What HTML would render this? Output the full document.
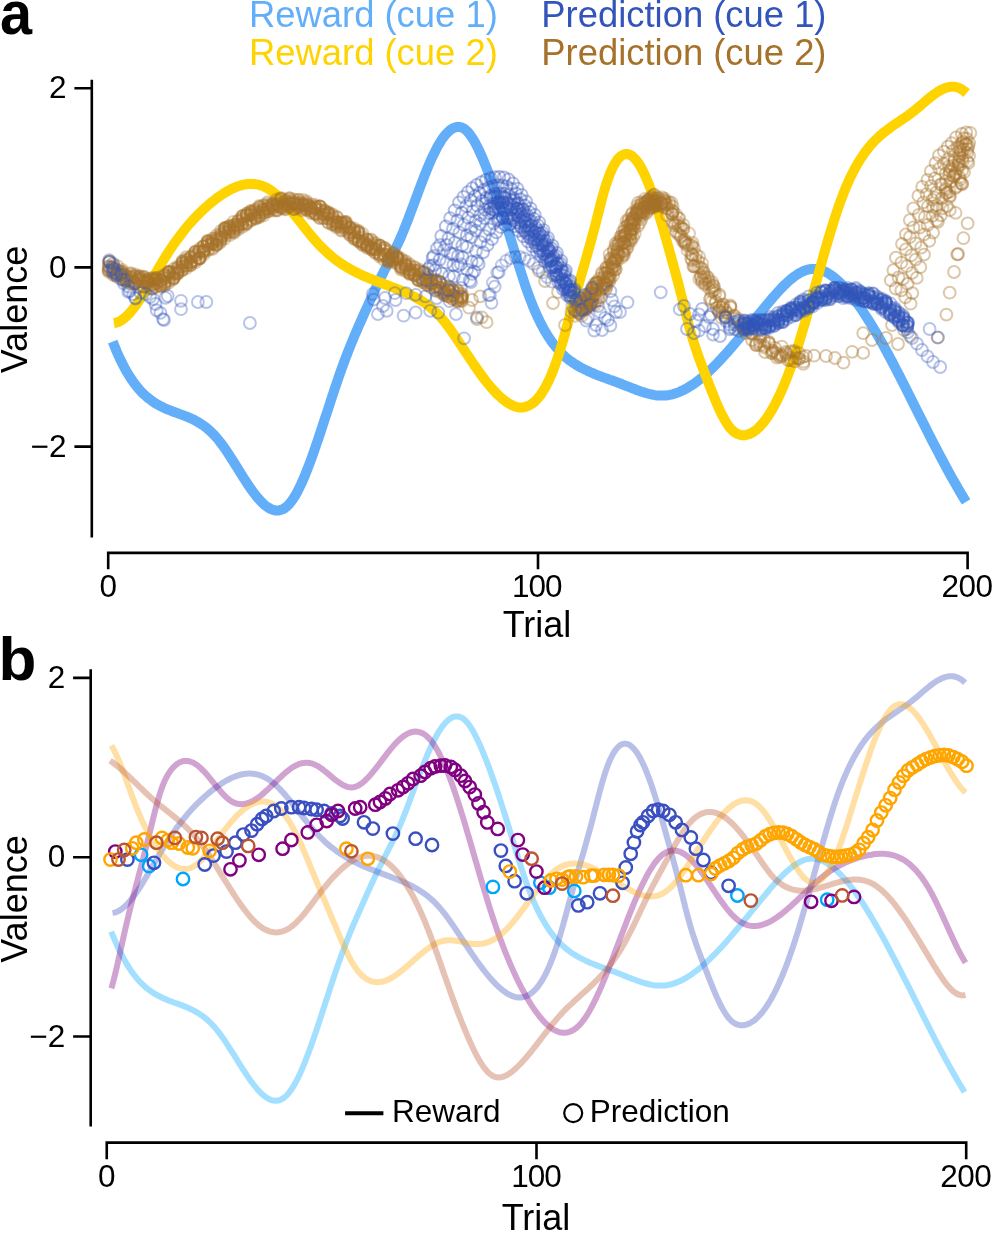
<!DOCTYPE html>
<html><head><meta charset="utf-8"><style>
html,body{margin:0;padding:0;background:#fff;}
body{width:993px;height:1233px;overflow:hidden;font-family:"Liberation Sans",sans-serif;}
svg{display:block;will-change:transform;}
</style></head><body>
<svg width="993" height="1233" viewBox="0 0 993 1233"><path d="M112.7,341.6L114.7,346.7L116.7,351.5L118.7,356.0L120.7,360.3L122.7,364.3L124.7,368.1L126.7,371.7L128.7,375.0L130.7,378.2L132.7,381.1L134.7,383.9L136.7,386.4L138.7,388.9L140.7,391.1L142.7,393.2L144.8,395.1L146.8,396.9L148.8,398.6L150.8,400.1L152.8,401.6L154.8,402.9L156.8,404.1L158.8,405.2L160.8,406.3L162.8,407.3L164.8,408.2L166.8,409.1L168.8,409.9L170.8,410.7L172.8,411.5L174.8,412.2L176.8,412.9L178.8,413.7L180.8,414.4L182.8,415.1L184.8,415.9L186.8,416.7L188.8,417.5L190.8,418.4L192.8,419.3L194.8,420.3L196.8,421.4L198.8,422.6L200.8,423.8L202.8,425.2L204.9,426.6L206.9,428.2L208.9,429.9L210.9,431.7L212.9,433.7L214.9,435.8L216.9,438.0L218.9,440.5L220.9,443.1L222.9,445.8L224.9,448.6L226.9,451.6L228.9,454.6L230.9,457.7L232.9,460.8L234.9,464.0L236.9,467.2L238.9,470.4L240.9,473.6L242.9,476.8L244.9,479.9L246.9,483.0L248.9,486.0L250.9,488.9L252.9,491.7L254.9,494.3L256.9,496.8L258.9,499.2L260.9,501.4L262.9,503.4L264.9,505.2L267.0,506.7L269.0,508.0L271.0,509.1L273.0,509.9L275.0,510.4L277.0,510.5L279.0,510.4L281.0,509.9L283.0,509.1L285.0,507.9L287.0,506.3L289.0,504.3L291.0,501.9L293.0,499.1L295.0,495.9L297.0,492.4L299.0,488.5L301.0,484.4L303.0,479.9L305.0,475.2L307.0,470.2L309.0,465.0L311.0,459.7L313.0,454.1L315.0,448.4L317.0,442.5L319.0,436.6L321.0,430.6L323.0,424.5L325.0,418.3L327.1,412.1L329.1,406.0L331.1,399.8L333.1,393.7L335.1,387.7L337.1,381.8L339.1,375.9L341.1,370.3L343.1,364.7L345.1,359.3L347.1,354.1L349.1,349.0L351.1,344.0L353.1,339.2L355.1,334.4L357.1,329.7L359.1,325.1L361.1,320.6L363.1,316.1L365.1,311.6L367.1,307.2L369.1,302.7L371.1,298.3L373.1,293.9L375.1,289.6L377.1,285.3L379.1,281.1L381.1,277.0L383.1,273.1L385.1,269.1L387.2,265.3L389.2,261.4L391.2,257.5L393.2,253.5L395.2,249.4L397.2,245.2L399.2,240.9L401.2,236.4L403.2,231.6L405.2,226.7L407.2,221.6L409.2,216.4L411.2,211.1L413.2,205.7L415.2,200.3L417.2,194.9L419.2,189.5L421.2,184.2L423.2,178.9L425.2,173.8L427.2,168.9L429.2,164.1L431.2,159.5L433.2,155.2L435.2,151.2L437.2,147.3L439.2,143.8L441.2,140.6L443.2,137.6L445.2,135.0L447.2,132.8L449.3,130.8L451.3,129.3L453.3,128.1L455.3,127.3L457.3,126.8L459.3,126.9L461.3,127.3L463.3,128.2L465.3,129.6L467.3,131.4L469.3,133.7L471.3,136.4L473.3,139.5L475.3,143.0L477.3,146.8L479.3,151.0L481.3,155.4L483.3,160.0L485.3,164.8L487.3,169.9L489.3,175.0L491.3,180.4L493.3,185.9L495.3,191.6L497.3,197.4L499.3,203.3L501.3,209.4L503.3,215.5L505.3,221.8L507.3,228.3L509.4,234.7L511.4,241.3L513.4,247.8L515.4,254.4L517.4,260.9L519.4,267.3L521.4,273.6L523.4,279.8L525.4,285.8L527.4,291.6L529.4,297.1L531.4,302.3L533.4,307.3L535.4,312.0L537.4,316.5L539.4,320.7L541.4,324.7L543.4,328.4L545.4,331.9L547.4,335.2L549.4,338.3L551.4,341.3L553.4,344.0L555.4,346.5L557.4,348.9L559.4,351.1L561.4,353.2L563.4,355.2L565.4,357.0L567.4,358.7L569.4,360.3L571.5,361.7L573.5,363.1L575.5,364.4L577.5,365.6L579.5,366.8L581.5,367.9L583.5,368.9L585.5,369.9L587.5,370.9L589.5,371.8L591.5,372.7L593.5,373.5L595.5,374.4L597.5,375.2L599.5,375.9L601.5,376.7L603.5,377.4L605.5,378.1L607.5,378.8L609.5,379.6L611.5,380.3L613.5,381.0L615.5,381.7L617.5,382.5L619.5,383.2L621.5,384.0L623.5,384.8L625.5,385.6L627.5,386.4L629.5,387.2L631.6,388.0L633.6,388.7L635.6,389.5L637.6,390.3L639.6,391.0L641.6,391.7L643.6,392.3L645.6,393.0L647.6,393.5L649.6,394.0L651.6,394.5L653.6,394.9L655.6,395.2L657.6,395.4L659.6,395.6L661.6,395.6L663.6,395.6L665.6,395.5L667.6,395.2L669.6,394.9L671.6,394.5L673.6,394.0L675.6,393.3L677.6,392.6L679.6,391.8L681.6,390.9L683.6,390.0L685.6,388.9L687.6,387.8L689.6,386.5L691.6,385.2L693.7,383.9L695.7,382.4L697.7,380.9L699.7,379.4L701.7,377.7L703.7,376.0L705.7,374.3L707.7,372.5L709.7,370.6L711.7,368.7L713.7,366.7L715.7,364.7L717.7,362.6L719.7,360.5L721.7,358.4L723.7,356.2L725.7,354.0L727.7,351.8L729.7,349.5L731.7,347.2L733.7,344.8L735.7,342.5L737.7,340.1L739.7,337.7L741.7,335.3L743.7,332.9L745.7,330.5L747.7,328.0L749.7,325.6L751.7,323.1L753.8,320.7L755.8,318.2L757.8,315.7L759.8,313.3L761.8,310.9L763.8,308.4L765.8,306.0L767.8,303.6L769.8,301.2L771.8,298.9L773.8,296.5L775.8,294.3L777.8,292.0L779.8,289.9L781.8,287.8L783.8,285.7L785.8,283.8L787.8,281.9L789.8,280.1L791.8,278.5L793.8,276.9L795.8,275.5L797.8,274.1L799.8,272.9L801.8,271.9L803.8,271.0L805.8,270.2L807.8,269.6L809.8,269.2L811.8,268.9L813.9,268.9L815.9,269.0L817.9,269.2L819.9,269.7L821.9,270.3L823.9,271.1L825.9,272.0L827.9,273.1L829.9,274.4L831.9,275.8L833.9,277.3L835.9,278.9L837.9,280.7L839.9,282.6L841.9,284.6L843.9,286.7L845.9,288.9L847.9,291.2L849.9,293.6L851.9,296.1L853.9,298.7L855.9,301.4L857.9,304.2L859.9,307.0L861.9,310.0L863.9,313.0L865.9,316.1L867.9,319.2L869.9,322.4L871.9,325.7L873.9,329.1L876.0,332.5L878.0,335.9L880.0,339.5L882.0,343.0L884.0,346.6L886.0,350.3L888.0,354.0L890.0,357.8L892.0,361.5L894.0,365.3L896.0,369.2L898.0,373.1L900.0,376.9L902.0,380.9L904.0,384.8L906.0,388.8L908.0,392.7L910.0,396.7L912.0,400.7L914.0,404.7L916.0,408.7L918.0,412.7L920.0,416.6L922.0,420.6L924.0,424.6L926.0,428.6L928.0,432.5L930.0,436.5L932.0,440.4L934.0,444.3L936.1,448.2L938.1,452.0L940.1,455.8L942.1,459.6L944.1,463.4L946.1,467.1L948.1,470.8L950.1,474.5L952.1,478.1L954.1,481.6L956.1,485.1L958.1,488.6L960.1,492.0L962.1,495.4L964.1,498.7L966.1,501.9" fill="none" stroke="#63AEF9" stroke-width="10.0" stroke-linejoin="round"/>
<path d="M113.9,323.0L115.9,322.7L117.9,322.1L119.9,321.2L121.9,320.0L123.9,318.5L125.9,316.8L127.9,314.9L129.9,312.8L131.9,310.4L133.9,307.9L135.9,305.3L137.9,302.4L139.9,299.5L141.9,296.4L143.9,293.3L145.9,290.0L147.9,286.7L149.9,283.3L151.9,279.9L153.9,276.4L155.9,273.0L157.9,269.5L159.9,266.1L161.9,262.7L163.9,259.4L165.9,256.2L167.9,253.0L169.9,249.9L171.9,246.9L173.9,244.0L176.0,241.1L178.0,238.4L180.0,235.7L182.0,233.1L184.0,230.5L186.0,228.0L188.0,225.6L190.0,223.3L192.0,221.1L194.0,218.9L196.0,216.7L198.0,214.7L200.0,212.7L202.0,210.7L204.0,208.9L206.0,207.0L208.0,205.3L210.0,203.6L212.0,201.9L214.0,200.4L216.0,198.8L218.0,197.3L220.0,195.9L222.0,194.6L224.0,193.3L226.0,192.0L228.0,190.9L230.0,189.8L232.0,188.8L234.0,187.9L236.0,187.0L238.0,186.3L240.0,185.6L242.0,185.1L244.0,184.6L246.0,184.3L248.0,184.1L250.0,183.9L252.0,183.9L254.0,184.1L256.0,184.3L258.0,184.7L260.0,185.2L262.0,185.8L264.0,186.6L266.0,187.5L268.0,188.6L270.0,189.8L272.0,191.2L274.0,192.7L276.0,194.4L278.0,196.2L280.0,198.2L282.0,200.2L284.0,202.3L286.0,204.6L288.0,206.9L290.0,209.3L292.0,211.7L294.0,214.2L296.0,216.7L298.1,219.2L300.1,221.8L302.1,224.3L304.1,226.9L306.1,229.4L308.1,231.9L310.1,234.4L312.1,236.8L314.1,239.2L316.1,241.4L318.1,243.6L320.1,245.7L322.1,247.8L324.1,249.7L326.1,251.6L328.1,253.4L330.1,255.1L332.1,256.8L334.1,258.4L336.1,259.9L338.1,261.4L340.1,262.8L342.1,264.2L344.1,265.5L346.1,266.7L348.1,267.9L350.1,269.1L352.1,270.2L354.1,271.2L356.1,272.3L358.1,273.3L360.1,274.2L362.1,275.2L364.1,276.1L366.1,276.9L368.1,277.8L370.1,278.6L372.1,279.4L374.1,280.2L376.1,281.0L378.1,281.8L380.1,282.5L382.1,283.3L384.1,284.0L386.1,284.8L388.1,285.5L390.1,286.3L392.1,287.1L394.1,287.8L396.1,288.6L398.1,289.4L400.1,290.2L402.1,291.1L404.1,291.9L406.1,292.8L408.1,293.7L410.1,294.6L412.1,295.6L414.1,296.6L416.1,297.7L418.1,298.9L420.2,300.0L422.2,301.3L424.2,302.6L426.2,304.1L428.2,305.6L430.2,307.2L432.2,308.9L434.2,310.7L436.2,312.6L438.2,314.6L440.2,316.7L442.2,319.0L444.2,321.4L446.2,323.9L448.2,326.6L450.2,329.3L452.2,332.1L454.2,335.0L456.2,338.0L458.2,341.0L460.2,344.0L462.2,347.0L464.2,350.0L466.2,353.1L468.2,356.1L470.2,359.1L472.2,362.0L474.2,365.0L476.2,367.8L478.2,370.7L480.2,373.5L482.2,376.2L484.2,378.9L486.2,381.5L488.2,384.0L490.2,386.4L492.2,388.7L494.2,390.9L496.2,393.1L498.2,395.1L500.2,396.9L502.2,398.7L504.2,400.3L506.2,401.8L508.2,403.1L510.2,404.3L512.2,405.3L514.2,406.2L516.2,406.8L518.2,407.2L520.2,407.4L522.2,407.4L524.2,407.2L526.2,406.7L528.2,405.9L530.2,404.9L532.2,403.6L534.2,402.0L536.2,400.1L538.2,397.9L540.3,395.3L542.3,392.4L544.3,389.2L546.3,385.6L548.3,381.6L550.3,377.2L552.3,372.5L554.3,367.3L556.3,361.8L558.3,355.9L560.3,349.7L562.3,343.1L564.3,336.1L566.3,328.9L568.3,321.6L570.3,314.2L572.3,306.8L574.3,299.7L576.3,292.6L578.3,285.6L580.3,278.7L582.3,271.7L584.3,264.8L586.3,257.8L588.3,250.7L590.3,243.5L592.3,236.2L594.3,228.7L596.3,220.9L598.3,213.0L600.3,205.2L602.3,197.6L604.3,190.5L606.3,183.9L608.3,178.1L610.3,172.9L612.3,168.4L614.3,164.5L616.3,161.3L618.3,158.6L620.3,156.6L622.3,155.2L624.3,154.3L626.3,154.0L628.3,154.3L630.3,155.0L632.3,156.3L634.3,158.1L636.3,160.3L638.3,163.0L640.3,166.2L642.3,169.8L644.3,173.9L646.3,178.3L648.3,183.1L650.3,188.3L652.3,193.9L654.3,199.8L656.3,206.0L658.3,212.4L660.3,219.1L662.4,225.9L664.4,232.9L666.4,240.0L668.4,247.2L670.4,254.5L672.4,261.7L674.4,269.0L676.4,276.4L678.4,283.9L680.4,291.7L682.4,299.6L684.4,307.7L686.4,315.8L688.4,323.6L690.4,331.0L692.4,337.9L694.4,344.4L696.4,350.5L698.4,356.3L700.4,361.8L702.4,367.1L704.4,372.3L706.4,377.5L708.4,382.7L710.4,387.8L712.4,392.9L714.4,397.9L716.4,402.7L718.4,407.2L720.4,411.6L722.4,415.7L724.4,419.4L726.4,422.8L728.4,425.8L730.4,428.3L732.4,430.4L734.4,432.1L736.4,433.4L738.4,434.3L740.4,434.9L742.4,435.2L744.4,435.2L746.4,434.9L748.4,434.3L750.4,433.5L752.4,432.5L754.4,431.2L756.4,429.7L758.4,427.9L760.4,425.9L762.4,423.7L764.4,421.3L766.4,418.6L768.4,415.7L770.4,412.5L772.4,409.1L774.4,405.5L776.4,401.6L778.4,397.6L780.4,393.3L782.4,388.7L784.5,384.0L786.5,379.0L788.5,373.8L790.5,368.3L792.5,362.7L794.5,356.8L796.5,350.7L798.5,344.4L800.5,337.8L802.5,331.1L804.5,324.3L806.5,317.3L808.5,310.2L810.5,303.0L812.5,295.8L814.5,288.5L816.5,281.2L818.5,273.9L820.5,266.7L822.5,259.5L824.5,252.4L826.5,245.4L828.5,238.5L830.5,231.8L832.5,225.2L834.5,218.9L836.5,212.7L838.5,206.9L840.5,201.2L842.5,195.9L844.5,190.8L846.5,186.0L848.5,181.5L850.5,177.2L852.5,173.1L854.5,169.2L856.5,165.6L858.5,162.2L860.5,158.9L862.5,155.9L864.5,153.0L866.5,150.3L868.5,147.8L870.5,145.4L872.5,143.1L874.5,141.0L876.5,139.0L878.5,137.1L880.5,135.3L882.5,133.6L884.5,131.9L886.5,130.4L888.5,128.9L890.5,127.4L892.5,126.0L894.5,124.6L896.5,123.3L898.5,121.9L900.5,120.6L902.5,119.2L904.5,117.9L906.6,116.5L908.6,115.1L910.6,113.6L912.6,112.1L914.6,110.5L916.6,108.8L918.6,107.1L920.6,105.4L922.6,103.7L924.6,102.0L926.6,100.3L928.6,98.6L930.6,97.0L932.6,95.5L934.6,94.0L936.6,92.6L938.6,91.3L940.6,90.2L942.6,89.2L944.6,88.3L946.6,87.6L948.6,87.1L950.6,86.8L952.6,86.7L954.6,86.8L956.6,87.2L958.6,87.8L960.6,88.7L962.6,89.9L964.6,91.4L966.6,93.1" fill="none" stroke="#FFD300" stroke-width="10.0" stroke-linejoin="round"/>
<g fill="none"><circle cx="108.5" cy="270.4" r="5.9" stroke="#A6722A" stroke-width="2.0" stroke-opacity="0.35"/><circle cx="108.9" cy="269.7" r="5.9" stroke="#A6722A" stroke-width="2.0" stroke-opacity="0.35"/><circle cx="109.6" cy="267.5" r="5.9" stroke="#A6722A" stroke-width="2.0" stroke-opacity="0.35"/><circle cx="109.0" cy="261.9" r="5.9" stroke="#A6722A" stroke-width="2.0" stroke-opacity="0.35"/><circle cx="108.7" cy="267.0" r="5.9" stroke="#A6722A" stroke-width="2.0" stroke-opacity="0.35"/><circle cx="109.2" cy="270.6" r="5.9" stroke="#A6722A" stroke-width="2.0" stroke-opacity="0.35"/><circle cx="108.9" cy="261.8" r="5.9" stroke="#A6722A" stroke-width="2.0" stroke-opacity="0.35"/><circle cx="108.7" cy="271.9" r="5.9" stroke="#A6722A" stroke-width="2.0" stroke-opacity="0.35"/><circle cx="108.7" cy="266.4" r="5.9" stroke="#A6722A" stroke-width="2.0" stroke-opacity="0.35"/><circle cx="109.5" cy="261.3" r="5.9" stroke="#A6722A" stroke-width="2.0" stroke-opacity="0.35"/><circle cx="113.4" cy="275.0" r="5.9" stroke="#A6722A" stroke-width="2.0" stroke-opacity="0.35"/><circle cx="113.0" cy="270.2" r="5.9" stroke="#A6722A" stroke-width="2.0" stroke-opacity="0.35"/><circle cx="113.8" cy="265.2" r="5.9" stroke="#A6722A" stroke-width="2.0" stroke-opacity="0.35"/><circle cx="113.3" cy="272.6" r="5.9" stroke="#A6722A" stroke-width="2.0" stroke-opacity="0.35"/><circle cx="113.5" cy="269.2" r="5.9" stroke="#A6722A" stroke-width="2.0" stroke-opacity="0.35"/><circle cx="112.9" cy="269.5" r="5.9" stroke="#A6722A" stroke-width="2.0" stroke-opacity="0.35"/><circle cx="113.1" cy="269.3" r="5.9" stroke="#A6722A" stroke-width="2.0" stroke-opacity="0.35"/><circle cx="113.1" cy="273.6" r="5.9" stroke="#A6722A" stroke-width="2.0" stroke-opacity="0.35"/><circle cx="113.6" cy="267.3" r="5.9" stroke="#A6722A" stroke-width="2.0" stroke-opacity="0.35"/><circle cx="113.4" cy="266.9" r="5.9" stroke="#A6722A" stroke-width="2.0" stroke-opacity="0.35"/><circle cx="117.5" cy="270.3" r="5.9" stroke="#A6722A" stroke-width="2.0" stroke-opacity="0.35"/><circle cx="117.8" cy="270.5" r="5.9" stroke="#A6722A" stroke-width="2.0" stroke-opacity="0.35"/><circle cx="117.6" cy="274.7" r="5.9" stroke="#A6722A" stroke-width="2.0" stroke-opacity="0.35"/><circle cx="117.5" cy="277.0" r="5.9" stroke="#A6722A" stroke-width="2.0" stroke-opacity="0.35"/><circle cx="117.2" cy="275.0" r="5.9" stroke="#A6722A" stroke-width="2.0" stroke-opacity="0.35"/><circle cx="117.5" cy="271.2" r="5.9" stroke="#A6722A" stroke-width="2.0" stroke-opacity="0.35"/><circle cx="117.8" cy="272.4" r="5.9" stroke="#A6722A" stroke-width="2.0" stroke-opacity="0.35"/><circle cx="117.5" cy="266.1" r="5.9" stroke="#A6722A" stroke-width="2.0" stroke-opacity="0.35"/><circle cx="117.1" cy="274.6" r="5.9" stroke="#A6722A" stroke-width="2.0" stroke-opacity="0.35"/><circle cx="117.6" cy="274.4" r="5.9" stroke="#A6722A" stroke-width="2.0" stroke-opacity="0.35"/><circle cx="122.4" cy="276.6" r="5.9" stroke="#A6722A" stroke-width="2.0" stroke-opacity="0.35"/><circle cx="121.4" cy="272.1" r="5.9" stroke="#A6722A" stroke-width="2.0" stroke-opacity="0.35"/><circle cx="122.0" cy="271.3" r="5.9" stroke="#A6722A" stroke-width="2.0" stroke-opacity="0.35"/><circle cx="122.5" cy="279.8" r="5.9" stroke="#A6722A" stroke-width="2.0" stroke-opacity="0.35"/><circle cx="122.3" cy="274.1" r="5.9" stroke="#A6722A" stroke-width="2.0" stroke-opacity="0.35"/><circle cx="122.3" cy="270.0" r="5.9" stroke="#A6722A" stroke-width="2.0" stroke-opacity="0.35"/><circle cx="121.7" cy="274.0" r="5.9" stroke="#A6722A" stroke-width="2.0" stroke-opacity="0.35"/><circle cx="122.2" cy="274.3" r="5.9" stroke="#A6722A" stroke-width="2.0" stroke-opacity="0.35"/><circle cx="121.5" cy="272.6" r="5.9" stroke="#A6722A" stroke-width="2.0" stroke-opacity="0.35"/><circle cx="121.7" cy="272.0" r="5.9" stroke="#A6722A" stroke-width="2.0" stroke-opacity="0.35"/><circle cx="125.8" cy="275.5" r="5.9" stroke="#A6722A" stroke-width="2.0" stroke-opacity="0.35"/><circle cx="126.1" cy="279.9" r="5.9" stroke="#A6722A" stroke-width="2.0" stroke-opacity="0.35"/><circle cx="126.6" cy="276.8" r="5.9" stroke="#A6722A" stroke-width="2.0" stroke-opacity="0.35"/><circle cx="126.2" cy="279.9" r="5.9" stroke="#A6722A" stroke-width="2.0" stroke-opacity="0.35"/><circle cx="126.7" cy="278.7" r="5.9" stroke="#A6722A" stroke-width="2.0" stroke-opacity="0.35"/><circle cx="126.6" cy="281.8" r="5.9" stroke="#A6722A" stroke-width="2.0" stroke-opacity="0.35"/><circle cx="125.6" cy="281.1" r="5.9" stroke="#A6722A" stroke-width="2.0" stroke-opacity="0.35"/><circle cx="125.9" cy="276.3" r="5.9" stroke="#A6722A" stroke-width="2.0" stroke-opacity="0.35"/><circle cx="126.6" cy="279.2" r="5.9" stroke="#A6722A" stroke-width="2.0" stroke-opacity="0.35"/><circle cx="125.8" cy="278.5" r="5.9" stroke="#A6722A" stroke-width="2.0" stroke-opacity="0.35"/><circle cx="130.0" cy="276.7" r="5.9" stroke="#A6722A" stroke-width="2.0" stroke-opacity="0.35"/><circle cx="130.9" cy="277.6" r="5.9" stroke="#A6722A" stroke-width="2.0" stroke-opacity="0.35"/><circle cx="130.6" cy="281.2" r="5.9" stroke="#A6722A" stroke-width="2.0" stroke-opacity="0.35"/><circle cx="130.9" cy="281.5" r="5.9" stroke="#A6722A" stroke-width="2.0" stroke-opacity="0.35"/><circle cx="129.9" cy="277.5" r="5.9" stroke="#A6722A" stroke-width="2.0" stroke-opacity="0.35"/><circle cx="130.5" cy="273.1" r="5.9" stroke="#A6722A" stroke-width="2.0" stroke-opacity="0.35"/><circle cx="130.5" cy="279.7" r="5.9" stroke="#A6722A" stroke-width="2.0" stroke-opacity="0.35"/><circle cx="130.9" cy="283.7" r="5.9" stroke="#A6722A" stroke-width="2.0" stroke-opacity="0.35"/><circle cx="130.1" cy="275.2" r="5.9" stroke="#A6722A" stroke-width="2.0" stroke-opacity="0.35"/><circle cx="130.7" cy="274.0" r="5.9" stroke="#A6722A" stroke-width="2.0" stroke-opacity="0.35"/><circle cx="134.5" cy="280.9" r="5.9" stroke="#A6722A" stroke-width="2.0" stroke-opacity="0.35"/><circle cx="134.4" cy="283.4" r="5.9" stroke="#A6722A" stroke-width="2.0" stroke-opacity="0.35"/><circle cx="135.2" cy="274.4" r="5.9" stroke="#A6722A" stroke-width="2.0" stroke-opacity="0.35"/><circle cx="134.8" cy="283.5" r="5.9" stroke="#A6722A" stroke-width="2.0" stroke-opacity="0.35"/><circle cx="135.4" cy="277.3" r="5.9" stroke="#A6722A" stroke-width="2.0" stroke-opacity="0.35"/><circle cx="134.4" cy="284.5" r="5.9" stroke="#A6722A" stroke-width="2.0" stroke-opacity="0.35"/><circle cx="135.3" cy="276.4" r="5.9" stroke="#A6722A" stroke-width="2.0" stroke-opacity="0.35"/><circle cx="134.7" cy="282.6" r="5.9" stroke="#A6722A" stroke-width="2.0" stroke-opacity="0.35"/><circle cx="135.2" cy="276.0" r="5.9" stroke="#A6722A" stroke-width="2.0" stroke-opacity="0.35"/><circle cx="135.0" cy="283.7" r="5.9" stroke="#A6722A" stroke-width="2.0" stroke-opacity="0.35"/><circle cx="139.2" cy="277.2" r="5.9" stroke="#A6722A" stroke-width="2.0" stroke-opacity="0.35"/><circle cx="138.5" cy="278.6" r="5.9" stroke="#A6722A" stroke-width="2.0" stroke-opacity="0.35"/><circle cx="139.5" cy="275.8" r="5.9" stroke="#A6722A" stroke-width="2.0" stroke-opacity="0.35"/><circle cx="138.5" cy="279.6" r="5.9" stroke="#A6722A" stroke-width="2.0" stroke-opacity="0.35"/><circle cx="138.6" cy="277.0" r="5.9" stroke="#A6722A" stroke-width="2.0" stroke-opacity="0.35"/><circle cx="138.5" cy="281.5" r="5.9" stroke="#A6722A" stroke-width="2.0" stroke-opacity="0.35"/><circle cx="139.3" cy="280.4" r="5.9" stroke="#A6722A" stroke-width="2.0" stroke-opacity="0.35"/><circle cx="138.7" cy="279.2" r="5.9" stroke="#A6722A" stroke-width="2.0" stroke-opacity="0.35"/><circle cx="139.2" cy="286.5" r="5.9" stroke="#A6722A" stroke-width="2.0" stroke-opacity="0.35"/><circle cx="139.7" cy="278.1" r="5.9" stroke="#A6722A" stroke-width="2.0" stroke-opacity="0.35"/><circle cx="142.8" cy="286.2" r="5.9" stroke="#A6722A" stroke-width="2.0" stroke-opacity="0.35"/><circle cx="143.9" cy="281.7" r="5.9" stroke="#A6722A" stroke-width="2.0" stroke-opacity="0.35"/><circle cx="143.7" cy="286.6" r="5.9" stroke="#A6722A" stroke-width="2.0" stroke-opacity="0.35"/><circle cx="143.5" cy="286.7" r="5.9" stroke="#A6722A" stroke-width="2.0" stroke-opacity="0.35"/><circle cx="142.8" cy="279.4" r="5.9" stroke="#A6722A" stroke-width="2.0" stroke-opacity="0.35"/><circle cx="143.1" cy="277.6" r="5.9" stroke="#A6722A" stroke-width="2.0" stroke-opacity="0.35"/><circle cx="143.9" cy="276.6" r="5.9" stroke="#A6722A" stroke-width="2.0" stroke-opacity="0.35"/><circle cx="143.6" cy="277.0" r="5.9" stroke="#A6722A" stroke-width="2.0" stroke-opacity="0.35"/><circle cx="143.2" cy="281.2" r="5.9" stroke="#A6722A" stroke-width="2.0" stroke-opacity="0.35"/><circle cx="143.0" cy="282.4" r="5.9" stroke="#A6722A" stroke-width="2.0" stroke-opacity="0.35"/><circle cx="147.7" cy="280.6" r="5.9" stroke="#A6722A" stroke-width="2.0" stroke-opacity="0.35"/><circle cx="148.0" cy="278.7" r="5.9" stroke="#A6722A" stroke-width="2.0" stroke-opacity="0.35"/><circle cx="147.3" cy="281.1" r="5.9" stroke="#A6722A" stroke-width="2.0" stroke-opacity="0.35"/><circle cx="147.6" cy="279.3" r="5.9" stroke="#A6722A" stroke-width="2.0" stroke-opacity="0.35"/><circle cx="148.2" cy="286.7" r="5.9" stroke="#A6722A" stroke-width="2.0" stroke-opacity="0.35"/><circle cx="147.2" cy="281.2" r="5.9" stroke="#A6722A" stroke-width="2.0" stroke-opacity="0.35"/><circle cx="147.4" cy="282.2" r="5.9" stroke="#A6722A" stroke-width="2.0" stroke-opacity="0.35"/><circle cx="147.4" cy="282.8" r="5.9" stroke="#A6722A" stroke-width="2.0" stroke-opacity="0.35"/><circle cx="148.2" cy="281.4" r="5.9" stroke="#A6722A" stroke-width="2.0" stroke-opacity="0.35"/><circle cx="147.9" cy="284.0" r="5.9" stroke="#A6722A" stroke-width="2.0" stroke-opacity="0.35"/><circle cx="152.3" cy="277.8" r="5.9" stroke="#A6722A" stroke-width="2.0" stroke-opacity="0.35"/><circle cx="152.3" cy="288.4" r="5.9" stroke="#A6722A" stroke-width="2.0" stroke-opacity="0.35"/><circle cx="152.1" cy="280.5" r="5.9" stroke="#A6722A" stroke-width="2.0" stroke-opacity="0.35"/><circle cx="152.2" cy="285.6" r="5.9" stroke="#A6722A" stroke-width="2.0" stroke-opacity="0.35"/><circle cx="152.2" cy="278.8" r="5.9" stroke="#A6722A" stroke-width="2.0" stroke-opacity="0.35"/><circle cx="152.6" cy="288.5" r="5.9" stroke="#A6722A" stroke-width="2.0" stroke-opacity="0.35"/><circle cx="151.9" cy="284.2" r="5.9" stroke="#A6722A" stroke-width="2.0" stroke-opacity="0.35"/><circle cx="151.4" cy="288.9" r="5.9" stroke="#A6722A" stroke-width="2.0" stroke-opacity="0.35"/><circle cx="152.4" cy="284.7" r="5.9" stroke="#A6722A" stroke-width="2.0" stroke-opacity="0.35"/><circle cx="152.3" cy="279.3" r="5.9" stroke="#A6722A" stroke-width="2.0" stroke-opacity="0.35"/><circle cx="156.1" cy="279.8" r="5.9" stroke="#A6722A" stroke-width="2.0" stroke-opacity="0.35"/><circle cx="156.4" cy="278.0" r="5.9" stroke="#A6722A" stroke-width="2.0" stroke-opacity="0.35"/><circle cx="156.8" cy="282.4" r="5.9" stroke="#A6722A" stroke-width="2.0" stroke-opacity="0.35"/><circle cx="156.2" cy="278.1" r="5.9" stroke="#A6722A" stroke-width="2.0" stroke-opacity="0.35"/><circle cx="156.5" cy="286.7" r="5.9" stroke="#A6722A" stroke-width="2.0" stroke-opacity="0.35"/><circle cx="156.5" cy="279.8" r="5.9" stroke="#A6722A" stroke-width="2.0" stroke-opacity="0.35"/><circle cx="156.6" cy="278.6" r="5.9" stroke="#A6722A" stroke-width="2.0" stroke-opacity="0.35"/><circle cx="156.7" cy="283.9" r="5.9" stroke="#A6722A" stroke-width="2.0" stroke-opacity="0.35"/><circle cx="156.0" cy="283.0" r="5.9" stroke="#A6722A" stroke-width="2.0" stroke-opacity="0.35"/><circle cx="156.5" cy="280.0" r="5.9" stroke="#A6722A" stroke-width="2.0" stroke-opacity="0.35"/><circle cx="161.0" cy="281.0" r="5.9" stroke="#A6722A" stroke-width="2.0" stroke-opacity="0.35"/><circle cx="161.1" cy="286.0" r="5.9" stroke="#A6722A" stroke-width="2.0" stroke-opacity="0.35"/><circle cx="160.1" cy="283.7" r="5.9" stroke="#A6722A" stroke-width="2.0" stroke-opacity="0.35"/><circle cx="160.4" cy="285.0" r="5.9" stroke="#A6722A" stroke-width="2.0" stroke-opacity="0.35"/><circle cx="160.7" cy="281.4" r="5.9" stroke="#A6722A" stroke-width="2.0" stroke-opacity="0.35"/><circle cx="161.1" cy="276.6" r="5.9" stroke="#A6722A" stroke-width="2.0" stroke-opacity="0.35"/><circle cx="160.7" cy="279.9" r="5.9" stroke="#A6722A" stroke-width="2.0" stroke-opacity="0.35"/><circle cx="160.0" cy="285.0" r="5.9" stroke="#A6722A" stroke-width="2.0" stroke-opacity="0.35"/><circle cx="160.7" cy="286.7" r="5.9" stroke="#A6722A" stroke-width="2.0" stroke-opacity="0.35"/><circle cx="160.7" cy="280.0" r="5.9" stroke="#A6722A" stroke-width="2.0" stroke-opacity="0.35"/><circle cx="165.5" cy="275.4" r="5.9" stroke="#A6722A" stroke-width="2.0" stroke-opacity="0.35"/><circle cx="164.4" cy="282.8" r="5.9" stroke="#A6722A" stroke-width="2.0" stroke-opacity="0.35"/><circle cx="164.7" cy="278.3" r="5.9" stroke="#A6722A" stroke-width="2.0" stroke-opacity="0.35"/><circle cx="165.4" cy="277.9" r="5.9" stroke="#A6722A" stroke-width="2.0" stroke-opacity="0.35"/><circle cx="165.4" cy="281.7" r="5.9" stroke="#A6722A" stroke-width="2.0" stroke-opacity="0.35"/><circle cx="164.7" cy="274.7" r="5.9" stroke="#A6722A" stroke-width="2.0" stroke-opacity="0.35"/><circle cx="164.6" cy="285.6" r="5.9" stroke="#A6722A" stroke-width="2.0" stroke-opacity="0.35"/><circle cx="164.8" cy="275.9" r="5.9" stroke="#A6722A" stroke-width="2.0" stroke-opacity="0.35"/><circle cx="164.7" cy="284.8" r="5.9" stroke="#A6722A" stroke-width="2.0" stroke-opacity="0.35"/><circle cx="164.5" cy="283.3" r="5.9" stroke="#A6722A" stroke-width="2.0" stroke-opacity="0.35"/><circle cx="168.8" cy="282.6" r="5.9" stroke="#A6722A" stroke-width="2.0" stroke-opacity="0.35"/><circle cx="169.2" cy="271.6" r="5.9" stroke="#A6722A" stroke-width="2.0" stroke-opacity="0.35"/><circle cx="169.7" cy="275.4" r="5.9" stroke="#A6722A" stroke-width="2.0" stroke-opacity="0.35"/><circle cx="169.5" cy="277.4" r="5.9" stroke="#A6722A" stroke-width="2.0" stroke-opacity="0.35"/><circle cx="168.7" cy="272.4" r="5.9" stroke="#A6722A" stroke-width="2.0" stroke-opacity="0.35"/><circle cx="168.8" cy="273.0" r="5.9" stroke="#A6722A" stroke-width="2.0" stroke-opacity="0.35"/><circle cx="168.7" cy="271.7" r="5.9" stroke="#A6722A" stroke-width="2.0" stroke-opacity="0.35"/><circle cx="169.7" cy="272.2" r="5.9" stroke="#A6722A" stroke-width="2.0" stroke-opacity="0.35"/><circle cx="169.2" cy="272.5" r="5.9" stroke="#A6722A" stroke-width="2.0" stroke-opacity="0.35"/><circle cx="168.9" cy="280.3" r="5.9" stroke="#A6722A" stroke-width="2.0" stroke-opacity="0.35"/><circle cx="174.0" cy="273.3" r="5.9" stroke="#A6722A" stroke-width="2.0" stroke-opacity="0.35"/><circle cx="172.9" cy="279.7" r="5.9" stroke="#A6722A" stroke-width="2.0" stroke-opacity="0.35"/><circle cx="173.0" cy="272.3" r="5.9" stroke="#A6722A" stroke-width="2.0" stroke-opacity="0.35"/><circle cx="173.5" cy="278.4" r="5.9" stroke="#A6722A" stroke-width="2.0" stroke-opacity="0.35"/><circle cx="173.9" cy="275.0" r="5.9" stroke="#A6722A" stroke-width="2.0" stroke-opacity="0.35"/><circle cx="173.4" cy="277.7" r="5.9" stroke="#A6722A" stroke-width="2.0" stroke-opacity="0.35"/><circle cx="173.9" cy="278.1" r="5.9" stroke="#A6722A" stroke-width="2.0" stroke-opacity="0.35"/><circle cx="173.8" cy="268.8" r="5.9" stroke="#A6722A" stroke-width="2.0" stroke-opacity="0.35"/><circle cx="173.3" cy="273.5" r="5.9" stroke="#A6722A" stroke-width="2.0" stroke-opacity="0.35"/><circle cx="173.5" cy="277.7" r="5.9" stroke="#A6722A" stroke-width="2.0" stroke-opacity="0.35"/><circle cx="177.5" cy="272.1" r="5.9" stroke="#A6722A" stroke-width="2.0" stroke-opacity="0.35"/><circle cx="177.6" cy="273.4" r="5.9" stroke="#A6722A" stroke-width="2.0" stroke-opacity="0.35"/><circle cx="177.4" cy="269.8" r="5.9" stroke="#A6722A" stroke-width="2.0" stroke-opacity="0.35"/><circle cx="177.3" cy="266.6" r="5.9" stroke="#A6722A" stroke-width="2.0" stroke-opacity="0.35"/><circle cx="178.3" cy="267.9" r="5.9" stroke="#A6722A" stroke-width="2.0" stroke-opacity="0.35"/><circle cx="178.3" cy="270.4" r="5.9" stroke="#A6722A" stroke-width="2.0" stroke-opacity="0.35"/><circle cx="177.2" cy="273.6" r="5.9" stroke="#A6722A" stroke-width="2.0" stroke-opacity="0.35"/><circle cx="177.3" cy="274.0" r="5.9" stroke="#A6722A" stroke-width="2.0" stroke-opacity="0.35"/><circle cx="177.2" cy="272.2" r="5.9" stroke="#A6722A" stroke-width="2.0" stroke-opacity="0.35"/><circle cx="177.4" cy="268.2" r="5.9" stroke="#A6722A" stroke-width="2.0" stroke-opacity="0.35"/><circle cx="182.6" cy="266.4" r="5.9" stroke="#A6722A" stroke-width="2.0" stroke-opacity="0.35"/><circle cx="182.3" cy="269.5" r="5.9" stroke="#A6722A" stroke-width="2.0" stroke-opacity="0.35"/><circle cx="181.6" cy="270.7" r="5.9" stroke="#A6722A" stroke-width="2.0" stroke-opacity="0.35"/><circle cx="182.6" cy="262.5" r="5.9" stroke="#A6722A" stroke-width="2.0" stroke-opacity="0.35"/><circle cx="182.2" cy="264.0" r="5.9" stroke="#A6722A" stroke-width="2.0" stroke-opacity="0.35"/><circle cx="182.4" cy="260.9" r="5.9" stroke="#A6722A" stroke-width="2.0" stroke-opacity="0.35"/><circle cx="182.1" cy="270.1" r="5.9" stroke="#A6722A" stroke-width="2.0" stroke-opacity="0.35"/><circle cx="182.4" cy="261.9" r="5.9" stroke="#A6722A" stroke-width="2.0" stroke-opacity="0.35"/><circle cx="182.5" cy="263.4" r="5.9" stroke="#A6722A" stroke-width="2.0" stroke-opacity="0.35"/><circle cx="182.5" cy="266.6" r="5.9" stroke="#A6722A" stroke-width="2.0" stroke-opacity="0.35"/><circle cx="186.0" cy="266.0" r="5.9" stroke="#A6722A" stroke-width="2.0" stroke-opacity="0.35"/><circle cx="186.8" cy="265.5" r="5.9" stroke="#A6722A" stroke-width="2.0" stroke-opacity="0.35"/><circle cx="187.0" cy="260.2" r="5.9" stroke="#A6722A" stroke-width="2.0" stroke-opacity="0.35"/><circle cx="186.1" cy="258.9" r="5.9" stroke="#A6722A" stroke-width="2.0" stroke-opacity="0.35"/><circle cx="186.4" cy="261.9" r="5.9" stroke="#A6722A" stroke-width="2.0" stroke-opacity="0.35"/><circle cx="186.2" cy="262.7" r="5.9" stroke="#A6722A" stroke-width="2.0" stroke-opacity="0.35"/><circle cx="186.1" cy="257.2" r="5.9" stroke="#A6722A" stroke-width="2.0" stroke-opacity="0.35"/><circle cx="186.4" cy="260.5" r="5.9" stroke="#A6722A" stroke-width="2.0" stroke-opacity="0.35"/><circle cx="186.3" cy="268.3" r="5.9" stroke="#A6722A" stroke-width="2.0" stroke-opacity="0.35"/><circle cx="186.0" cy="264.8" r="5.9" stroke="#A6722A" stroke-width="2.0" stroke-opacity="0.35"/><circle cx="190.9" cy="257.1" r="5.9" stroke="#A6722A" stroke-width="2.0" stroke-opacity="0.35"/><circle cx="190.7" cy="265.4" r="5.9" stroke="#A6722A" stroke-width="2.0" stroke-opacity="0.35"/><circle cx="190.5" cy="262.3" r="5.9" stroke="#A6722A" stroke-width="2.0" stroke-opacity="0.35"/><circle cx="191.1" cy="258.1" r="5.9" stroke="#A6722A" stroke-width="2.0" stroke-opacity="0.35"/><circle cx="191.3" cy="261.3" r="5.9" stroke="#A6722A" stroke-width="2.0" stroke-opacity="0.35"/><circle cx="190.7" cy="262.3" r="5.9" stroke="#A6722A" stroke-width="2.0" stroke-opacity="0.35"/><circle cx="190.6" cy="262.3" r="5.9" stroke="#A6722A" stroke-width="2.0" stroke-opacity="0.35"/><circle cx="190.4" cy="264.9" r="5.9" stroke="#A6722A" stroke-width="2.0" stroke-opacity="0.35"/><circle cx="190.8" cy="256.7" r="5.9" stroke="#A6722A" stroke-width="2.0" stroke-opacity="0.35"/><circle cx="190.6" cy="264.5" r="5.9" stroke="#A6722A" stroke-width="2.0" stroke-opacity="0.35"/><circle cx="195.4" cy="256.2" r="5.9" stroke="#A6722A" stroke-width="2.0" stroke-opacity="0.35"/><circle cx="194.8" cy="254.9" r="5.9" stroke="#A6722A" stroke-width="2.0" stroke-opacity="0.35"/><circle cx="195.6" cy="251.7" r="5.9" stroke="#A6722A" stroke-width="2.0" stroke-opacity="0.35"/><circle cx="195.5" cy="260.7" r="5.9" stroke="#A6722A" stroke-width="2.0" stroke-opacity="0.35"/><circle cx="194.7" cy="254.6" r="5.9" stroke="#A6722A" stroke-width="2.0" stroke-opacity="0.35"/><circle cx="195.1" cy="260.0" r="5.9" stroke="#A6722A" stroke-width="2.0" stroke-opacity="0.35"/><circle cx="195.5" cy="262.3" r="5.9" stroke="#A6722A" stroke-width="2.0" stroke-opacity="0.35"/><circle cx="194.7" cy="252.7" r="5.9" stroke="#A6722A" stroke-width="2.0" stroke-opacity="0.35"/><circle cx="195.0" cy="257.1" r="5.9" stroke="#A6722A" stroke-width="2.0" stroke-opacity="0.35"/><circle cx="195.2" cy="251.7" r="5.9" stroke="#A6722A" stroke-width="2.0" stroke-opacity="0.35"/><circle cx="199.5" cy="258.1" r="5.9" stroke="#A6722A" stroke-width="2.0" stroke-opacity="0.35"/><circle cx="199.8" cy="258.4" r="5.9" stroke="#A6722A" stroke-width="2.0" stroke-opacity="0.35"/><circle cx="199.8" cy="258.6" r="5.9" stroke="#A6722A" stroke-width="2.0" stroke-opacity="0.35"/><circle cx="198.8" cy="258.1" r="5.9" stroke="#A6722A" stroke-width="2.0" stroke-opacity="0.35"/><circle cx="199.0" cy="250.9" r="5.9" stroke="#A6722A" stroke-width="2.0" stroke-opacity="0.35"/><circle cx="199.3" cy="258.5" r="5.9" stroke="#A6722A" stroke-width="2.0" stroke-opacity="0.35"/><circle cx="199.4" cy="251.3" r="5.9" stroke="#A6722A" stroke-width="2.0" stroke-opacity="0.35"/><circle cx="199.1" cy="257.9" r="5.9" stroke="#A6722A" stroke-width="2.0" stroke-opacity="0.35"/><circle cx="199.7" cy="248.7" r="5.9" stroke="#A6722A" stroke-width="2.0" stroke-opacity="0.35"/><circle cx="199.0" cy="251.5" r="5.9" stroke="#A6722A" stroke-width="2.0" stroke-opacity="0.35"/><circle cx="203.3" cy="250.5" r="5.9" stroke="#A6722A" stroke-width="2.0" stroke-opacity="0.35"/><circle cx="203.3" cy="250.7" r="5.9" stroke="#A6722A" stroke-width="2.0" stroke-opacity="0.35"/><circle cx="204.1" cy="254.0" r="5.9" stroke="#A6722A" stroke-width="2.0" stroke-opacity="0.35"/><circle cx="203.1" cy="246.3" r="5.9" stroke="#A6722A" stroke-width="2.0" stroke-opacity="0.35"/><circle cx="203.5" cy="251.5" r="5.9" stroke="#A6722A" stroke-width="2.0" stroke-opacity="0.35"/><circle cx="203.5" cy="246.8" r="5.9" stroke="#A6722A" stroke-width="2.0" stroke-opacity="0.35"/><circle cx="203.4" cy="246.2" r="5.9" stroke="#A6722A" stroke-width="2.0" stroke-opacity="0.35"/><circle cx="204.0" cy="252.1" r="5.9" stroke="#A6722A" stroke-width="2.0" stroke-opacity="0.35"/><circle cx="203.5" cy="252.2" r="5.9" stroke="#A6722A" stroke-width="2.0" stroke-opacity="0.35"/><circle cx="203.6" cy="250.1" r="5.9" stroke="#A6722A" stroke-width="2.0" stroke-opacity="0.35"/><circle cx="207.7" cy="246.3" r="5.9" stroke="#A6722A" stroke-width="2.0" stroke-opacity="0.35"/><circle cx="208.5" cy="249.9" r="5.9" stroke="#A6722A" stroke-width="2.0" stroke-opacity="0.35"/><circle cx="208.3" cy="242.0" r="5.9" stroke="#A6722A" stroke-width="2.0" stroke-opacity="0.35"/><circle cx="207.9" cy="244.9" r="5.9" stroke="#A6722A" stroke-width="2.0" stroke-opacity="0.35"/><circle cx="207.4" cy="245.2" r="5.9" stroke="#A6722A" stroke-width="2.0" stroke-opacity="0.35"/><circle cx="207.4" cy="243.3" r="5.9" stroke="#A6722A" stroke-width="2.0" stroke-opacity="0.35"/><circle cx="208.3" cy="248.7" r="5.9" stroke="#A6722A" stroke-width="2.0" stroke-opacity="0.35"/><circle cx="208.1" cy="241.4" r="5.9" stroke="#A6722A" stroke-width="2.0" stroke-opacity="0.35"/><circle cx="207.5" cy="240.7" r="5.9" stroke="#A6722A" stroke-width="2.0" stroke-opacity="0.35"/><circle cx="207.4" cy="241.7" r="5.9" stroke="#A6722A" stroke-width="2.0" stroke-opacity="0.35"/><circle cx="212.8" cy="247.9" r="5.9" stroke="#A6722A" stroke-width="2.0" stroke-opacity="0.35"/><circle cx="211.8" cy="240.3" r="5.9" stroke="#A6722A" stroke-width="2.0" stroke-opacity="0.35"/><circle cx="212.8" cy="244.1" r="5.9" stroke="#A6722A" stroke-width="2.0" stroke-opacity="0.35"/><circle cx="212.0" cy="242.8" r="5.9" stroke="#A6722A" stroke-width="2.0" stroke-opacity="0.35"/><circle cx="211.9" cy="244.2" r="5.9" stroke="#A6722A" stroke-width="2.0" stroke-opacity="0.35"/><circle cx="212.5" cy="243.4" r="5.9" stroke="#A6722A" stroke-width="2.0" stroke-opacity="0.35"/><circle cx="212.6" cy="238.6" r="5.9" stroke="#A6722A" stroke-width="2.0" stroke-opacity="0.35"/><circle cx="212.3" cy="249.1" r="5.9" stroke="#A6722A" stroke-width="2.0" stroke-opacity="0.35"/><circle cx="211.8" cy="243.2" r="5.9" stroke="#A6722A" stroke-width="2.0" stroke-opacity="0.35"/><circle cx="212.4" cy="241.3" r="5.9" stroke="#A6722A" stroke-width="2.0" stroke-opacity="0.35"/><circle cx="217.1" cy="239.8" r="5.9" stroke="#A6722A" stroke-width="2.0" stroke-opacity="0.35"/><circle cx="216.5" cy="244.8" r="5.9" stroke="#A6722A" stroke-width="2.0" stroke-opacity="0.35"/><circle cx="215.9" cy="244.4" r="5.9" stroke="#A6722A" stroke-width="2.0" stroke-opacity="0.35"/><circle cx="216.1" cy="238.5" r="5.9" stroke="#A6722A" stroke-width="2.0" stroke-opacity="0.35"/><circle cx="216.5" cy="239.7" r="5.9" stroke="#A6722A" stroke-width="2.0" stroke-opacity="0.35"/><circle cx="215.9" cy="237.8" r="5.9" stroke="#A6722A" stroke-width="2.0" stroke-opacity="0.35"/><circle cx="216.3" cy="245.4" r="5.9" stroke="#A6722A" stroke-width="2.0" stroke-opacity="0.35"/><circle cx="217.0" cy="241.0" r="5.9" stroke="#A6722A" stroke-width="2.0" stroke-opacity="0.35"/><circle cx="217.0" cy="244.3" r="5.9" stroke="#A6722A" stroke-width="2.0" stroke-opacity="0.35"/><circle cx="216.4" cy="235.4" r="5.9" stroke="#A6722A" stroke-width="2.0" stroke-opacity="0.35"/><circle cx="220.9" cy="234.6" r="5.9" stroke="#A6722A" stroke-width="2.0" stroke-opacity="0.35"/><circle cx="220.2" cy="242.5" r="5.9" stroke="#A6722A" stroke-width="2.0" stroke-opacity="0.35"/><circle cx="221.4" cy="237.2" r="5.9" stroke="#A6722A" stroke-width="2.0" stroke-opacity="0.35"/><circle cx="220.9" cy="238.8" r="5.9" stroke="#A6722A" stroke-width="2.0" stroke-opacity="0.35"/><circle cx="221.3" cy="236.4" r="5.9" stroke="#A6722A" stroke-width="2.0" stroke-opacity="0.35"/><circle cx="220.9" cy="233.5" r="5.9" stroke="#A6722A" stroke-width="2.0" stroke-opacity="0.35"/><circle cx="220.5" cy="237.0" r="5.9" stroke="#A6722A" stroke-width="2.0" stroke-opacity="0.35"/><circle cx="220.5" cy="231.1" r="5.9" stroke="#A6722A" stroke-width="2.0" stroke-opacity="0.35"/><circle cx="220.6" cy="239.8" r="5.9" stroke="#A6722A" stroke-width="2.0" stroke-opacity="0.35"/><circle cx="220.5" cy="241.1" r="5.9" stroke="#A6722A" stroke-width="2.0" stroke-opacity="0.35"/><circle cx="225.3" cy="235.4" r="5.9" stroke="#A6722A" stroke-width="2.0" stroke-opacity="0.35"/><circle cx="225.6" cy="228.5" r="5.9" stroke="#A6722A" stroke-width="2.0" stroke-opacity="0.35"/><circle cx="224.7" cy="238.5" r="5.9" stroke="#A6722A" stroke-width="2.0" stroke-opacity="0.35"/><circle cx="225.6" cy="228.5" r="5.9" stroke="#A6722A" stroke-width="2.0" stroke-opacity="0.35"/><circle cx="225.4" cy="227.8" r="5.9" stroke="#A6722A" stroke-width="2.0" stroke-opacity="0.35"/><circle cx="224.7" cy="228.9" r="5.9" stroke="#A6722A" stroke-width="2.0" stroke-opacity="0.35"/><circle cx="224.9" cy="232.2" r="5.9" stroke="#A6722A" stroke-width="2.0" stroke-opacity="0.35"/><circle cx="225.6" cy="232.8" r="5.9" stroke="#A6722A" stroke-width="2.0" stroke-opacity="0.35"/><circle cx="224.6" cy="230.9" r="5.9" stroke="#A6722A" stroke-width="2.0" stroke-opacity="0.35"/><circle cx="224.5" cy="227.9" r="5.9" stroke="#A6722A" stroke-width="2.0" stroke-opacity="0.35"/><circle cx="229.3" cy="230.6" r="5.9" stroke="#A6722A" stroke-width="2.0" stroke-opacity="0.35"/><circle cx="229.1" cy="229.0" r="5.9" stroke="#A6722A" stroke-width="2.0" stroke-opacity="0.35"/><circle cx="228.9" cy="232.4" r="5.9" stroke="#A6722A" stroke-width="2.0" stroke-opacity="0.35"/><circle cx="229.3" cy="226.4" r="5.9" stroke="#A6722A" stroke-width="2.0" stroke-opacity="0.35"/><circle cx="229.4" cy="227.0" r="5.9" stroke="#A6722A" stroke-width="2.0" stroke-opacity="0.35"/><circle cx="229.2" cy="225.9" r="5.9" stroke="#A6722A" stroke-width="2.0" stroke-opacity="0.35"/><circle cx="229.7" cy="227.8" r="5.9" stroke="#A6722A" stroke-width="2.0" stroke-opacity="0.35"/><circle cx="229.9" cy="229.3" r="5.9" stroke="#A6722A" stroke-width="2.0" stroke-opacity="0.35"/><circle cx="229.0" cy="232.9" r="5.9" stroke="#A6722A" stroke-width="2.0" stroke-opacity="0.35"/><circle cx="229.7" cy="235.0" r="5.9" stroke="#A6722A" stroke-width="2.0" stroke-opacity="0.35"/><circle cx="233.3" cy="230.9" r="5.9" stroke="#A6722A" stroke-width="2.0" stroke-opacity="0.35"/><circle cx="234.1" cy="225.0" r="5.9" stroke="#A6722A" stroke-width="2.0" stroke-opacity="0.35"/><circle cx="233.6" cy="228.8" r="5.9" stroke="#A6722A" stroke-width="2.0" stroke-opacity="0.35"/><circle cx="233.4" cy="231.8" r="5.9" stroke="#A6722A" stroke-width="2.0" stroke-opacity="0.35"/><circle cx="233.9" cy="231.7" r="5.9" stroke="#A6722A" stroke-width="2.0" stroke-opacity="0.35"/><circle cx="233.6" cy="227.6" r="5.9" stroke="#A6722A" stroke-width="2.0" stroke-opacity="0.35"/><circle cx="233.3" cy="225.2" r="5.9" stroke="#A6722A" stroke-width="2.0" stroke-opacity="0.35"/><circle cx="234.0" cy="232.9" r="5.9" stroke="#A6722A" stroke-width="2.0" stroke-opacity="0.35"/><circle cx="233.3" cy="222.0" r="5.9" stroke="#A6722A" stroke-width="2.0" stroke-opacity="0.35"/><circle cx="233.2" cy="226.6" r="5.9" stroke="#A6722A" stroke-width="2.0" stroke-opacity="0.35"/><circle cx="238.4" cy="221.1" r="5.9" stroke="#A6722A" stroke-width="2.0" stroke-opacity="0.35"/><circle cx="238.0" cy="224.6" r="5.9" stroke="#A6722A" stroke-width="2.0" stroke-opacity="0.35"/><circle cx="238.4" cy="220.4" r="5.9" stroke="#A6722A" stroke-width="2.0" stroke-opacity="0.35"/><circle cx="237.4" cy="224.5" r="5.9" stroke="#A6722A" stroke-width="2.0" stroke-opacity="0.35"/><circle cx="237.8" cy="221.9" r="5.9" stroke="#A6722A" stroke-width="2.0" stroke-opacity="0.35"/><circle cx="238.3" cy="226.6" r="5.9" stroke="#A6722A" stroke-width="2.0" stroke-opacity="0.35"/><circle cx="237.5" cy="225.0" r="5.9" stroke="#A6722A" stroke-width="2.0" stroke-opacity="0.35"/><circle cx="238.4" cy="229.3" r="5.9" stroke="#A6722A" stroke-width="2.0" stroke-opacity="0.35"/><circle cx="237.4" cy="228.1" r="5.9" stroke="#A6722A" stroke-width="2.0" stroke-opacity="0.35"/><circle cx="237.5" cy="226.6" r="5.9" stroke="#A6722A" stroke-width="2.0" stroke-opacity="0.35"/><circle cx="242.4" cy="226.9" r="5.9" stroke="#A6722A" stroke-width="2.0" stroke-opacity="0.35"/><circle cx="242.5" cy="216.4" r="5.9" stroke="#A6722A" stroke-width="2.0" stroke-opacity="0.35"/><circle cx="242.5" cy="218.6" r="5.9" stroke="#A6722A" stroke-width="2.0" stroke-opacity="0.35"/><circle cx="242.7" cy="215.9" r="5.9" stroke="#A6722A" stroke-width="2.0" stroke-opacity="0.35"/><circle cx="242.1" cy="223.6" r="5.9" stroke="#A6722A" stroke-width="2.0" stroke-opacity="0.35"/><circle cx="241.9" cy="223.3" r="5.9" stroke="#A6722A" stroke-width="2.0" stroke-opacity="0.35"/><circle cx="242.5" cy="224.3" r="5.9" stroke="#A6722A" stroke-width="2.0" stroke-opacity="0.35"/><circle cx="242.8" cy="220.5" r="5.9" stroke="#A6722A" stroke-width="2.0" stroke-opacity="0.35"/><circle cx="241.9" cy="218.6" r="5.9" stroke="#A6722A" stroke-width="2.0" stroke-opacity="0.35"/><circle cx="242.2" cy="216.2" r="5.9" stroke="#A6722A" stroke-width="2.0" stroke-opacity="0.35"/><circle cx="246.9" cy="213.5" r="5.9" stroke="#A6722A" stroke-width="2.0" stroke-opacity="0.35"/><circle cx="246.1" cy="223.9" r="5.9" stroke="#A6722A" stroke-width="2.0" stroke-opacity="0.35"/><circle cx="247.0" cy="215.8" r="5.9" stroke="#A6722A" stroke-width="2.0" stroke-opacity="0.35"/><circle cx="246.4" cy="222.7" r="5.9" stroke="#A6722A" stroke-width="2.0" stroke-opacity="0.35"/><circle cx="246.7" cy="215.9" r="5.9" stroke="#A6722A" stroke-width="2.0" stroke-opacity="0.35"/><circle cx="246.5" cy="223.0" r="5.9" stroke="#A6722A" stroke-width="2.0" stroke-opacity="0.35"/><circle cx="246.0" cy="224.7" r="5.9" stroke="#A6722A" stroke-width="2.0" stroke-opacity="0.35"/><circle cx="246.7" cy="214.9" r="5.9" stroke="#A6722A" stroke-width="2.0" stroke-opacity="0.35"/><circle cx="247.0" cy="213.7" r="5.9" stroke="#A6722A" stroke-width="2.0" stroke-opacity="0.35"/><circle cx="246.5" cy="219.6" r="5.9" stroke="#A6722A" stroke-width="2.0" stroke-opacity="0.35"/><circle cx="250.6" cy="220.7" r="5.9" stroke="#A6722A" stroke-width="2.0" stroke-opacity="0.35"/><circle cx="251.1" cy="212.1" r="5.9" stroke="#A6722A" stroke-width="2.0" stroke-opacity="0.35"/><circle cx="250.5" cy="210.9" r="5.9" stroke="#A6722A" stroke-width="2.0" stroke-opacity="0.35"/><circle cx="251.0" cy="212.4" r="5.9" stroke="#A6722A" stroke-width="2.0" stroke-opacity="0.35"/><circle cx="251.0" cy="220.0" r="5.9" stroke="#A6722A" stroke-width="2.0" stroke-opacity="0.35"/><circle cx="251.4" cy="211.5" r="5.9" stroke="#A6722A" stroke-width="2.0" stroke-opacity="0.35"/><circle cx="250.7" cy="215.1" r="5.9" stroke="#A6722A" stroke-width="2.0" stroke-opacity="0.35"/><circle cx="250.8" cy="215.1" r="5.9" stroke="#A6722A" stroke-width="2.0" stroke-opacity="0.35"/><circle cx="250.9" cy="219.2" r="5.9" stroke="#A6722A" stroke-width="2.0" stroke-opacity="0.35"/><circle cx="250.7" cy="214.2" r="5.9" stroke="#A6722A" stroke-width="2.0" stroke-opacity="0.35"/><circle cx="255.1" cy="209.5" r="5.9" stroke="#A6722A" stroke-width="2.0" stroke-opacity="0.35"/><circle cx="255.4" cy="212.5" r="5.9" stroke="#A6722A" stroke-width="2.0" stroke-opacity="0.35"/><circle cx="255.7" cy="217.5" r="5.9" stroke="#A6722A" stroke-width="2.0" stroke-opacity="0.35"/><circle cx="254.9" cy="210.6" r="5.9" stroke="#A6722A" stroke-width="2.0" stroke-opacity="0.35"/><circle cx="255.5" cy="214.4" r="5.9" stroke="#A6722A" stroke-width="2.0" stroke-opacity="0.35"/><circle cx="254.6" cy="215.2" r="5.9" stroke="#A6722A" stroke-width="2.0" stroke-opacity="0.35"/><circle cx="255.1" cy="217.1" r="5.9" stroke="#A6722A" stroke-width="2.0" stroke-opacity="0.35"/><circle cx="255.5" cy="218.7" r="5.9" stroke="#A6722A" stroke-width="2.0" stroke-opacity="0.35"/><circle cx="255.4" cy="218.6" r="5.9" stroke="#A6722A" stroke-width="2.0" stroke-opacity="0.35"/><circle cx="254.9" cy="211.7" r="5.9" stroke="#A6722A" stroke-width="2.0" stroke-opacity="0.35"/><circle cx="259.0" cy="215.8" r="5.9" stroke="#A6722A" stroke-width="2.0" stroke-opacity="0.35"/><circle cx="259.1" cy="212.0" r="5.9" stroke="#A6722A" stroke-width="2.0" stroke-opacity="0.35"/><circle cx="259.5" cy="215.2" r="5.9" stroke="#A6722A" stroke-width="2.0" stroke-opacity="0.35"/><circle cx="259.4" cy="207.1" r="5.9" stroke="#A6722A" stroke-width="2.0" stroke-opacity="0.35"/><circle cx="259.4" cy="206.0" r="5.9" stroke="#A6722A" stroke-width="2.0" stroke-opacity="0.35"/><circle cx="259.3" cy="212.9" r="5.9" stroke="#A6722A" stroke-width="2.0" stroke-opacity="0.35"/><circle cx="259.0" cy="217.3" r="5.9" stroke="#A6722A" stroke-width="2.0" stroke-opacity="0.35"/><circle cx="259.5" cy="209.0" r="5.9" stroke="#A6722A" stroke-width="2.0" stroke-opacity="0.35"/><circle cx="259.9" cy="207.0" r="5.9" stroke="#A6722A" stroke-width="2.0" stroke-opacity="0.35"/><circle cx="259.3" cy="216.6" r="5.9" stroke="#A6722A" stroke-width="2.0" stroke-opacity="0.35"/><circle cx="263.5" cy="212.1" r="5.9" stroke="#A6722A" stroke-width="2.0" stroke-opacity="0.35"/><circle cx="263.3" cy="209.7" r="5.9" stroke="#A6722A" stroke-width="2.0" stroke-opacity="0.35"/><circle cx="264.0" cy="205.9" r="5.9" stroke="#A6722A" stroke-width="2.0" stroke-opacity="0.35"/><circle cx="263.6" cy="209.9" r="5.9" stroke="#A6722A" stroke-width="2.0" stroke-opacity="0.35"/><circle cx="263.9" cy="205.2" r="5.9" stroke="#A6722A" stroke-width="2.0" stroke-opacity="0.35"/><circle cx="263.7" cy="215.3" r="5.9" stroke="#A6722A" stroke-width="2.0" stroke-opacity="0.35"/><circle cx="263.6" cy="212.8" r="5.9" stroke="#A6722A" stroke-width="2.0" stroke-opacity="0.35"/><circle cx="263.4" cy="208.9" r="5.9" stroke="#A6722A" stroke-width="2.0" stroke-opacity="0.35"/><circle cx="263.8" cy="210.5" r="5.9" stroke="#A6722A" stroke-width="2.0" stroke-opacity="0.35"/><circle cx="264.1" cy="212.9" r="5.9" stroke="#A6722A" stroke-width="2.0" stroke-opacity="0.35"/><circle cx="268.3" cy="211.2" r="5.9" stroke="#A6722A" stroke-width="2.0" stroke-opacity="0.35"/><circle cx="268.6" cy="205.5" r="5.9" stroke="#A6722A" stroke-width="2.0" stroke-opacity="0.35"/><circle cx="268.5" cy="207.8" r="5.9" stroke="#A6722A" stroke-width="2.0" stroke-opacity="0.35"/><circle cx="267.8" cy="203.6" r="5.9" stroke="#A6722A" stroke-width="2.0" stroke-opacity="0.35"/><circle cx="268.4" cy="209.2" r="5.9" stroke="#A6722A" stroke-width="2.0" stroke-opacity="0.35"/><circle cx="267.6" cy="208.6" r="5.9" stroke="#A6722A" stroke-width="2.0" stroke-opacity="0.35"/><circle cx="267.6" cy="206.2" r="5.9" stroke="#A6722A" stroke-width="2.0" stroke-opacity="0.35"/><circle cx="268.2" cy="209.4" r="5.9" stroke="#A6722A" stroke-width="2.0" stroke-opacity="0.35"/><circle cx="267.7" cy="202.1" r="5.9" stroke="#A6722A" stroke-width="2.0" stroke-opacity="0.35"/><circle cx="268.2" cy="211.4" r="5.9" stroke="#A6722A" stroke-width="2.0" stroke-opacity="0.35"/><circle cx="272.8" cy="204.4" r="5.9" stroke="#A6722A" stroke-width="2.0" stroke-opacity="0.35"/><circle cx="272.5" cy="208.7" r="5.9" stroke="#A6722A" stroke-width="2.0" stroke-opacity="0.35"/><circle cx="272.8" cy="206.0" r="5.9" stroke="#A6722A" stroke-width="2.0" stroke-opacity="0.35"/><circle cx="272.9" cy="203.9" r="5.9" stroke="#A6722A" stroke-width="2.0" stroke-opacity="0.35"/><circle cx="272.1" cy="203.6" r="5.9" stroke="#A6722A" stroke-width="2.0" stroke-opacity="0.35"/><circle cx="272.7" cy="210.7" r="5.9" stroke="#A6722A" stroke-width="2.0" stroke-opacity="0.35"/><circle cx="272.4" cy="208.4" r="5.9" stroke="#A6722A" stroke-width="2.0" stroke-opacity="0.35"/><circle cx="272.0" cy="206.1" r="5.9" stroke="#A6722A" stroke-width="2.0" stroke-opacity="0.35"/><circle cx="272.3" cy="205.2" r="5.9" stroke="#A6722A" stroke-width="2.0" stroke-opacity="0.35"/><circle cx="272.0" cy="207.5" r="5.9" stroke="#A6722A" stroke-width="2.0" stroke-opacity="0.35"/><circle cx="276.9" cy="206.5" r="5.9" stroke="#A6722A" stroke-width="2.0" stroke-opacity="0.35"/><circle cx="277.0" cy="204.4" r="5.9" stroke="#A6722A" stroke-width="2.0" stroke-opacity="0.35"/><circle cx="277.1" cy="205.7" r="5.9" stroke="#A6722A" stroke-width="2.0" stroke-opacity="0.35"/><circle cx="277.2" cy="203.8" r="5.9" stroke="#A6722A" stroke-width="2.0" stroke-opacity="0.35"/><circle cx="276.9" cy="201.2" r="5.9" stroke="#A6722A" stroke-width="2.0" stroke-opacity="0.35"/><circle cx="276.2" cy="210.1" r="5.9" stroke="#A6722A" stroke-width="2.0" stroke-opacity="0.35"/><circle cx="276.5" cy="199.4" r="5.9" stroke="#A6722A" stroke-width="2.0" stroke-opacity="0.35"/><circle cx="276.8" cy="210.1" r="5.9" stroke="#A6722A" stroke-width="2.0" stroke-opacity="0.35"/><circle cx="277.0" cy="210.7" r="5.9" stroke="#A6722A" stroke-width="2.0" stroke-opacity="0.35"/><circle cx="277.2" cy="204.3" r="5.9" stroke="#A6722A" stroke-width="2.0" stroke-opacity="0.35"/><circle cx="280.7" cy="198.8" r="5.9" stroke="#A6722A" stroke-width="2.0" stroke-opacity="0.35"/><circle cx="280.7" cy="205.6" r="5.9" stroke="#A6722A" stroke-width="2.0" stroke-opacity="0.35"/><circle cx="281.5" cy="198.1" r="5.9" stroke="#A6722A" stroke-width="2.0" stroke-opacity="0.35"/><circle cx="281.4" cy="207.2" r="5.9" stroke="#A6722A" stroke-width="2.0" stroke-opacity="0.35"/><circle cx="281.2" cy="199.6" r="5.9" stroke="#A6722A" stroke-width="2.0" stroke-opacity="0.35"/><circle cx="280.5" cy="206.9" r="5.9" stroke="#A6722A" stroke-width="2.0" stroke-opacity="0.35"/><circle cx="281.2" cy="202.5" r="5.9" stroke="#A6722A" stroke-width="2.0" stroke-opacity="0.35"/><circle cx="280.8" cy="198.4" r="5.9" stroke="#A6722A" stroke-width="2.0" stroke-opacity="0.35"/><circle cx="281.6" cy="208.1" r="5.9" stroke="#A6722A" stroke-width="2.0" stroke-opacity="0.35"/><circle cx="281.6" cy="207.9" r="5.9" stroke="#A6722A" stroke-width="2.0" stroke-opacity="0.35"/><circle cx="285.3" cy="207.7" r="5.9" stroke="#A6722A" stroke-width="2.0" stroke-opacity="0.35"/><circle cx="284.9" cy="205.7" r="5.9" stroke="#A6722A" stroke-width="2.0" stroke-opacity="0.35"/><circle cx="285.0" cy="202.3" r="5.9" stroke="#A6722A" stroke-width="2.0" stroke-opacity="0.35"/><circle cx="285.7" cy="202.7" r="5.9" stroke="#A6722A" stroke-width="2.0" stroke-opacity="0.35"/><circle cx="285.8" cy="204.8" r="5.9" stroke="#A6722A" stroke-width="2.0" stroke-opacity="0.35"/><circle cx="285.1" cy="200.7" r="5.9" stroke="#A6722A" stroke-width="2.0" stroke-opacity="0.35"/><circle cx="284.7" cy="204.4" r="5.9" stroke="#A6722A" stroke-width="2.0" stroke-opacity="0.35"/><circle cx="285.7" cy="200.3" r="5.9" stroke="#A6722A" stroke-width="2.0" stroke-opacity="0.35"/><circle cx="285.3" cy="209.4" r="5.9" stroke="#A6722A" stroke-width="2.0" stroke-opacity="0.35"/><circle cx="285.2" cy="208.8" r="5.9" stroke="#A6722A" stroke-width="2.0" stroke-opacity="0.35"/><circle cx="290.0" cy="203.4" r="5.9" stroke="#A6722A" stroke-width="2.0" stroke-opacity="0.35"/><circle cx="289.8" cy="198.3" r="5.9" stroke="#A6722A" stroke-width="2.0" stroke-opacity="0.35"/><circle cx="289.6" cy="206.6" r="5.9" stroke="#A6722A" stroke-width="2.0" stroke-opacity="0.35"/><circle cx="289.3" cy="198.1" r="5.9" stroke="#A6722A" stroke-width="2.0" stroke-opacity="0.35"/><circle cx="289.0" cy="199.4" r="5.9" stroke="#A6722A" stroke-width="2.0" stroke-opacity="0.35"/><circle cx="289.3" cy="207.1" r="5.9" stroke="#A6722A" stroke-width="2.0" stroke-opacity="0.35"/><circle cx="289.6" cy="203.9" r="5.9" stroke="#A6722A" stroke-width="2.0" stroke-opacity="0.35"/><circle cx="289.4" cy="201.1" r="5.9" stroke="#A6722A" stroke-width="2.0" stroke-opacity="0.35"/><circle cx="289.7" cy="206.4" r="5.9" stroke="#A6722A" stroke-width="2.0" stroke-opacity="0.35"/><circle cx="289.2" cy="202.7" r="5.9" stroke="#A6722A" stroke-width="2.0" stroke-opacity="0.35"/><circle cx="294.1" cy="209.2" r="5.9" stroke="#A6722A" stroke-width="2.0" stroke-opacity="0.35"/><circle cx="293.6" cy="202.4" r="5.9" stroke="#A6722A" stroke-width="2.0" stroke-opacity="0.35"/><circle cx="294.0" cy="199.4" r="5.9" stroke="#A6722A" stroke-width="2.0" stroke-opacity="0.35"/><circle cx="294.0" cy="209.4" r="5.9" stroke="#A6722A" stroke-width="2.0" stroke-opacity="0.35"/><circle cx="293.6" cy="203.5" r="5.9" stroke="#A6722A" stroke-width="2.0" stroke-opacity="0.35"/><circle cx="293.4" cy="203.9" r="5.9" stroke="#A6722A" stroke-width="2.0" stroke-opacity="0.35"/><circle cx="294.5" cy="204.2" r="5.9" stroke="#A6722A" stroke-width="2.0" stroke-opacity="0.35"/><circle cx="293.6" cy="201.4" r="5.9" stroke="#A6722A" stroke-width="2.0" stroke-opacity="0.35"/><circle cx="294.1" cy="208.0" r="5.9" stroke="#A6722A" stroke-width="2.0" stroke-opacity="0.35"/><circle cx="293.8" cy="203.6" r="5.9" stroke="#A6722A" stroke-width="2.0" stroke-opacity="0.35"/><circle cx="298.6" cy="199.6" r="5.9" stroke="#A6722A" stroke-width="2.0" stroke-opacity="0.35"/><circle cx="298.7" cy="203.9" r="5.9" stroke="#A6722A" stroke-width="2.0" stroke-opacity="0.35"/><circle cx="298.0" cy="207.7" r="5.9" stroke="#A6722A" stroke-width="2.0" stroke-opacity="0.35"/><circle cx="297.9" cy="200.1" r="5.9" stroke="#A6722A" stroke-width="2.0" stroke-opacity="0.35"/><circle cx="297.9" cy="206.4" r="5.9" stroke="#A6722A" stroke-width="2.0" stroke-opacity="0.35"/><circle cx="297.7" cy="203.7" r="5.9" stroke="#A6722A" stroke-width="2.0" stroke-opacity="0.35"/><circle cx="297.9" cy="204.9" r="5.9" stroke="#A6722A" stroke-width="2.0" stroke-opacity="0.35"/><circle cx="297.8" cy="207.6" r="5.9" stroke="#A6722A" stroke-width="2.0" stroke-opacity="0.35"/><circle cx="298.7" cy="202.1" r="5.9" stroke="#A6722A" stroke-width="2.0" stroke-opacity="0.35"/><circle cx="298.0" cy="205.5" r="5.9" stroke="#A6722A" stroke-width="2.0" stroke-opacity="0.35"/><circle cx="302.8" cy="200.0" r="5.9" stroke="#A6722A" stroke-width="2.0" stroke-opacity="0.35"/><circle cx="302.7" cy="209.1" r="5.9" stroke="#A6722A" stroke-width="2.0" stroke-opacity="0.35"/><circle cx="302.9" cy="204.5" r="5.9" stroke="#A6722A" stroke-width="2.0" stroke-opacity="0.35"/><circle cx="302.9" cy="205.8" r="5.9" stroke="#A6722A" stroke-width="2.0" stroke-opacity="0.35"/><circle cx="302.1" cy="202.7" r="5.9" stroke="#A6722A" stroke-width="2.0" stroke-opacity="0.35"/><circle cx="302.6" cy="205.9" r="5.9" stroke="#A6722A" stroke-width="2.0" stroke-opacity="0.35"/><circle cx="302.9" cy="207.9" r="5.9" stroke="#A6722A" stroke-width="2.0" stroke-opacity="0.35"/><circle cx="302.2" cy="204.1" r="5.9" stroke="#A6722A" stroke-width="2.0" stroke-opacity="0.35"/><circle cx="302.8" cy="204.8" r="5.9" stroke="#A6722A" stroke-width="2.0" stroke-opacity="0.35"/><circle cx="302.2" cy="210.5" r="5.9" stroke="#A6722A" stroke-width="2.0" stroke-opacity="0.35"/><circle cx="306.7" cy="204.3" r="5.9" stroke="#A6722A" stroke-width="2.0" stroke-opacity="0.35"/><circle cx="306.8" cy="204.2" r="5.9" stroke="#A6722A" stroke-width="2.0" stroke-opacity="0.35"/><circle cx="306.5" cy="208.5" r="5.9" stroke="#A6722A" stroke-width="2.0" stroke-opacity="0.35"/><circle cx="307.2" cy="205.5" r="5.9" stroke="#A6722A" stroke-width="2.0" stroke-opacity="0.35"/><circle cx="306.4" cy="206.3" r="5.9" stroke="#A6722A" stroke-width="2.0" stroke-opacity="0.35"/><circle cx="306.7" cy="205.8" r="5.9" stroke="#A6722A" stroke-width="2.0" stroke-opacity="0.35"/><circle cx="306.5" cy="209.8" r="5.9" stroke="#A6722A" stroke-width="2.0" stroke-opacity="0.35"/><circle cx="306.4" cy="201.1" r="5.9" stroke="#A6722A" stroke-width="2.0" stroke-opacity="0.35"/><circle cx="307.0" cy="209.5" r="5.9" stroke="#A6722A" stroke-width="2.0" stroke-opacity="0.35"/><circle cx="306.5" cy="202.7" r="5.9" stroke="#A6722A" stroke-width="2.0" stroke-opacity="0.35"/><circle cx="311.2" cy="213.3" r="5.9" stroke="#A6722A" stroke-width="2.0" stroke-opacity="0.35"/><circle cx="310.8" cy="208.7" r="5.9" stroke="#A6722A" stroke-width="2.0" stroke-opacity="0.35"/><circle cx="310.8" cy="211.1" r="5.9" stroke="#A6722A" stroke-width="2.0" stroke-opacity="0.35"/><circle cx="311.1" cy="206.8" r="5.9" stroke="#A6722A" stroke-width="2.0" stroke-opacity="0.35"/><circle cx="311.3" cy="208.6" r="5.9" stroke="#A6722A" stroke-width="2.0" stroke-opacity="0.35"/><circle cx="310.7" cy="207.2" r="5.9" stroke="#A6722A" stroke-width="2.0" stroke-opacity="0.35"/><circle cx="311.6" cy="211.8" r="5.9" stroke="#A6722A" stroke-width="2.0" stroke-opacity="0.35"/><circle cx="311.1" cy="210.2" r="5.9" stroke="#A6722A" stroke-width="2.0" stroke-opacity="0.35"/><circle cx="310.7" cy="207.2" r="5.9" stroke="#A6722A" stroke-width="2.0" stroke-opacity="0.35"/><circle cx="311.6" cy="204.5" r="5.9" stroke="#A6722A" stroke-width="2.0" stroke-opacity="0.35"/><circle cx="316.0" cy="214.3" r="5.9" stroke="#A6722A" stroke-width="2.0" stroke-opacity="0.35"/><circle cx="315.6" cy="208.6" r="5.9" stroke="#A6722A" stroke-width="2.0" stroke-opacity="0.35"/><circle cx="314.9" cy="207.7" r="5.9" stroke="#A6722A" stroke-width="2.0" stroke-opacity="0.35"/><circle cx="315.7" cy="209.2" r="5.9" stroke="#A6722A" stroke-width="2.0" stroke-opacity="0.35"/><circle cx="315.8" cy="206.7" r="5.9" stroke="#A6722A" stroke-width="2.0" stroke-opacity="0.35"/><circle cx="315.8" cy="214.4" r="5.9" stroke="#A6722A" stroke-width="2.0" stroke-opacity="0.35"/><circle cx="315.7" cy="206.6" r="5.9" stroke="#A6722A" stroke-width="2.0" stroke-opacity="0.35"/><circle cx="315.1" cy="204.9" r="5.9" stroke="#A6722A" stroke-width="2.0" stroke-opacity="0.35"/><circle cx="314.9" cy="213.0" r="5.9" stroke="#A6722A" stroke-width="2.0" stroke-opacity="0.35"/><circle cx="315.4" cy="213.3" r="5.9" stroke="#A6722A" stroke-width="2.0" stroke-opacity="0.35"/><circle cx="319.4" cy="210.4" r="5.9" stroke="#A6722A" stroke-width="2.0" stroke-opacity="0.35"/><circle cx="320.2" cy="218.2" r="5.9" stroke="#A6722A" stroke-width="2.0" stroke-opacity="0.35"/><circle cx="319.2" cy="215.6" r="5.9" stroke="#A6722A" stroke-width="2.0" stroke-opacity="0.35"/><circle cx="319.8" cy="206.3" r="5.9" stroke="#A6722A" stroke-width="2.0" stroke-opacity="0.35"/><circle cx="319.8" cy="209.6" r="5.9" stroke="#A6722A" stroke-width="2.0" stroke-opacity="0.35"/><circle cx="319.5" cy="217.9" r="5.9" stroke="#A6722A" stroke-width="2.0" stroke-opacity="0.35"/><circle cx="320.0" cy="206.9" r="5.9" stroke="#A6722A" stroke-width="2.0" stroke-opacity="0.35"/><circle cx="319.9" cy="206.4" r="5.9" stroke="#A6722A" stroke-width="2.0" stroke-opacity="0.35"/><circle cx="320.2" cy="213.4" r="5.9" stroke="#A6722A" stroke-width="2.0" stroke-opacity="0.35"/><circle cx="319.9" cy="206.4" r="5.9" stroke="#A6722A" stroke-width="2.0" stroke-opacity="0.35"/><circle cx="323.5" cy="214.9" r="5.9" stroke="#A6722A" stroke-width="2.0" stroke-opacity="0.35"/><circle cx="323.9" cy="218.4" r="5.9" stroke="#A6722A" stroke-width="2.0" stroke-opacity="0.35"/><circle cx="323.7" cy="213.3" r="5.9" stroke="#A6722A" stroke-width="2.0" stroke-opacity="0.35"/><circle cx="323.5" cy="214.6" r="5.9" stroke="#A6722A" stroke-width="2.0" stroke-opacity="0.35"/><circle cx="324.5" cy="211.7" r="5.9" stroke="#A6722A" stroke-width="2.0" stroke-opacity="0.35"/><circle cx="324.3" cy="210.5" r="5.9" stroke="#A6722A" stroke-width="2.0" stroke-opacity="0.35"/><circle cx="324.5" cy="214.7" r="5.9" stroke="#A6722A" stroke-width="2.0" stroke-opacity="0.35"/><circle cx="323.6" cy="217.9" r="5.9" stroke="#A6722A" stroke-width="2.0" stroke-opacity="0.35"/><circle cx="324.5" cy="210.3" r="5.9" stroke="#A6722A" stroke-width="2.0" stroke-opacity="0.35"/><circle cx="323.5" cy="211.6" r="5.9" stroke="#A6722A" stroke-width="2.0" stroke-opacity="0.35"/><circle cx="328.3" cy="222.4" r="5.9" stroke="#A6722A" stroke-width="2.0" stroke-opacity="0.35"/><circle cx="328.7" cy="214.9" r="5.9" stroke="#A6722A" stroke-width="2.0" stroke-opacity="0.35"/><circle cx="327.7" cy="218.1" r="5.9" stroke="#A6722A" stroke-width="2.0" stroke-opacity="0.35"/><circle cx="328.4" cy="213.9" r="5.9" stroke="#A6722A" stroke-width="2.0" stroke-opacity="0.35"/><circle cx="328.4" cy="222.8" r="5.9" stroke="#A6722A" stroke-width="2.0" stroke-opacity="0.35"/><circle cx="327.9" cy="214.8" r="5.9" stroke="#A6722A" stroke-width="2.0" stroke-opacity="0.35"/><circle cx="328.7" cy="212.9" r="5.9" stroke="#A6722A" stroke-width="2.0" stroke-opacity="0.35"/><circle cx="327.9" cy="213.0" r="5.9" stroke="#A6722A" stroke-width="2.0" stroke-opacity="0.35"/><circle cx="328.6" cy="212.5" r="5.9" stroke="#A6722A" stroke-width="2.0" stroke-opacity="0.35"/><circle cx="327.8" cy="218.5" r="5.9" stroke="#A6722A" stroke-width="2.0" stroke-opacity="0.35"/><circle cx="332.9" cy="222.6" r="5.9" stroke="#A6722A" stroke-width="2.0" stroke-opacity="0.35"/><circle cx="332.5" cy="224.5" r="5.9" stroke="#A6722A" stroke-width="2.0" stroke-opacity="0.35"/><circle cx="332.2" cy="218.8" r="5.9" stroke="#A6722A" stroke-width="2.0" stroke-opacity="0.35"/><circle cx="332.4" cy="220.1" r="5.9" stroke="#A6722A" stroke-width="2.0" stroke-opacity="0.35"/><circle cx="332.2" cy="215.3" r="5.9" stroke="#A6722A" stroke-width="2.0" stroke-opacity="0.35"/><circle cx="333.2" cy="217.1" r="5.9" stroke="#A6722A" stroke-width="2.0" stroke-opacity="0.35"/><circle cx="332.6" cy="224.5" r="5.9" stroke="#A6722A" stroke-width="2.0" stroke-opacity="0.35"/><circle cx="332.4" cy="217.9" r="5.9" stroke="#A6722A" stroke-width="2.0" stroke-opacity="0.35"/><circle cx="332.7" cy="214.3" r="5.9" stroke="#A6722A" stroke-width="2.0" stroke-opacity="0.35"/><circle cx="332.0" cy="221.1" r="5.9" stroke="#A6722A" stroke-width="2.0" stroke-opacity="0.35"/><circle cx="336.7" cy="217.1" r="5.9" stroke="#A6722A" stroke-width="2.0" stroke-opacity="0.35"/><circle cx="336.6" cy="224.5" r="5.9" stroke="#A6722A" stroke-width="2.0" stroke-opacity="0.35"/><circle cx="337.2" cy="222.2" r="5.9" stroke="#A6722A" stroke-width="2.0" stroke-opacity="0.35"/><circle cx="336.6" cy="226.2" r="5.9" stroke="#A6722A" stroke-width="2.0" stroke-opacity="0.35"/><circle cx="336.5" cy="225.2" r="5.9" stroke="#A6722A" stroke-width="2.0" stroke-opacity="0.35"/><circle cx="336.5" cy="227.4" r="5.9" stroke="#A6722A" stroke-width="2.0" stroke-opacity="0.35"/><circle cx="337.2" cy="222.2" r="5.9" stroke="#A6722A" stroke-width="2.0" stroke-opacity="0.35"/><circle cx="336.8" cy="223.0" r="5.9" stroke="#A6722A" stroke-width="2.0" stroke-opacity="0.35"/><circle cx="337.1" cy="222.9" r="5.9" stroke="#A6722A" stroke-width="2.0" stroke-opacity="0.35"/><circle cx="337.1" cy="217.2" r="5.9" stroke="#A6722A" stroke-width="2.0" stroke-opacity="0.35"/><circle cx="341.1" cy="227.9" r="5.9" stroke="#A6722A" stroke-width="2.0" stroke-opacity="0.35"/><circle cx="341.1" cy="230.5" r="5.9" stroke="#A6722A" stroke-width="2.0" stroke-opacity="0.35"/><circle cx="341.2" cy="222.6" r="5.9" stroke="#A6722A" stroke-width="2.0" stroke-opacity="0.35"/><circle cx="341.7" cy="223.9" r="5.9" stroke="#A6722A" stroke-width="2.0" stroke-opacity="0.35"/><circle cx="341.3" cy="226.6" r="5.9" stroke="#A6722A" stroke-width="2.0" stroke-opacity="0.35"/><circle cx="341.6" cy="221.4" r="5.9" stroke="#A6722A" stroke-width="2.0" stroke-opacity="0.35"/><circle cx="341.6" cy="225.8" r="5.9" stroke="#A6722A" stroke-width="2.0" stroke-opacity="0.35"/><circle cx="341.0" cy="222.9" r="5.9" stroke="#A6722A" stroke-width="2.0" stroke-opacity="0.35"/><circle cx="341.8" cy="230.2" r="5.9" stroke="#A6722A" stroke-width="2.0" stroke-opacity="0.35"/><circle cx="341.3" cy="223.0" r="5.9" stroke="#A6722A" stroke-width="2.0" stroke-opacity="0.35"/><circle cx="346.1" cy="221.9" r="5.9" stroke="#A6722A" stroke-width="2.0" stroke-opacity="0.35"/><circle cx="345.0" cy="227.5" r="5.9" stroke="#A6722A" stroke-width="2.0" stroke-opacity="0.35"/><circle cx="345.6" cy="221.8" r="5.9" stroke="#A6722A" stroke-width="2.0" stroke-opacity="0.35"/><circle cx="345.1" cy="222.7" r="5.9" stroke="#A6722A" stroke-width="2.0" stroke-opacity="0.35"/><circle cx="345.2" cy="223.9" r="5.9" stroke="#A6722A" stroke-width="2.0" stroke-opacity="0.35"/><circle cx="345.0" cy="223.2" r="5.9" stroke="#A6722A" stroke-width="2.0" stroke-opacity="0.35"/><circle cx="345.3" cy="223.2" r="5.9" stroke="#A6722A" stroke-width="2.0" stroke-opacity="0.35"/><circle cx="345.8" cy="226.5" r="5.9" stroke="#A6722A" stroke-width="2.0" stroke-opacity="0.35"/><circle cx="345.0" cy="229.5" r="5.9" stroke="#A6722A" stroke-width="2.0" stroke-opacity="0.35"/><circle cx="345.8" cy="226.0" r="5.9" stroke="#A6722A" stroke-width="2.0" stroke-opacity="0.35"/><circle cx="349.2" cy="232.3" r="5.9" stroke="#A6722A" stroke-width="2.0" stroke-opacity="0.35"/><circle cx="350.1" cy="235.2" r="5.9" stroke="#A6722A" stroke-width="2.0" stroke-opacity="0.35"/><circle cx="350.1" cy="231.7" r="5.9" stroke="#A6722A" stroke-width="2.0" stroke-opacity="0.35"/><circle cx="349.6" cy="227.5" r="5.9" stroke="#A6722A" stroke-width="2.0" stroke-opacity="0.35"/><circle cx="349.3" cy="234.4" r="5.9" stroke="#A6722A" stroke-width="2.0" stroke-opacity="0.35"/><circle cx="349.9" cy="228.0" r="5.9" stroke="#A6722A" stroke-width="2.0" stroke-opacity="0.35"/><circle cx="349.3" cy="228.0" r="5.9" stroke="#A6722A" stroke-width="2.0" stroke-opacity="0.35"/><circle cx="350.1" cy="227.1" r="5.9" stroke="#A6722A" stroke-width="2.0" stroke-opacity="0.35"/><circle cx="349.3" cy="229.1" r="5.9" stroke="#A6722A" stroke-width="2.0" stroke-opacity="0.35"/><circle cx="349.6" cy="232.9" r="5.9" stroke="#A6722A" stroke-width="2.0" stroke-opacity="0.35"/><circle cx="354.2" cy="233.1" r="5.9" stroke="#A6722A" stroke-width="2.0" stroke-opacity="0.35"/><circle cx="354.7" cy="237.6" r="5.9" stroke="#A6722A" stroke-width="2.0" stroke-opacity="0.35"/><circle cx="353.7" cy="230.4" r="5.9" stroke="#A6722A" stroke-width="2.0" stroke-opacity="0.35"/><circle cx="354.0" cy="228.3" r="5.9" stroke="#A6722A" stroke-width="2.0" stroke-opacity="0.35"/><circle cx="354.4" cy="236.7" r="5.9" stroke="#A6722A" stroke-width="2.0" stroke-opacity="0.35"/><circle cx="353.9" cy="238.3" r="5.9" stroke="#A6722A" stroke-width="2.0" stroke-opacity="0.35"/><circle cx="354.2" cy="230.1" r="5.9" stroke="#A6722A" stroke-width="2.0" stroke-opacity="0.35"/><circle cx="354.2" cy="235.5" r="5.9" stroke="#A6722A" stroke-width="2.0" stroke-opacity="0.35"/><circle cx="354.4" cy="239.1" r="5.9" stroke="#A6722A" stroke-width="2.0" stroke-opacity="0.35"/><circle cx="354.6" cy="232.4" r="5.9" stroke="#A6722A" stroke-width="2.0" stroke-opacity="0.35"/><circle cx="358.3" cy="230.7" r="5.9" stroke="#A6722A" stroke-width="2.0" stroke-opacity="0.35"/><circle cx="358.3" cy="232.5" r="5.9" stroke="#A6722A" stroke-width="2.0" stroke-opacity="0.35"/><circle cx="357.9" cy="240.2" r="5.9" stroke="#A6722A" stroke-width="2.0" stroke-opacity="0.35"/><circle cx="357.8" cy="231.9" r="5.9" stroke="#A6722A" stroke-width="2.0" stroke-opacity="0.35"/><circle cx="358.6" cy="237.2" r="5.9" stroke="#A6722A" stroke-width="2.0" stroke-opacity="0.35"/><circle cx="358.3" cy="240.1" r="5.9" stroke="#A6722A" stroke-width="2.0" stroke-opacity="0.35"/><circle cx="358.1" cy="232.9" r="5.9" stroke="#A6722A" stroke-width="2.0" stroke-opacity="0.35"/><circle cx="358.4" cy="231.7" r="5.9" stroke="#A6722A" stroke-width="2.0" stroke-opacity="0.35"/><circle cx="358.6" cy="241.6" r="5.9" stroke="#A6722A" stroke-width="2.0" stroke-opacity="0.35"/><circle cx="358.8" cy="241.0" r="5.9" stroke="#A6722A" stroke-width="2.0" stroke-opacity="0.35"/><circle cx="362.2" cy="238.4" r="5.9" stroke="#A6722A" stroke-width="2.0" stroke-opacity="0.35"/><circle cx="363.2" cy="243.4" r="5.9" stroke="#A6722A" stroke-width="2.0" stroke-opacity="0.35"/><circle cx="362.8" cy="241.2" r="5.9" stroke="#A6722A" stroke-width="2.0" stroke-opacity="0.35"/><circle cx="362.4" cy="236.5" r="5.9" stroke="#A6722A" stroke-width="2.0" stroke-opacity="0.35"/><circle cx="362.2" cy="244.2" r="5.9" stroke="#A6722A" stroke-width="2.0" stroke-opacity="0.35"/><circle cx="362.4" cy="245.2" r="5.9" stroke="#A6722A" stroke-width="2.0" stroke-opacity="0.35"/><circle cx="362.1" cy="242.9" r="5.9" stroke="#A6722A" stroke-width="2.0" stroke-opacity="0.35"/><circle cx="362.7" cy="233.8" r="5.9" stroke="#A6722A" stroke-width="2.0" stroke-opacity="0.35"/><circle cx="362.9" cy="241.8" r="5.9" stroke="#A6722A" stroke-width="2.0" stroke-opacity="0.35"/><circle cx="362.9" cy="241.7" r="5.9" stroke="#A6722A" stroke-width="2.0" stroke-opacity="0.35"/><circle cx="367.2" cy="245.5" r="5.9" stroke="#A6722A" stroke-width="2.0" stroke-opacity="0.35"/><circle cx="366.9" cy="247.8" r="5.9" stroke="#A6722A" stroke-width="2.0" stroke-opacity="0.35"/><circle cx="367.0" cy="239.5" r="5.9" stroke="#A6722A" stroke-width="2.0" stroke-opacity="0.35"/><circle cx="367.6" cy="239.6" r="5.9" stroke="#A6722A" stroke-width="2.0" stroke-opacity="0.35"/><circle cx="366.9" cy="244.6" r="5.9" stroke="#A6722A" stroke-width="2.0" stroke-opacity="0.35"/><circle cx="367.4" cy="240.1" r="5.9" stroke="#A6722A" stroke-width="2.0" stroke-opacity="0.35"/><circle cx="366.4" cy="243.2" r="5.9" stroke="#A6722A" stroke-width="2.0" stroke-opacity="0.35"/><circle cx="367.1" cy="245.0" r="5.9" stroke="#A6722A" stroke-width="2.0" stroke-opacity="0.35"/><circle cx="366.7" cy="246.1" r="5.9" stroke="#A6722A" stroke-width="2.0" stroke-opacity="0.35"/><circle cx="367.3" cy="246.6" r="5.9" stroke="#A6722A" stroke-width="2.0" stroke-opacity="0.35"/><circle cx="371.6" cy="247.3" r="5.9" stroke="#A6722A" stroke-width="2.0" stroke-opacity="0.35"/><circle cx="371.4" cy="249.5" r="5.9" stroke="#A6722A" stroke-width="2.0" stroke-opacity="0.35"/><circle cx="371.0" cy="247.2" r="5.9" stroke="#A6722A" stroke-width="2.0" stroke-opacity="0.35"/><circle cx="371.7" cy="248.5" r="5.9" stroke="#A6722A" stroke-width="2.0" stroke-opacity="0.35"/><circle cx="370.9" cy="243.0" r="5.9" stroke="#A6722A" stroke-width="2.0" stroke-opacity="0.35"/><circle cx="371.8" cy="248.5" r="5.9" stroke="#A6722A" stroke-width="2.0" stroke-opacity="0.35"/><circle cx="370.9" cy="245.0" r="5.9" stroke="#A6722A" stroke-width="2.0" stroke-opacity="0.35"/><circle cx="371.7" cy="249.5" r="5.9" stroke="#A6722A" stroke-width="2.0" stroke-opacity="0.35"/><circle cx="371.3" cy="240.4" r="5.9" stroke="#A6722A" stroke-width="2.0" stroke-opacity="0.35"/><circle cx="371.0" cy="239.5" r="5.9" stroke="#A6722A" stroke-width="2.0" stroke-opacity="0.35"/><circle cx="375.2" cy="242.8" r="5.9" stroke="#A6722A" stroke-width="2.0" stroke-opacity="0.35"/><circle cx="375.8" cy="250.5" r="5.9" stroke="#A6722A" stroke-width="2.0" stroke-opacity="0.35"/><circle cx="375.5" cy="252.6" r="5.9" stroke="#A6722A" stroke-width="2.0" stroke-opacity="0.35"/><circle cx="375.2" cy="244.4" r="5.9" stroke="#A6722A" stroke-width="2.0" stroke-opacity="0.35"/><circle cx="375.7" cy="248.4" r="5.9" stroke="#A6722A" stroke-width="2.0" stroke-opacity="0.35"/><circle cx="375.1" cy="252.9" r="5.9" stroke="#A6722A" stroke-width="2.0" stroke-opacity="0.35"/><circle cx="375.7" cy="249.4" r="5.9" stroke="#A6722A" stroke-width="2.0" stroke-opacity="0.35"/><circle cx="375.4" cy="249.3" r="5.9" stroke="#A6722A" stroke-width="2.0" stroke-opacity="0.35"/><circle cx="375.1" cy="245.7" r="5.9" stroke="#A6722A" stroke-width="2.0" stroke-opacity="0.35"/><circle cx="375.8" cy="249.2" r="5.9" stroke="#A6722A" stroke-width="2.0" stroke-opacity="0.35"/><circle cx="379.9" cy="245.5" r="5.9" stroke="#A6722A" stroke-width="2.0" stroke-opacity="0.35"/><circle cx="379.7" cy="256.7" r="5.9" stroke="#A6722A" stroke-width="2.0" stroke-opacity="0.35"/><circle cx="380.4" cy="254.7" r="5.9" stroke="#A6722A" stroke-width="2.0" stroke-opacity="0.35"/><circle cx="379.4" cy="245.8" r="5.9" stroke="#A6722A" stroke-width="2.0" stroke-opacity="0.35"/><circle cx="379.6" cy="254.8" r="5.9" stroke="#A6722A" stroke-width="2.0" stroke-opacity="0.35"/><circle cx="379.5" cy="247.6" r="5.9" stroke="#A6722A" stroke-width="2.0" stroke-opacity="0.35"/><circle cx="379.6" cy="253.7" r="5.9" stroke="#A6722A" stroke-width="2.0" stroke-opacity="0.35"/><circle cx="379.9" cy="255.2" r="5.9" stroke="#A6722A" stroke-width="2.0" stroke-opacity="0.35"/><circle cx="379.4" cy="245.5" r="5.9" stroke="#A6722A" stroke-width="2.0" stroke-opacity="0.35"/><circle cx="380.3" cy="246.2" r="5.9" stroke="#A6722A" stroke-width="2.0" stroke-opacity="0.35"/><circle cx="384.5" cy="254.9" r="5.9" stroke="#A6722A" stroke-width="2.0" stroke-opacity="0.35"/><circle cx="383.8" cy="250.7" r="5.9" stroke="#A6722A" stroke-width="2.0" stroke-opacity="0.35"/><circle cx="384.5" cy="247.9" r="5.9" stroke="#A6722A" stroke-width="2.0" stroke-opacity="0.35"/><circle cx="384.7" cy="248.2" r="5.9" stroke="#A6722A" stroke-width="2.0" stroke-opacity="0.35"/><circle cx="383.8" cy="255.3" r="5.9" stroke="#A6722A" stroke-width="2.0" stroke-opacity="0.35"/><circle cx="383.7" cy="259.6" r="5.9" stroke="#A6722A" stroke-width="2.0" stroke-opacity="0.35"/><circle cx="384.1" cy="248.4" r="5.9" stroke="#A6722A" stroke-width="2.0" stroke-opacity="0.35"/><circle cx="383.8" cy="254.1" r="5.9" stroke="#A6722A" stroke-width="2.0" stroke-opacity="0.35"/><circle cx="384.6" cy="250.7" r="5.9" stroke="#A6722A" stroke-width="2.0" stroke-opacity="0.35"/><circle cx="384.1" cy="254.4" r="5.9" stroke="#A6722A" stroke-width="2.0" stroke-opacity="0.35"/><circle cx="388.7" cy="259.0" r="5.9" stroke="#A6722A" stroke-width="2.0" stroke-opacity="0.35"/><circle cx="388.3" cy="254.7" r="5.9" stroke="#A6722A" stroke-width="2.0" stroke-opacity="0.35"/><circle cx="388.9" cy="261.2" r="5.9" stroke="#A6722A" stroke-width="2.0" stroke-opacity="0.35"/><circle cx="388.4" cy="262.2" r="5.9" stroke="#A6722A" stroke-width="2.0" stroke-opacity="0.35"/><circle cx="388.1" cy="260.2" r="5.9" stroke="#A6722A" stroke-width="2.0" stroke-opacity="0.35"/><circle cx="389.0" cy="257.1" r="5.9" stroke="#A6722A" stroke-width="2.0" stroke-opacity="0.35"/><circle cx="388.7" cy="251.0" r="5.9" stroke="#A6722A" stroke-width="2.0" stroke-opacity="0.35"/><circle cx="388.9" cy="258.5" r="5.9" stroke="#A6722A" stroke-width="2.0" stroke-opacity="0.35"/><circle cx="388.6" cy="257.3" r="5.9" stroke="#A6722A" stroke-width="2.0" stroke-opacity="0.35"/><circle cx="388.1" cy="260.4" r="5.9" stroke="#A6722A" stroke-width="2.0" stroke-opacity="0.35"/><circle cx="392.8" cy="260.2" r="5.9" stroke="#A6722A" stroke-width="2.0" stroke-opacity="0.35"/><circle cx="392.4" cy="260.4" r="5.9" stroke="#A6722A" stroke-width="2.0" stroke-opacity="0.35"/><circle cx="392.5" cy="262.0" r="5.9" stroke="#A6722A" stroke-width="2.0" stroke-opacity="0.35"/><circle cx="392.2" cy="254.4" r="5.9" stroke="#A6722A" stroke-width="2.0" stroke-opacity="0.35"/><circle cx="392.5" cy="257.7" r="5.9" stroke="#A6722A" stroke-width="2.0" stroke-opacity="0.35"/><circle cx="393.2" cy="253.0" r="5.9" stroke="#A6722A" stroke-width="2.0" stroke-opacity="0.35"/><circle cx="392.9" cy="253.3" r="5.9" stroke="#A6722A" stroke-width="2.0" stroke-opacity="0.35"/><circle cx="392.7" cy="256.5" r="5.9" stroke="#A6722A" stroke-width="2.0" stroke-opacity="0.35"/><circle cx="392.4" cy="258.6" r="5.9" stroke="#A6722A" stroke-width="2.0" stroke-opacity="0.35"/><circle cx="392.6" cy="256.0" r="5.9" stroke="#A6722A" stroke-width="2.0" stroke-opacity="0.35"/><circle cx="397.2" cy="258.4" r="5.9" stroke="#A6722A" stroke-width="2.0" stroke-opacity="0.35"/><circle cx="397.7" cy="258.5" r="5.9" stroke="#A6722A" stroke-width="2.0" stroke-opacity="0.35"/><circle cx="397.7" cy="257.4" r="5.9" stroke="#A6722A" stroke-width="2.0" stroke-opacity="0.35"/><circle cx="397.6" cy="256.2" r="5.9" stroke="#A6722A" stroke-width="2.0" stroke-opacity="0.35"/><circle cx="396.5" cy="256.6" r="5.9" stroke="#A6722A" stroke-width="2.0" stroke-opacity="0.35"/><circle cx="397.3" cy="258.3" r="5.9" stroke="#A6722A" stroke-width="2.0" stroke-opacity="0.35"/><circle cx="396.8" cy="263.5" r="5.9" stroke="#A6722A" stroke-width="2.0" stroke-opacity="0.35"/><circle cx="396.5" cy="261.9" r="5.9" stroke="#A6722A" stroke-width="2.0" stroke-opacity="0.35"/><circle cx="397.0" cy="257.4" r="5.9" stroke="#A6722A" stroke-width="2.0" stroke-opacity="0.35"/><circle cx="397.6" cy="259.8" r="5.9" stroke="#A6722A" stroke-width="2.0" stroke-opacity="0.35"/><circle cx="401.1" cy="266.3" r="5.9" stroke="#A6722A" stroke-width="2.0" stroke-opacity="0.35"/><circle cx="401.8" cy="260.7" r="5.9" stroke="#A6722A" stroke-width="2.0" stroke-opacity="0.35"/><circle cx="401.0" cy="269.5" r="5.9" stroke="#A6722A" stroke-width="2.0" stroke-opacity="0.35"/><circle cx="401.3" cy="264.4" r="5.9" stroke="#A6722A" stroke-width="2.0" stroke-opacity="0.35"/><circle cx="401.3" cy="267.9" r="5.9" stroke="#A6722A" stroke-width="2.0" stroke-opacity="0.35"/><circle cx="401.3" cy="267.1" r="5.9" stroke="#A6722A" stroke-width="2.0" stroke-opacity="0.35"/><circle cx="401.4" cy="259.0" r="5.9" stroke="#A6722A" stroke-width="2.0" stroke-opacity="0.35"/><circle cx="401.4" cy="268.3" r="5.9" stroke="#A6722A" stroke-width="2.0" stroke-opacity="0.35"/><circle cx="401.4" cy="262.7" r="5.9" stroke="#A6722A" stroke-width="2.0" stroke-opacity="0.35"/><circle cx="400.8" cy="266.4" r="5.9" stroke="#A6722A" stroke-width="2.0" stroke-opacity="0.35"/><circle cx="405.6" cy="264.4" r="5.9" stroke="#A6722A" stroke-width="2.0" stroke-opacity="0.35"/><circle cx="405.5" cy="265.6" r="5.9" stroke="#A6722A" stroke-width="2.0" stroke-opacity="0.35"/><circle cx="405.5" cy="264.1" r="5.9" stroke="#A6722A" stroke-width="2.0" stroke-opacity="0.35"/><circle cx="405.7" cy="261.1" r="5.9" stroke="#A6722A" stroke-width="2.0" stroke-opacity="0.35"/><circle cx="405.4" cy="265.8" r="5.9" stroke="#A6722A" stroke-width="2.0" stroke-opacity="0.35"/><circle cx="406.2" cy="265.7" r="5.9" stroke="#A6722A" stroke-width="2.0" stroke-opacity="0.35"/><circle cx="405.8" cy="271.3" r="5.9" stroke="#A6722A" stroke-width="2.0" stroke-opacity="0.35"/><circle cx="406.1" cy="269.1" r="5.9" stroke="#A6722A" stroke-width="2.0" stroke-opacity="0.35"/><circle cx="405.8" cy="267.7" r="5.9" stroke="#A6722A" stroke-width="2.0" stroke-opacity="0.35"/><circle cx="405.3" cy="262.2" r="5.9" stroke="#A6722A" stroke-width="2.0" stroke-opacity="0.35"/><circle cx="409.5" cy="264.2" r="5.9" stroke="#A6722A" stroke-width="2.0" stroke-opacity="0.35"/><circle cx="410.1" cy="270.4" r="5.9" stroke="#A6722A" stroke-width="2.0" stroke-opacity="0.35"/><circle cx="409.4" cy="273.2" r="5.9" stroke="#A6722A" stroke-width="2.0" stroke-opacity="0.35"/><circle cx="409.9" cy="269.6" r="5.9" stroke="#A6722A" stroke-width="2.0" stroke-opacity="0.35"/><circle cx="409.5" cy="273.4" r="5.9" stroke="#A6722A" stroke-width="2.0" stroke-opacity="0.35"/><circle cx="409.5" cy="265.6" r="5.9" stroke="#A6722A" stroke-width="2.0" stroke-opacity="0.35"/><circle cx="410.0" cy="269.1" r="5.9" stroke="#A6722A" stroke-width="2.0" stroke-opacity="0.35"/><circle cx="410.0" cy="274.3" r="5.9" stroke="#A6722A" stroke-width="2.0" stroke-opacity="0.35"/><circle cx="409.4" cy="271.2" r="5.9" stroke="#A6722A" stroke-width="2.0" stroke-opacity="0.35"/><circle cx="409.9" cy="272.8" r="5.9" stroke="#A6722A" stroke-width="2.0" stroke-opacity="0.35"/><circle cx="414.5" cy="275.4" r="5.9" stroke="#A6722A" stroke-width="2.0" stroke-opacity="0.35"/><circle cx="414.7" cy="275.0" r="5.9" stroke="#A6722A" stroke-width="2.0" stroke-opacity="0.35"/><circle cx="413.9" cy="272.1" r="5.9" stroke="#A6722A" stroke-width="2.0" stroke-opacity="0.35"/><circle cx="414.6" cy="275.0" r="5.9" stroke="#A6722A" stroke-width="2.0" stroke-opacity="0.35"/><circle cx="414.8" cy="270.7" r="5.9" stroke="#A6722A" stroke-width="2.0" stroke-opacity="0.35"/><circle cx="413.7" cy="274.4" r="5.9" stroke="#A6722A" stroke-width="2.0" stroke-opacity="0.35"/><circle cx="414.0" cy="273.5" r="5.9" stroke="#A6722A" stroke-width="2.0" stroke-opacity="0.35"/><circle cx="413.8" cy="269.9" r="5.9" stroke="#A6722A" stroke-width="2.0" stroke-opacity="0.35"/><circle cx="414.5" cy="267.2" r="5.9" stroke="#A6722A" stroke-width="2.0" stroke-opacity="0.35"/><circle cx="414.1" cy="267.4" r="5.9" stroke="#A6722A" stroke-width="2.0" stroke-opacity="0.35"/><circle cx="419.1" cy="277.6" r="5.9" stroke="#A6722A" stroke-width="2.0" stroke-opacity="0.35"/><circle cx="418.8" cy="274.5" r="5.9" stroke="#A6722A" stroke-width="2.0" stroke-opacity="0.35"/><circle cx="419.2" cy="271.4" r="5.9" stroke="#A6722A" stroke-width="2.0" stroke-opacity="0.35"/><circle cx="418.8" cy="269.3" r="5.9" stroke="#A6722A" stroke-width="2.0" stroke-opacity="0.35"/><circle cx="418.7" cy="270.6" r="5.9" stroke="#A6722A" stroke-width="2.0" stroke-opacity="0.35"/><circle cx="418.0" cy="279.2" r="5.9" stroke="#A6722A" stroke-width="2.0" stroke-opacity="0.35"/><circle cx="418.3" cy="280.1" r="5.9" stroke="#A6722A" stroke-width="2.0" stroke-opacity="0.35"/><circle cx="418.8" cy="276.3" r="5.9" stroke="#A6722A" stroke-width="2.0" stroke-opacity="0.35"/><circle cx="418.8" cy="280.2" r="5.9" stroke="#A6722A" stroke-width="2.0" stroke-opacity="0.35"/><circle cx="418.3" cy="280.1" r="5.9" stroke="#A6722A" stroke-width="2.0" stroke-opacity="0.35"/><circle cx="422.7" cy="272.0" r="5.9" stroke="#A6722A" stroke-width="2.0" stroke-opacity="0.35"/><circle cx="423.4" cy="272.1" r="5.9" stroke="#A6722A" stroke-width="2.0" stroke-opacity="0.35"/><circle cx="422.9" cy="280.9" r="5.9" stroke="#A6722A" stroke-width="2.0" stroke-opacity="0.35"/><circle cx="422.6" cy="279.6" r="5.9" stroke="#A6722A" stroke-width="2.0" stroke-opacity="0.35"/><circle cx="423.1" cy="279.2" r="5.9" stroke="#A6722A" stroke-width="2.0" stroke-opacity="0.35"/><circle cx="422.5" cy="279.3" r="5.9" stroke="#A6722A" stroke-width="2.0" stroke-opacity="0.35"/><circle cx="423.3" cy="272.6" r="5.9" stroke="#A6722A" stroke-width="2.0" stroke-opacity="0.35"/><circle cx="423.5" cy="282.3" r="5.9" stroke="#A6722A" stroke-width="2.0" stroke-opacity="0.35"/><circle cx="422.7" cy="282.4" r="5.9" stroke="#A6722A" stroke-width="2.0" stroke-opacity="0.35"/><circle cx="423.4" cy="272.3" r="5.9" stroke="#A6722A" stroke-width="2.0" stroke-opacity="0.35"/><circle cx="427.5" cy="285.1" r="5.9" stroke="#A6722A" stroke-width="2.0" stroke-opacity="0.35"/><circle cx="427.6" cy="275.2" r="5.9" stroke="#A6722A" stroke-width="2.0" stroke-opacity="0.35"/><circle cx="427.1" cy="280.3" r="5.9" stroke="#A6722A" stroke-width="2.0" stroke-opacity="0.35"/><circle cx="427.0" cy="278.2" r="5.9" stroke="#A6722A" stroke-width="2.0" stroke-opacity="0.35"/><circle cx="426.7" cy="273.7" r="5.9" stroke="#A6722A" stroke-width="2.0" stroke-opacity="0.35"/><circle cx="427.0" cy="278.6" r="5.9" stroke="#A6722A" stroke-width="2.0" stroke-opacity="0.35"/><circle cx="427.3" cy="285.0" r="5.9" stroke="#A6722A" stroke-width="2.0" stroke-opacity="0.35"/><circle cx="426.7" cy="277.7" r="5.9" stroke="#A6722A" stroke-width="2.0" stroke-opacity="0.35"/><circle cx="427.6" cy="283.5" r="5.9" stroke="#A6722A" stroke-width="2.0" stroke-opacity="0.35"/><circle cx="426.7" cy="281.7" r="5.9" stroke="#A6722A" stroke-width="2.0" stroke-opacity="0.35"/><circle cx="431.0" cy="287.6" r="5.9" stroke="#A6722A" stroke-width="2.0" stroke-opacity="0.35"/><circle cx="431.2" cy="283.5" r="5.9" stroke="#A6722A" stroke-width="2.0" stroke-opacity="0.35"/><circle cx="431.5" cy="282.3" r="5.9" stroke="#A6722A" stroke-width="2.0" stroke-opacity="0.35"/><circle cx="431.2" cy="280.5" r="5.9" stroke="#A6722A" stroke-width="2.0" stroke-opacity="0.35"/><circle cx="431.2" cy="283.6" r="5.9" stroke="#A6722A" stroke-width="2.0" stroke-opacity="0.35"/><circle cx="431.4" cy="283.3" r="5.9" stroke="#A6722A" stroke-width="2.0" stroke-opacity="0.35"/><circle cx="431.5" cy="284.2" r="5.9" stroke="#A6722A" stroke-width="2.0" stroke-opacity="0.35"/><circle cx="432.1" cy="282.6" r="5.9" stroke="#A6722A" stroke-width="2.0" stroke-opacity="0.35"/><circle cx="431.6" cy="283.6" r="5.9" stroke="#A6722A" stroke-width="2.0" stroke-opacity="0.35"/><circle cx="431.6" cy="281.1" r="5.9" stroke="#A6722A" stroke-width="2.0" stroke-opacity="0.35"/><circle cx="435.5" cy="285.2" r="5.9" stroke="#A6722A" stroke-width="2.0" stroke-opacity="0.35"/><circle cx="435.5" cy="286.7" r="5.9" stroke="#A6722A" stroke-width="2.0" stroke-opacity="0.35"/><circle cx="436.3" cy="288.4" r="5.9" stroke="#A6722A" stroke-width="2.0" stroke-opacity="0.35"/><circle cx="436.1" cy="281.4" r="5.9" stroke="#A6722A" stroke-width="2.0" stroke-opacity="0.35"/><circle cx="435.2" cy="281.2" r="5.9" stroke="#A6722A" stroke-width="2.0" stroke-opacity="0.35"/><circle cx="435.9" cy="280.3" r="5.9" stroke="#A6722A" stroke-width="2.0" stroke-opacity="0.35"/><circle cx="435.3" cy="290.8" r="5.9" stroke="#A6722A" stroke-width="2.0" stroke-opacity="0.35"/><circle cx="435.6" cy="279.6" r="5.9" stroke="#A6722A" stroke-width="2.0" stroke-opacity="0.35"/><circle cx="435.8" cy="287.2" r="5.9" stroke="#A6722A" stroke-width="2.0" stroke-opacity="0.35"/><circle cx="435.8" cy="280.4" r="5.9" stroke="#A6722A" stroke-width="2.0" stroke-opacity="0.35"/><circle cx="440.1" cy="282.1" r="5.9" stroke="#A6722A" stroke-width="2.0" stroke-opacity="0.35"/><circle cx="440.4" cy="292.6" r="5.9" stroke="#A6722A" stroke-width="2.0" stroke-opacity="0.35"/><circle cx="439.6" cy="288.2" r="5.9" stroke="#A6722A" stroke-width="2.0" stroke-opacity="0.35"/><circle cx="440.5" cy="289.0" r="5.9" stroke="#A6722A" stroke-width="2.0" stroke-opacity="0.35"/><circle cx="439.7" cy="282.1" r="5.9" stroke="#A6722A" stroke-width="2.0" stroke-opacity="0.35"/><circle cx="440.0" cy="281.9" r="5.9" stroke="#A6722A" stroke-width="2.0" stroke-opacity="0.35"/><circle cx="440.5" cy="287.5" r="5.9" stroke="#A6722A" stroke-width="2.0" stroke-opacity="0.35"/><circle cx="439.9" cy="290.6" r="5.9" stroke="#A6722A" stroke-width="2.0" stroke-opacity="0.35"/><circle cx="439.8" cy="287.5" r="5.9" stroke="#A6722A" stroke-width="2.0" stroke-opacity="0.35"/><circle cx="440.1" cy="282.6" r="5.9" stroke="#A6722A" stroke-width="2.0" stroke-opacity="0.35"/><circle cx="444.8" cy="292.1" r="5.9" stroke="#A6722A" stroke-width="2.0" stroke-opacity="0.35"/><circle cx="444.0" cy="288.9" r="5.9" stroke="#A6722A" stroke-width="2.0" stroke-opacity="0.35"/><circle cx="444.2" cy="295.0" r="5.9" stroke="#A6722A" stroke-width="2.0" stroke-opacity="0.35"/><circle cx="444.6" cy="295.0" r="5.9" stroke="#A6722A" stroke-width="2.0" stroke-opacity="0.35"/><circle cx="444.7" cy="293.2" r="5.9" stroke="#A6722A" stroke-width="2.0" stroke-opacity="0.35"/><circle cx="444.2" cy="293.9" r="5.9" stroke="#A6722A" stroke-width="2.0" stroke-opacity="0.35"/><circle cx="444.2" cy="293.6" r="5.9" stroke="#A6722A" stroke-width="2.0" stroke-opacity="0.35"/><circle cx="444.7" cy="289.8" r="5.9" stroke="#A6722A" stroke-width="2.0" stroke-opacity="0.35"/><circle cx="444.0" cy="290.9" r="5.9" stroke="#A6722A" stroke-width="2.0" stroke-opacity="0.35"/><circle cx="444.5" cy="291.9" r="5.9" stroke="#A6722A" stroke-width="2.0" stroke-opacity="0.35"/><circle cx="448.2" cy="289.0" r="5.9" stroke="#A6722A" stroke-width="2.0" stroke-opacity="0.35"/><circle cx="448.8" cy="296.2" r="5.9" stroke="#A6722A" stroke-width="2.0" stroke-opacity="0.35"/><circle cx="448.4" cy="296.7" r="5.9" stroke="#A6722A" stroke-width="2.0" stroke-opacity="0.35"/><circle cx="449.3" cy="287.0" r="5.9" stroke="#A6722A" stroke-width="2.0" stroke-opacity="0.35"/><circle cx="449.0" cy="290.7" r="5.9" stroke="#A6722A" stroke-width="2.0" stroke-opacity="0.35"/><circle cx="448.3" cy="288.6" r="5.9" stroke="#A6722A" stroke-width="2.0" stroke-opacity="0.35"/><circle cx="448.5" cy="286.2" r="5.9" stroke="#A6722A" stroke-width="2.0" stroke-opacity="0.35"/><circle cx="448.9" cy="291.4" r="5.9" stroke="#A6722A" stroke-width="2.0" stroke-opacity="0.35"/><circle cx="448.5" cy="296.4" r="5.9" stroke="#A6722A" stroke-width="2.0" stroke-opacity="0.35"/><circle cx="449.3" cy="291.5" r="5.9" stroke="#A6722A" stroke-width="2.0" stroke-opacity="0.35"/><circle cx="452.8" cy="295.3" r="5.9" stroke="#A6722A" stroke-width="2.0" stroke-opacity="0.35"/><circle cx="452.9" cy="298.7" r="5.9" stroke="#A6722A" stroke-width="2.0" stroke-opacity="0.35"/><circle cx="452.7" cy="289.6" r="5.9" stroke="#A6722A" stroke-width="2.0" stroke-opacity="0.35"/><circle cx="452.4" cy="290.1" r="5.9" stroke="#A6722A" stroke-width="2.0" stroke-opacity="0.35"/><circle cx="452.5" cy="299.0" r="5.9" stroke="#A6722A" stroke-width="2.0" stroke-opacity="0.35"/><circle cx="453.2" cy="295.0" r="5.9" stroke="#A6722A" stroke-width="2.0" stroke-opacity="0.35"/><circle cx="453.5" cy="295.5" r="5.9" stroke="#A6722A" stroke-width="2.0" stroke-opacity="0.35"/><circle cx="453.2" cy="289.9" r="5.9" stroke="#A6722A" stroke-width="2.0" stroke-opacity="0.35"/><circle cx="452.7" cy="295.5" r="5.9" stroke="#A6722A" stroke-width="2.0" stroke-opacity="0.35"/><circle cx="453.4" cy="291.4" r="5.9" stroke="#A6722A" stroke-width="2.0" stroke-opacity="0.35"/><circle cx="457.2" cy="293.4" r="5.9" stroke="#A6722A" stroke-width="2.0" stroke-opacity="0.35"/><circle cx="457.0" cy="296.9" r="5.9" stroke="#A6722A" stroke-width="2.0" stroke-opacity="0.35"/><circle cx="457.8" cy="301.7" r="5.9" stroke="#A6722A" stroke-width="2.0" stroke-opacity="0.35"/><circle cx="457.4" cy="290.3" r="5.9" stroke="#A6722A" stroke-width="2.0" stroke-opacity="0.35"/><circle cx="457.0" cy="297.8" r="5.9" stroke="#A6722A" stroke-width="2.0" stroke-opacity="0.35"/><circle cx="457.8" cy="291.7" r="5.9" stroke="#A6722A" stroke-width="2.0" stroke-opacity="0.35"/><circle cx="457.7" cy="300.5" r="5.9" stroke="#A6722A" stroke-width="2.0" stroke-opacity="0.35"/><circle cx="456.8" cy="300.8" r="5.9" stroke="#A6722A" stroke-width="2.0" stroke-opacity="0.35"/><circle cx="457.4" cy="300.1" r="5.9" stroke="#A6722A" stroke-width="2.0" stroke-opacity="0.35"/><circle cx="457.5" cy="298.1" r="5.9" stroke="#A6722A" stroke-width="2.0" stroke-opacity="0.35"/><circle cx="462.0" cy="301.0" r="5.9" stroke="#A6722A" stroke-width="2.0" stroke-opacity="0.35"/><circle cx="461.5" cy="296.4" r="5.9" stroke="#A6722A" stroke-width="2.0" stroke-opacity="0.35"/><circle cx="462.2" cy="295.0" r="5.9" stroke="#A6722A" stroke-width="2.0" stroke-opacity="0.35"/><circle cx="461.5" cy="293.6" r="5.9" stroke="#A6722A" stroke-width="2.0" stroke-opacity="0.35"/><circle cx="461.4" cy="298.8" r="5.9" stroke="#A6722A" stroke-width="2.0" stroke-opacity="0.35"/><circle cx="461.2" cy="296.9" r="5.9" stroke="#A6722A" stroke-width="2.0" stroke-opacity="0.35"/><circle cx="461.7" cy="296.5" r="5.9" stroke="#A6722A" stroke-width="2.0" stroke-opacity="0.35"/><circle cx="461.9" cy="298.0" r="5.9" stroke="#A6722A" stroke-width="2.0" stroke-opacity="0.35"/><circle cx="461.4" cy="300.5" r="5.9" stroke="#A6722A" stroke-width="2.0" stroke-opacity="0.35"/><circle cx="461.7" cy="297.2" r="5.9" stroke="#A6722A" stroke-width="2.0" stroke-opacity="0.35"/><circle cx="581.7" cy="315.9" r="5.9" stroke="#A6722A" stroke-width="2.0" stroke-opacity="0.35"/><circle cx="580.0" cy="313.9" r="5.9" stroke="#A6722A" stroke-width="2.0" stroke-opacity="0.35"/><circle cx="572.2" cy="306.5" r="5.9" stroke="#A6722A" stroke-width="2.0" stroke-opacity="0.35"/><circle cx="577.2" cy="312.2" r="5.9" stroke="#A6722A" stroke-width="2.0" stroke-opacity="0.35"/><circle cx="576.2" cy="303.4" r="5.9" stroke="#A6722A" stroke-width="2.0" stroke-opacity="0.35"/><circle cx="571.3" cy="312.1" r="5.9" stroke="#A6722A" stroke-width="2.0" stroke-opacity="0.35"/><circle cx="575.1" cy="315.9" r="5.9" stroke="#A6722A" stroke-width="2.0" stroke-opacity="0.35"/><circle cx="583.8" cy="310.1" r="5.9" stroke="#A6722A" stroke-width="2.0" stroke-opacity="0.35"/><circle cx="580.8" cy="307.6" r="5.9" stroke="#A6722A" stroke-width="2.0" stroke-opacity="0.35"/><circle cx="581.1" cy="305.6" r="5.9" stroke="#A6722A" stroke-width="2.0" stroke-opacity="0.35"/><circle cx="579.9" cy="309.5" r="5.9" stroke="#A6722A" stroke-width="2.0" stroke-opacity="0.35"/><circle cx="578.2" cy="304.5" r="5.9" stroke="#A6722A" stroke-width="2.0" stroke-opacity="0.35"/><circle cx="577.5" cy="307.3" r="5.9" stroke="#A6722A" stroke-width="2.0" stroke-opacity="0.35"/><circle cx="582.7" cy="308.4" r="5.9" stroke="#A6722A" stroke-width="2.0" stroke-opacity="0.35"/><circle cx="578.9" cy="306.2" r="5.9" stroke="#A6722A" stroke-width="2.0" stroke-opacity="0.35"/><circle cx="578.9" cy="313.3" r="5.9" stroke="#A6722A" stroke-width="2.0" stroke-opacity="0.35"/><circle cx="579.8" cy="312.9" r="5.9" stroke="#A6722A" stroke-width="2.0" stroke-opacity="0.35"/><circle cx="575.2" cy="311.4" r="5.9" stroke="#A6722A" stroke-width="2.0" stroke-opacity="0.35"/><circle cx="577.4" cy="310.3" r="5.9" stroke="#A6722A" stroke-width="2.0" stroke-opacity="0.35"/><circle cx="583.4" cy="307.9" r="5.9" stroke="#A6722A" stroke-width="2.0" stroke-opacity="0.35"/><circle cx="579.5" cy="302.0" r="5.9" stroke="#A6722A" stroke-width="2.0" stroke-opacity="0.35"/><circle cx="579.5" cy="311.1" r="5.9" stroke="#A6722A" stroke-width="2.0" stroke-opacity="0.35"/><circle cx="583.1" cy="301.4" r="5.9" stroke="#A6722A" stroke-width="2.0" stroke-opacity="0.35"/><circle cx="582.0" cy="308.3" r="5.9" stroke="#A6722A" stroke-width="2.0" stroke-opacity="0.35"/><circle cx="587.7" cy="301.2" r="5.9" stroke="#A6722A" stroke-width="2.0" stroke-opacity="0.35"/><circle cx="582.2" cy="310.1" r="5.9" stroke="#A6722A" stroke-width="2.0" stroke-opacity="0.35"/><circle cx="579.2" cy="301.3" r="5.9" stroke="#A6722A" stroke-width="2.0" stroke-opacity="0.35"/><circle cx="586.5" cy="301.2" r="5.9" stroke="#A6722A" stroke-width="2.0" stroke-opacity="0.35"/><circle cx="580.7" cy="301.2" r="5.9" stroke="#A6722A" stroke-width="2.0" stroke-opacity="0.35"/><circle cx="587.9" cy="306.7" r="5.9" stroke="#A6722A" stroke-width="2.0" stroke-opacity="0.35"/><circle cx="584.5" cy="300.5" r="5.9" stroke="#A6722A" stroke-width="2.0" stroke-opacity="0.35"/><circle cx="585.6" cy="308.7" r="5.9" stroke="#A6722A" stroke-width="2.0" stroke-opacity="0.35"/><circle cx="584.8" cy="304.0" r="5.9" stroke="#A6722A" stroke-width="2.0" stroke-opacity="0.35"/><circle cx="585.6" cy="298.3" r="5.9" stroke="#A6722A" stroke-width="2.0" stroke-opacity="0.35"/><circle cx="586.1" cy="307.6" r="5.9" stroke="#A6722A" stroke-width="2.0" stroke-opacity="0.35"/><circle cx="587.6" cy="308.2" r="5.9" stroke="#A6722A" stroke-width="2.0" stroke-opacity="0.35"/><circle cx="589.7" cy="303.1" r="5.9" stroke="#A6722A" stroke-width="2.0" stroke-opacity="0.35"/><circle cx="588.2" cy="302.9" r="5.9" stroke="#A6722A" stroke-width="2.0" stroke-opacity="0.35"/><circle cx="585.8" cy="309.2" r="5.9" stroke="#A6722A" stroke-width="2.0" stroke-opacity="0.35"/><circle cx="586.9" cy="306.1" r="5.9" stroke="#A6722A" stroke-width="2.0" stroke-opacity="0.35"/><circle cx="586.0" cy="298.4" r="5.9" stroke="#A6722A" stroke-width="2.0" stroke-opacity="0.35"/><circle cx="586.9" cy="298.8" r="5.9" stroke="#A6722A" stroke-width="2.0" stroke-opacity="0.35"/><circle cx="586.0" cy="308.3" r="5.9" stroke="#A6722A" stroke-width="2.0" stroke-opacity="0.35"/><circle cx="585.8" cy="300.8" r="5.9" stroke="#A6722A" stroke-width="2.0" stroke-opacity="0.35"/><circle cx="586.1" cy="303.1" r="5.9" stroke="#A6722A" stroke-width="2.0" stroke-opacity="0.35"/><circle cx="592.8" cy="304.1" r="5.9" stroke="#A6722A" stroke-width="2.0" stroke-opacity="0.35"/><circle cx="590.5" cy="304.1" r="5.9" stroke="#A6722A" stroke-width="2.0" stroke-opacity="0.35"/><circle cx="590.1" cy="303.0" r="5.9" stroke="#A6722A" stroke-width="2.0" stroke-opacity="0.35"/><circle cx="585.3" cy="302.9" r="5.9" stroke="#A6722A" stroke-width="2.0" stroke-opacity="0.35"/><circle cx="586.2" cy="306.2" r="5.9" stroke="#A6722A" stroke-width="2.0" stroke-opacity="0.35"/><circle cx="591.4" cy="302.0" r="5.9" stroke="#A6722A" stroke-width="2.0" stroke-opacity="0.35"/><circle cx="594.6" cy="305.0" r="5.9" stroke="#A6722A" stroke-width="2.0" stroke-opacity="0.35"/><circle cx="587.8" cy="303.4" r="5.9" stroke="#A6722A" stroke-width="2.0" stroke-opacity="0.35"/><circle cx="590.6" cy="293.4" r="5.9" stroke="#A6722A" stroke-width="2.0" stroke-opacity="0.35"/><circle cx="588.3" cy="293.4" r="5.9" stroke="#A6722A" stroke-width="2.0" stroke-opacity="0.35"/><circle cx="587.7" cy="299.0" r="5.9" stroke="#A6722A" stroke-width="2.0" stroke-opacity="0.35"/><circle cx="586.9" cy="296.5" r="5.9" stroke="#A6722A" stroke-width="2.0" stroke-opacity="0.35"/><circle cx="592.2" cy="296.6" r="5.9" stroke="#A6722A" stroke-width="2.0" stroke-opacity="0.35"/><circle cx="590.2" cy="299.0" r="5.9" stroke="#A6722A" stroke-width="2.0" stroke-opacity="0.35"/><circle cx="587.4" cy="302.3" r="5.9" stroke="#A6722A" stroke-width="2.0" stroke-opacity="0.35"/><circle cx="598.3" cy="300.5" r="5.9" stroke="#A6722A" stroke-width="2.0" stroke-opacity="0.35"/><circle cx="594.6" cy="293.8" r="5.9" stroke="#A6722A" stroke-width="2.0" stroke-opacity="0.35"/><circle cx="591.4" cy="290.5" r="5.9" stroke="#A6722A" stroke-width="2.0" stroke-opacity="0.35"/><circle cx="589.3" cy="294.9" r="5.9" stroke="#A6722A" stroke-width="2.0" stroke-opacity="0.35"/><circle cx="591.2" cy="292.9" r="5.9" stroke="#A6722A" stroke-width="2.0" stroke-opacity="0.35"/><circle cx="587.9" cy="294.4" r="5.9" stroke="#A6722A" stroke-width="2.0" stroke-opacity="0.35"/><circle cx="591.5" cy="302.4" r="5.9" stroke="#A6722A" stroke-width="2.0" stroke-opacity="0.35"/><circle cx="587.6" cy="296.6" r="5.9" stroke="#A6722A" stroke-width="2.0" stroke-opacity="0.35"/><circle cx="591.5" cy="302.8" r="5.9" stroke="#A6722A" stroke-width="2.0" stroke-opacity="0.35"/><circle cx="595.9" cy="300.8" r="5.9" stroke="#A6722A" stroke-width="2.0" stroke-opacity="0.35"/><circle cx="594.9" cy="293.8" r="5.9" stroke="#A6722A" stroke-width="2.0" stroke-opacity="0.35"/><circle cx="597.0" cy="289.0" r="5.9" stroke="#A6722A" stroke-width="2.0" stroke-opacity="0.35"/><circle cx="601.2" cy="297.0" r="5.9" stroke="#A6722A" stroke-width="2.0" stroke-opacity="0.35"/><circle cx="593.8" cy="287.5" r="5.9" stroke="#A6722A" stroke-width="2.0" stroke-opacity="0.35"/><circle cx="593.4" cy="289.4" r="5.9" stroke="#A6722A" stroke-width="2.0" stroke-opacity="0.35"/><circle cx="596.6" cy="289.9" r="5.9" stroke="#A6722A" stroke-width="2.0" stroke-opacity="0.35"/><circle cx="591.7" cy="295.6" r="5.9" stroke="#A6722A" stroke-width="2.0" stroke-opacity="0.35"/><circle cx="592.4" cy="300.0" r="5.9" stroke="#A6722A" stroke-width="2.0" stroke-opacity="0.35"/><circle cx="590.5" cy="293.7" r="5.9" stroke="#A6722A" stroke-width="2.0" stroke-opacity="0.35"/><circle cx="592.6" cy="296.7" r="5.9" stroke="#A6722A" stroke-width="2.0" stroke-opacity="0.35"/><circle cx="598.8" cy="297.4" r="5.9" stroke="#A6722A" stroke-width="2.0" stroke-opacity="0.35"/><circle cx="597.5" cy="285.8" r="5.9" stroke="#A6722A" stroke-width="2.0" stroke-opacity="0.35"/><circle cx="592.8" cy="286.9" r="5.9" stroke="#A6722A" stroke-width="2.0" stroke-opacity="0.35"/><circle cx="595.5" cy="293.3" r="5.9" stroke="#A6722A" stroke-width="2.0" stroke-opacity="0.35"/><circle cx="593.3" cy="291.3" r="5.9" stroke="#A6722A" stroke-width="2.0" stroke-opacity="0.35"/><circle cx="601.2" cy="284.8" r="5.9" stroke="#A6722A" stroke-width="2.0" stroke-opacity="0.35"/><circle cx="601.7" cy="286.1" r="5.9" stroke="#A6722A" stroke-width="2.0" stroke-opacity="0.35"/><circle cx="595.1" cy="290.1" r="5.9" stroke="#A6722A" stroke-width="2.0" stroke-opacity="0.35"/><circle cx="603.9" cy="287.9" r="5.9" stroke="#A6722A" stroke-width="2.0" stroke-opacity="0.35"/><circle cx="592.0" cy="289.6" r="5.9" stroke="#A6722A" stroke-width="2.0" stroke-opacity="0.35"/><circle cx="603.6" cy="284.7" r="5.9" stroke="#A6722A" stroke-width="2.0" stroke-opacity="0.35"/><circle cx="594.4" cy="283.9" r="5.9" stroke="#A6722A" stroke-width="2.0" stroke-opacity="0.35"/><circle cx="601.0" cy="289.6" r="5.9" stroke="#A6722A" stroke-width="2.0" stroke-opacity="0.35"/><circle cx="606.7" cy="284.9" r="5.9" stroke="#A6722A" stroke-width="2.0" stroke-opacity="0.35"/><circle cx="605.6" cy="288.4" r="5.9" stroke="#A6722A" stroke-width="2.0" stroke-opacity="0.35"/><circle cx="596.9" cy="282.2" r="5.9" stroke="#A6722A" stroke-width="2.0" stroke-opacity="0.35"/><circle cx="596.6" cy="283.4" r="5.9" stroke="#A6722A" stroke-width="2.0" stroke-opacity="0.35"/><circle cx="596.2" cy="283.5" r="5.9" stroke="#A6722A" stroke-width="2.0" stroke-opacity="0.35"/><circle cx="602.9" cy="288.5" r="5.9" stroke="#A6722A" stroke-width="2.0" stroke-opacity="0.35"/><circle cx="599.0" cy="293.5" r="5.9" stroke="#A6722A" stroke-width="2.0" stroke-opacity="0.35"/><circle cx="597.6" cy="284.0" r="5.9" stroke="#A6722A" stroke-width="2.0" stroke-opacity="0.35"/><circle cx="605.2" cy="282.4" r="5.9" stroke="#A6722A" stroke-width="2.0" stroke-opacity="0.35"/><circle cx="604.3" cy="286.3" r="5.9" stroke="#A6722A" stroke-width="2.0" stroke-opacity="0.35"/><circle cx="608.2" cy="279.9" r="5.9" stroke="#A6722A" stroke-width="2.0" stroke-opacity="0.35"/><circle cx="604.3" cy="284.2" r="5.9" stroke="#A6722A" stroke-width="2.0" stroke-opacity="0.35"/><circle cx="606.2" cy="288.7" r="5.9" stroke="#A6722A" stroke-width="2.0" stroke-opacity="0.35"/><circle cx="597.3" cy="285.9" r="5.9" stroke="#A6722A" stroke-width="2.0" stroke-opacity="0.35"/><circle cx="606.9" cy="277.2" r="5.9" stroke="#A6722A" stroke-width="2.0" stroke-opacity="0.35"/><circle cx="599.5" cy="281.9" r="5.9" stroke="#A6722A" stroke-width="2.0" stroke-opacity="0.35"/><circle cx="596.4" cy="282.2" r="5.9" stroke="#A6722A" stroke-width="2.0" stroke-opacity="0.35"/><circle cx="609.7" cy="276.8" r="5.9" stroke="#A6722A" stroke-width="2.0" stroke-opacity="0.35"/><circle cx="599.3" cy="278.7" r="5.9" stroke="#A6722A" stroke-width="2.0" stroke-opacity="0.35"/><circle cx="602.8" cy="280.3" r="5.9" stroke="#A6722A" stroke-width="2.0" stroke-opacity="0.35"/><circle cx="604.6" cy="283.0" r="5.9" stroke="#A6722A" stroke-width="2.0" stroke-opacity="0.35"/><circle cx="605.9" cy="284.3" r="5.9" stroke="#A6722A" stroke-width="2.0" stroke-opacity="0.35"/><circle cx="602.1" cy="272.4" r="5.9" stroke="#A6722A" stroke-width="2.0" stroke-opacity="0.35"/><circle cx="605.4" cy="273.5" r="5.9" stroke="#A6722A" stroke-width="2.0" stroke-opacity="0.35"/><circle cx="606.9" cy="281.3" r="5.9" stroke="#A6722A" stroke-width="2.0" stroke-opacity="0.35"/><circle cx="609.7" cy="274.6" r="5.9" stroke="#A6722A" stroke-width="2.0" stroke-opacity="0.35"/><circle cx="609.4" cy="281.3" r="5.9" stroke="#A6722A" stroke-width="2.0" stroke-opacity="0.35"/><circle cx="608.6" cy="267.0" r="5.9" stroke="#A6722A" stroke-width="2.0" stroke-opacity="0.35"/><circle cx="611.6" cy="267.6" r="5.9" stroke="#A6722A" stroke-width="2.0" stroke-opacity="0.35"/><circle cx="602.3" cy="273.8" r="5.9" stroke="#A6722A" stroke-width="2.0" stroke-opacity="0.35"/><circle cx="613.1" cy="275.7" r="5.9" stroke="#A6722A" stroke-width="2.0" stroke-opacity="0.35"/><circle cx="604.8" cy="272.9" r="5.9" stroke="#A6722A" stroke-width="2.0" stroke-opacity="0.35"/><circle cx="607.9" cy="279.1" r="5.9" stroke="#A6722A" stroke-width="2.0" stroke-opacity="0.35"/><circle cx="608.6" cy="277.3" r="5.9" stroke="#A6722A" stroke-width="2.0" stroke-opacity="0.35"/><circle cx="603.6" cy="277.5" r="5.9" stroke="#A6722A" stroke-width="2.0" stroke-opacity="0.35"/><circle cx="608.7" cy="275.1" r="5.9" stroke="#A6722A" stroke-width="2.0" stroke-opacity="0.35"/><circle cx="610.4" cy="278.6" r="5.9" stroke="#A6722A" stroke-width="2.0" stroke-opacity="0.35"/><circle cx="615.5" cy="269.5" r="5.9" stroke="#A6722A" stroke-width="2.0" stroke-opacity="0.35"/><circle cx="606.2" cy="267.8" r="5.9" stroke="#A6722A" stroke-width="2.0" stroke-opacity="0.35"/><circle cx="607.6" cy="272.1" r="5.9" stroke="#A6722A" stroke-width="2.0" stroke-opacity="0.35"/><circle cx="614.2" cy="269.4" r="5.9" stroke="#A6722A" stroke-width="2.0" stroke-opacity="0.35"/><circle cx="608.2" cy="269.2" r="5.9" stroke="#A6722A" stroke-width="2.0" stroke-opacity="0.35"/><circle cx="606.7" cy="267.3" r="5.9" stroke="#A6722A" stroke-width="2.0" stroke-opacity="0.35"/><circle cx="612.8" cy="268.9" r="5.9" stroke="#A6722A" stroke-width="2.0" stroke-opacity="0.35"/><circle cx="607.8" cy="272.9" r="5.9" stroke="#A6722A" stroke-width="2.0" stroke-opacity="0.35"/><circle cx="612.0" cy="263.2" r="5.9" stroke="#A6722A" stroke-width="2.0" stroke-opacity="0.35"/><circle cx="615.7" cy="269.5" r="5.9" stroke="#A6722A" stroke-width="2.0" stroke-opacity="0.35"/><circle cx="614.3" cy="261.5" r="5.9" stroke="#A6722A" stroke-width="2.0" stroke-opacity="0.35"/><circle cx="612.5" cy="263.2" r="5.9" stroke="#A6722A" stroke-width="2.0" stroke-opacity="0.35"/><circle cx="611.0" cy="261.4" r="5.9" stroke="#A6722A" stroke-width="2.0" stroke-opacity="0.35"/><circle cx="617.2" cy="260.8" r="5.9" stroke="#A6722A" stroke-width="2.0" stroke-opacity="0.35"/><circle cx="610.1" cy="259.7" r="5.9" stroke="#A6722A" stroke-width="2.0" stroke-opacity="0.35"/><circle cx="612.6" cy="263.1" r="5.9" stroke="#A6722A" stroke-width="2.0" stroke-opacity="0.35"/><circle cx="615.4" cy="259.7" r="5.9" stroke="#A6722A" stroke-width="2.0" stroke-opacity="0.35"/><circle cx="613.0" cy="266.6" r="5.9" stroke="#A6722A" stroke-width="2.0" stroke-opacity="0.35"/><circle cx="614.6" cy="266.0" r="5.9" stroke="#A6722A" stroke-width="2.0" stroke-opacity="0.35"/><circle cx="611.7" cy="269.2" r="5.9" stroke="#A6722A" stroke-width="2.0" stroke-opacity="0.35"/><circle cx="618.2" cy="254.4" r="5.9" stroke="#A6722A" stroke-width="2.0" stroke-opacity="0.35"/><circle cx="616.2" cy="255.9" r="5.9" stroke="#A6722A" stroke-width="2.0" stroke-opacity="0.35"/><circle cx="609.6" cy="254.3" r="5.9" stroke="#A6722A" stroke-width="2.0" stroke-opacity="0.35"/><circle cx="616.1" cy="259.8" r="5.9" stroke="#A6722A" stroke-width="2.0" stroke-opacity="0.35"/><circle cx="617.0" cy="251.6" r="5.9" stroke="#A6722A" stroke-width="2.0" stroke-opacity="0.35"/><circle cx="618.3" cy="256.6" r="5.9" stroke="#A6722A" stroke-width="2.0" stroke-opacity="0.35"/><circle cx="616.5" cy="258.3" r="5.9" stroke="#A6722A" stroke-width="2.0" stroke-opacity="0.35"/><circle cx="614.8" cy="258.4" r="5.9" stroke="#A6722A" stroke-width="2.0" stroke-opacity="0.35"/><circle cx="614.0" cy="255.7" r="5.9" stroke="#A6722A" stroke-width="2.0" stroke-opacity="0.35"/><circle cx="610.7" cy="258.4" r="5.9" stroke="#A6722A" stroke-width="2.0" stroke-opacity="0.35"/><circle cx="623.0" cy="254.8" r="5.9" stroke="#A6722A" stroke-width="2.0" stroke-opacity="0.35"/><circle cx="622.4" cy="251.5" r="5.9" stroke="#A6722A" stroke-width="2.0" stroke-opacity="0.35"/><circle cx="613.7" cy="251.4" r="5.9" stroke="#A6722A" stroke-width="2.0" stroke-opacity="0.35"/><circle cx="624.4" cy="251.0" r="5.9" stroke="#A6722A" stroke-width="2.0" stroke-opacity="0.35"/><circle cx="622.3" cy="251.0" r="5.9" stroke="#A6722A" stroke-width="2.0" stroke-opacity="0.35"/><circle cx="617.6" cy="252.6" r="5.9" stroke="#A6722A" stroke-width="2.0" stroke-opacity="0.35"/><circle cx="624.1" cy="255.0" r="5.9" stroke="#A6722A" stroke-width="2.0" stroke-opacity="0.35"/><circle cx="614.0" cy="249.4" r="5.9" stroke="#A6722A" stroke-width="2.0" stroke-opacity="0.35"/><circle cx="621.7" cy="257.5" r="5.9" stroke="#A6722A" stroke-width="2.0" stroke-opacity="0.35"/><circle cx="623.5" cy="253.2" r="5.9" stroke="#A6722A" stroke-width="2.0" stroke-opacity="0.35"/><circle cx="615.6" cy="243.4" r="5.9" stroke="#A6722A" stroke-width="2.0" stroke-opacity="0.35"/><circle cx="620.3" cy="241.1" r="5.9" stroke="#A6722A" stroke-width="2.0" stroke-opacity="0.35"/><circle cx="616.1" cy="245.3" r="5.9" stroke="#A6722A" stroke-width="2.0" stroke-opacity="0.35"/><circle cx="621.3" cy="244.4" r="5.9" stroke="#A6722A" stroke-width="2.0" stroke-opacity="0.35"/><circle cx="619.2" cy="252.9" r="5.9" stroke="#A6722A" stroke-width="2.0" stroke-opacity="0.35"/><circle cx="624.9" cy="243.2" r="5.9" stroke="#A6722A" stroke-width="2.0" stroke-opacity="0.35"/><circle cx="626.6" cy="248.8" r="5.9" stroke="#A6722A" stroke-width="2.0" stroke-opacity="0.35"/><circle cx="625.2" cy="245.9" r="5.9" stroke="#A6722A" stroke-width="2.0" stroke-opacity="0.35"/><circle cx="617.3" cy="249.5" r="5.9" stroke="#A6722A" stroke-width="2.0" stroke-opacity="0.35"/><circle cx="618.2" cy="245.0" r="5.9" stroke="#A6722A" stroke-width="2.0" stroke-opacity="0.35"/><circle cx="627.6" cy="247.3" r="5.9" stroke="#A6722A" stroke-width="2.0" stroke-opacity="0.35"/><circle cx="618.0" cy="242.0" r="5.9" stroke="#A6722A" stroke-width="2.0" stroke-opacity="0.35"/><circle cx="622.5" cy="243.4" r="5.9" stroke="#A6722A" stroke-width="2.0" stroke-opacity="0.35"/><circle cx="624.6" cy="242.7" r="5.9" stroke="#A6722A" stroke-width="2.0" stroke-opacity="0.35"/><circle cx="621.2" cy="236.1" r="5.9" stroke="#A6722A" stroke-width="2.0" stroke-opacity="0.35"/><circle cx="629.6" cy="240.0" r="5.9" stroke="#A6722A" stroke-width="2.0" stroke-opacity="0.35"/><circle cx="623.5" cy="242.7" r="5.9" stroke="#A6722A" stroke-width="2.0" stroke-opacity="0.35"/><circle cx="621.5" cy="238.6" r="5.9" stroke="#A6722A" stroke-width="2.0" stroke-opacity="0.35"/><circle cx="627.3" cy="239.8" r="5.9" stroke="#A6722A" stroke-width="2.0" stroke-opacity="0.35"/><circle cx="618.8" cy="243.8" r="5.9" stroke="#A6722A" stroke-width="2.0" stroke-opacity="0.35"/><circle cx="623.7" cy="242.3" r="5.9" stroke="#A6722A" stroke-width="2.0" stroke-opacity="0.35"/><circle cx="628.3" cy="243.7" r="5.9" stroke="#A6722A" stroke-width="2.0" stroke-opacity="0.35"/><circle cx="627.7" cy="231.3" r="5.9" stroke="#A6722A" stroke-width="2.0" stroke-opacity="0.35"/><circle cx="631.0" cy="235.4" r="5.9" stroke="#A6722A" stroke-width="2.0" stroke-opacity="0.35"/><circle cx="630.4" cy="233.9" r="5.9" stroke="#A6722A" stroke-width="2.0" stroke-opacity="0.35"/><circle cx="624.5" cy="237.5" r="5.9" stroke="#A6722A" stroke-width="2.0" stroke-opacity="0.35"/><circle cx="620.4" cy="236.9" r="5.9" stroke="#A6722A" stroke-width="2.0" stroke-opacity="0.35"/><circle cx="624.9" cy="230.9" r="5.9" stroke="#A6722A" stroke-width="2.0" stroke-opacity="0.35"/><circle cx="624.1" cy="235.9" r="5.9" stroke="#A6722A" stroke-width="2.0" stroke-opacity="0.35"/><circle cx="631.0" cy="240.9" r="5.9" stroke="#A6722A" stroke-width="2.0" stroke-opacity="0.35"/><circle cx="631.2" cy="229.7" r="5.9" stroke="#A6722A" stroke-width="2.0" stroke-opacity="0.35"/><circle cx="630.1" cy="233.7" r="5.9" stroke="#A6722A" stroke-width="2.0" stroke-opacity="0.35"/><circle cx="633.0" cy="237.1" r="5.9" stroke="#A6722A" stroke-width="2.0" stroke-opacity="0.35"/><circle cx="624.0" cy="235.4" r="5.9" stroke="#A6722A" stroke-width="2.0" stroke-opacity="0.35"/><circle cx="629.5" cy="229.6" r="5.9" stroke="#A6722A" stroke-width="2.0" stroke-opacity="0.35"/><circle cx="622.8" cy="231.6" r="5.9" stroke="#A6722A" stroke-width="2.0" stroke-opacity="0.35"/><circle cx="625.9" cy="234.0" r="5.9" stroke="#A6722A" stroke-width="2.0" stroke-opacity="0.35"/><circle cx="625.9" cy="233.8" r="5.9" stroke="#A6722A" stroke-width="2.0" stroke-opacity="0.35"/><circle cx="626.2" cy="236.8" r="5.9" stroke="#A6722A" stroke-width="2.0" stroke-opacity="0.35"/><circle cx="630.6" cy="239.2" r="5.9" stroke="#A6722A" stroke-width="2.0" stroke-opacity="0.35"/><circle cx="628.0" cy="221.8" r="5.9" stroke="#A6722A" stroke-width="2.0" stroke-opacity="0.35"/><circle cx="633.9" cy="226.5" r="5.9" stroke="#A6722A" stroke-width="2.0" stroke-opacity="0.35"/><circle cx="634.8" cy="233.6" r="5.9" stroke="#A6722A" stroke-width="2.0" stroke-opacity="0.35"/><circle cx="624.8" cy="227.7" r="5.9" stroke="#A6722A" stroke-width="2.0" stroke-opacity="0.35"/><circle cx="633.2" cy="225.0" r="5.9" stroke="#A6722A" stroke-width="2.0" stroke-opacity="0.35"/><circle cx="627.3" cy="226.0" r="5.9" stroke="#A6722A" stroke-width="2.0" stroke-opacity="0.35"/><circle cx="630.8" cy="229.3" r="5.9" stroke="#A6722A" stroke-width="2.0" stroke-opacity="0.35"/><circle cx="630.8" cy="231.5" r="5.9" stroke="#A6722A" stroke-width="2.0" stroke-opacity="0.35"/><circle cx="630.4" cy="223.0" r="5.9" stroke="#A6722A" stroke-width="2.0" stroke-opacity="0.35"/><circle cx="631.0" cy="224.4" r="5.9" stroke="#A6722A" stroke-width="2.0" stroke-opacity="0.35"/><circle cx="634.2" cy="228.6" r="5.9" stroke="#A6722A" stroke-width="2.0" stroke-opacity="0.35"/><circle cx="632.2" cy="229.4" r="5.9" stroke="#A6722A" stroke-width="2.0" stroke-opacity="0.35"/><circle cx="630.3" cy="225.9" r="5.9" stroke="#A6722A" stroke-width="2.0" stroke-opacity="0.35"/><circle cx="633.1" cy="220.3" r="5.9" stroke="#A6722A" stroke-width="2.0" stroke-opacity="0.35"/><circle cx="632.3" cy="219.1" r="5.9" stroke="#A6722A" stroke-width="2.0" stroke-opacity="0.35"/><circle cx="637.8" cy="226.2" r="5.9" stroke="#A6722A" stroke-width="2.0" stroke-opacity="0.35"/><circle cx="631.3" cy="222.0" r="5.9" stroke="#A6722A" stroke-width="2.0" stroke-opacity="0.35"/><circle cx="628.4" cy="224.6" r="5.9" stroke="#A6722A" stroke-width="2.0" stroke-opacity="0.35"/><circle cx="632.3" cy="220.3" r="5.9" stroke="#A6722A" stroke-width="2.0" stroke-opacity="0.35"/><circle cx="626.5" cy="220.8" r="5.9" stroke="#A6722A" stroke-width="2.0" stroke-opacity="0.35"/><circle cx="641.4" cy="219.4" r="5.9" stroke="#A6722A" stroke-width="2.0" stroke-opacity="0.35"/><circle cx="632.6" cy="222.8" r="5.9" stroke="#A6722A" stroke-width="2.0" stroke-opacity="0.35"/><circle cx="634.5" cy="223.5" r="5.9" stroke="#A6722A" stroke-width="2.0" stroke-opacity="0.35"/><circle cx="628.8" cy="219.0" r="5.9" stroke="#A6722A" stroke-width="2.0" stroke-opacity="0.35"/><circle cx="640.2" cy="214.0" r="5.9" stroke="#A6722A" stroke-width="2.0" stroke-opacity="0.35"/><circle cx="639.8" cy="217.9" r="5.9" stroke="#A6722A" stroke-width="2.0" stroke-opacity="0.35"/><circle cx="636.8" cy="212.3" r="5.9" stroke="#A6722A" stroke-width="2.0" stroke-opacity="0.35"/><circle cx="639.9" cy="222.8" r="5.9" stroke="#A6722A" stroke-width="2.0" stroke-opacity="0.35"/><circle cx="632.7" cy="217.4" r="5.9" stroke="#A6722A" stroke-width="2.0" stroke-opacity="0.35"/><circle cx="631.6" cy="214.5" r="5.9" stroke="#A6722A" stroke-width="2.0" stroke-opacity="0.35"/><circle cx="637.7" cy="214.1" r="5.9" stroke="#A6722A" stroke-width="2.0" stroke-opacity="0.35"/><circle cx="641.7" cy="212.6" r="5.9" stroke="#A6722A" stroke-width="2.0" stroke-opacity="0.35"/><circle cx="638.9" cy="211.9" r="5.9" stroke="#A6722A" stroke-width="2.0" stroke-opacity="0.35"/><circle cx="636.6" cy="213.5" r="5.9" stroke="#A6722A" stroke-width="2.0" stroke-opacity="0.35"/><circle cx="632.7" cy="212.6" r="5.9" stroke="#A6722A" stroke-width="2.0" stroke-opacity="0.35"/><circle cx="633.5" cy="218.4" r="5.9" stroke="#A6722A" stroke-width="2.0" stroke-opacity="0.35"/><circle cx="636.4" cy="214.8" r="5.9" stroke="#A6722A" stroke-width="2.0" stroke-opacity="0.35"/><circle cx="639.5" cy="214.9" r="5.9" stroke="#A6722A" stroke-width="2.0" stroke-opacity="0.35"/><circle cx="634.4" cy="220.2" r="5.9" stroke="#A6722A" stroke-width="2.0" stroke-opacity="0.35"/><circle cx="635.0" cy="220.1" r="5.9" stroke="#A6722A" stroke-width="2.0" stroke-opacity="0.35"/><circle cx="636.9" cy="206.1" r="5.9" stroke="#A6722A" stroke-width="2.0" stroke-opacity="0.35"/><circle cx="638.7" cy="208.1" r="5.9" stroke="#A6722A" stroke-width="2.0" stroke-opacity="0.35"/><circle cx="643.6" cy="207.4" r="5.9" stroke="#A6722A" stroke-width="2.0" stroke-opacity="0.35"/><circle cx="641.3" cy="210.3" r="5.9" stroke="#A6722A" stroke-width="2.0" stroke-opacity="0.35"/><circle cx="642.4" cy="212.4" r="5.9" stroke="#A6722A" stroke-width="2.0" stroke-opacity="0.35"/><circle cx="640.2" cy="208.4" r="5.9" stroke="#A6722A" stroke-width="2.0" stroke-opacity="0.35"/><circle cx="635.9" cy="212.8" r="5.9" stroke="#A6722A" stroke-width="2.0" stroke-opacity="0.35"/><circle cx="636.7" cy="210.4" r="5.9" stroke="#A6722A" stroke-width="2.0" stroke-opacity="0.35"/><circle cx="644.0" cy="207.5" r="5.9" stroke="#A6722A" stroke-width="2.0" stroke-opacity="0.35"/><circle cx="642.9" cy="215.4" r="5.9" stroke="#A6722A" stroke-width="2.0" stroke-opacity="0.35"/><circle cx="647.4" cy="211.2" r="5.9" stroke="#A6722A" stroke-width="2.0" stroke-opacity="0.35"/><circle cx="646.1" cy="213.3" r="5.9" stroke="#A6722A" stroke-width="2.0" stroke-opacity="0.35"/><circle cx="646.4" cy="209.3" r="5.9" stroke="#A6722A" stroke-width="2.0" stroke-opacity="0.35"/><circle cx="644.1" cy="212.6" r="5.9" stroke="#A6722A" stroke-width="2.0" stroke-opacity="0.35"/><circle cx="639.1" cy="210.1" r="5.9" stroke="#A6722A" stroke-width="2.0" stroke-opacity="0.35"/><circle cx="637.8" cy="209.2" r="5.9" stroke="#A6722A" stroke-width="2.0" stroke-opacity="0.35"/><circle cx="642.7" cy="211.4" r="5.9" stroke="#A6722A" stroke-width="2.0" stroke-opacity="0.35"/><circle cx="642.9" cy="210.1" r="5.9" stroke="#A6722A" stroke-width="2.0" stroke-opacity="0.35"/><circle cx="638.2" cy="202.7" r="5.9" stroke="#A6722A" stroke-width="2.0" stroke-opacity="0.35"/><circle cx="648.8" cy="203.7" r="5.9" stroke="#A6722A" stroke-width="2.0" stroke-opacity="0.35"/><circle cx="650.1" cy="208.7" r="5.9" stroke="#A6722A" stroke-width="2.0" stroke-opacity="0.35"/><circle cx="651.1" cy="207.7" r="5.9" stroke="#A6722A" stroke-width="2.0" stroke-opacity="0.35"/><circle cx="648.2" cy="200.9" r="5.9" stroke="#A6722A" stroke-width="2.0" stroke-opacity="0.35"/><circle cx="650.2" cy="204.5" r="5.9" stroke="#A6722A" stroke-width="2.0" stroke-opacity="0.35"/><circle cx="641.6" cy="203.9" r="5.9" stroke="#A6722A" stroke-width="2.0" stroke-opacity="0.35"/><circle cx="647.7" cy="200.1" r="5.9" stroke="#A6722A" stroke-width="2.0" stroke-opacity="0.35"/><circle cx="640.9" cy="204.9" r="5.9" stroke="#A6722A" stroke-width="2.0" stroke-opacity="0.35"/><circle cx="645.5" cy="203.0" r="5.9" stroke="#A6722A" stroke-width="2.0" stroke-opacity="0.35"/><circle cx="644.2" cy="203.5" r="5.9" stroke="#A6722A" stroke-width="2.0" stroke-opacity="0.35"/><circle cx="645.8" cy="206.1" r="5.9" stroke="#A6722A" stroke-width="2.0" stroke-opacity="0.35"/><circle cx="641.3" cy="202.2" r="5.9" stroke="#A6722A" stroke-width="2.0" stroke-opacity="0.35"/><circle cx="648.5" cy="205.3" r="5.9" stroke="#A6722A" stroke-width="2.0" stroke-opacity="0.35"/><circle cx="647.0" cy="202.8" r="5.9" stroke="#A6722A" stroke-width="2.0" stroke-opacity="0.35"/><circle cx="645.2" cy="206.8" r="5.9" stroke="#A6722A" stroke-width="2.0" stroke-opacity="0.35"/><circle cx="653.8" cy="206.1" r="5.9" stroke="#A6722A" stroke-width="2.0" stroke-opacity="0.35"/><circle cx="644.0" cy="206.6" r="5.9" stroke="#A6722A" stroke-width="2.0" stroke-opacity="0.35"/><circle cx="653.2" cy="207.5" r="5.9" stroke="#A6722A" stroke-width="2.0" stroke-opacity="0.35"/><circle cx="650.0" cy="207.3" r="5.9" stroke="#A6722A" stroke-width="2.0" stroke-opacity="0.35"/><circle cx="650.4" cy="204.5" r="5.9" stroke="#A6722A" stroke-width="2.0" stroke-opacity="0.35"/><circle cx="650.9" cy="206.3" r="5.9" stroke="#A6722A" stroke-width="2.0" stroke-opacity="0.35"/><circle cx="654.6" cy="204.3" r="5.9" stroke="#A6722A" stroke-width="2.0" stroke-opacity="0.35"/><circle cx="647.7" cy="200.5" r="5.9" stroke="#A6722A" stroke-width="2.0" stroke-opacity="0.35"/><circle cx="650.7" cy="199.8" r="5.9" stroke="#A6722A" stroke-width="2.0" stroke-opacity="0.35"/><circle cx="644.9" cy="198.9" r="5.9" stroke="#A6722A" stroke-width="2.0" stroke-opacity="0.35"/><circle cx="650.1" cy="201.5" r="5.9" stroke="#A6722A" stroke-width="2.0" stroke-opacity="0.35"/><circle cx="651.8" cy="202.4" r="5.9" stroke="#A6722A" stroke-width="2.0" stroke-opacity="0.35"/><circle cx="654.0" cy="205.4" r="5.9" stroke="#A6722A" stroke-width="2.0" stroke-opacity="0.35"/><circle cx="654.6" cy="200.7" r="5.9" stroke="#A6722A" stroke-width="2.0" stroke-opacity="0.35"/><circle cx="651.4" cy="198.2" r="5.9" stroke="#A6722A" stroke-width="2.0" stroke-opacity="0.35"/><circle cx="654.8" cy="201.0" r="5.9" stroke="#A6722A" stroke-width="2.0" stroke-opacity="0.35"/><circle cx="654.0" cy="203.9" r="5.9" stroke="#A6722A" stroke-width="2.0" stroke-opacity="0.35"/><circle cx="654.5" cy="202.3" r="5.9" stroke="#A6722A" stroke-width="2.0" stroke-opacity="0.35"/><circle cx="658.3" cy="198.3" r="5.9" stroke="#A6722A" stroke-width="2.0" stroke-opacity="0.35"/><circle cx="656.3" cy="205.3" r="5.9" stroke="#A6722A" stroke-width="2.0" stroke-opacity="0.35"/><circle cx="651.2" cy="201.4" r="5.9" stroke="#A6722A" stroke-width="2.0" stroke-opacity="0.35"/><circle cx="656.4" cy="200.7" r="5.9" stroke="#A6722A" stroke-width="2.0" stroke-opacity="0.35"/><circle cx="649.2" cy="199.1" r="5.9" stroke="#A6722A" stroke-width="2.0" stroke-opacity="0.35"/><circle cx="646.1" cy="201.5" r="5.9" stroke="#A6722A" stroke-width="2.0" stroke-opacity="0.35"/><circle cx="653.3" cy="197.6" r="5.9" stroke="#A6722A" stroke-width="2.0" stroke-opacity="0.35"/><circle cx="651.6" cy="196.4" r="5.9" stroke="#A6722A" stroke-width="2.0" stroke-opacity="0.35"/><circle cx="655.3" cy="205.0" r="5.9" stroke="#A6722A" stroke-width="2.0" stroke-opacity="0.35"/><circle cx="655.6" cy="205.9" r="5.9" stroke="#A6722A" stroke-width="2.0" stroke-opacity="0.35"/><circle cx="654.5" cy="202.3" r="5.9" stroke="#A6722A" stroke-width="2.0" stroke-opacity="0.35"/><circle cx="656.6" cy="198.6" r="5.9" stroke="#A6722A" stroke-width="2.0" stroke-opacity="0.35"/><circle cx="653.6" cy="195.1" r="5.9" stroke="#A6722A" stroke-width="2.0" stroke-opacity="0.35"/><circle cx="654.2" cy="194.7" r="5.9" stroke="#A6722A" stroke-width="2.0" stroke-opacity="0.35"/><circle cx="654.5" cy="204.1" r="5.9" stroke="#A6722A" stroke-width="2.0" stroke-opacity="0.35"/><circle cx="653.6" cy="199.0" r="5.9" stroke="#A6722A" stroke-width="2.0" stroke-opacity="0.35"/><circle cx="664.2" cy="200.8" r="5.9" stroke="#A6722A" stroke-width="2.0" stroke-opacity="0.35"/><circle cx="657.3" cy="197.1" r="5.9" stroke="#A6722A" stroke-width="2.0" stroke-opacity="0.35"/><circle cx="656.7" cy="201.1" r="5.9" stroke="#A6722A" stroke-width="2.0" stroke-opacity="0.35"/><circle cx="661.7" cy="203.1" r="5.9" stroke="#A6722A" stroke-width="2.0" stroke-opacity="0.35"/><circle cx="664.0" cy="202.0" r="5.9" stroke="#A6722A" stroke-width="2.0" stroke-opacity="0.35"/><circle cx="661.7" cy="206.4" r="5.9" stroke="#A6722A" stroke-width="2.0" stroke-opacity="0.35"/><circle cx="661.9" cy="203.4" r="5.9" stroke="#A6722A" stroke-width="2.0" stroke-opacity="0.35"/><circle cx="662.3" cy="197.5" r="5.9" stroke="#A6722A" stroke-width="2.0" stroke-opacity="0.35"/><circle cx="659.2" cy="205.5" r="5.9" stroke="#A6722A" stroke-width="2.0" stroke-opacity="0.35"/><circle cx="661.7" cy="204.2" r="5.9" stroke="#A6722A" stroke-width="2.0" stroke-opacity="0.35"/><circle cx="669.2" cy="202.1" r="5.9" stroke="#A6722A" stroke-width="2.0" stroke-opacity="0.35"/><circle cx="663.4" cy="199.6" r="5.9" stroke="#A6722A" stroke-width="2.0" stroke-opacity="0.35"/><circle cx="661.8" cy="202.7" r="5.9" stroke="#A6722A" stroke-width="2.0" stroke-opacity="0.35"/><circle cx="669.3" cy="204.2" r="5.9" stroke="#A6722A" stroke-width="2.0" stroke-opacity="0.35"/><circle cx="661.2" cy="204.2" r="5.9" stroke="#A6722A" stroke-width="2.0" stroke-opacity="0.35"/><circle cx="664.7" cy="198.6" r="5.9" stroke="#A6722A" stroke-width="2.0" stroke-opacity="0.35"/><circle cx="666.9" cy="204.6" r="5.9" stroke="#A6722A" stroke-width="2.0" stroke-opacity="0.35"/><circle cx="664.3" cy="207.6" r="5.9" stroke="#A6722A" stroke-width="2.0" stroke-opacity="0.35"/><circle cx="667.2" cy="208.7" r="5.9" stroke="#A6722A" stroke-width="2.0" stroke-opacity="0.35"/><circle cx="671.5" cy="202.6" r="5.9" stroke="#A6722A" stroke-width="2.0" stroke-opacity="0.35"/><circle cx="665.0" cy="205.1" r="5.9" stroke="#A6722A" stroke-width="2.0" stroke-opacity="0.35"/><circle cx="665.3" cy="203.4" r="5.9" stroke="#A6722A" stroke-width="2.0" stroke-opacity="0.35"/><circle cx="672.6" cy="206.4" r="5.9" stroke="#A6722A" stroke-width="2.0" stroke-opacity="0.35"/><circle cx="664.9" cy="201.2" r="5.9" stroke="#A6722A" stroke-width="2.0" stroke-opacity="0.35"/><circle cx="673.0" cy="211.1" r="5.9" stroke="#A6722A" stroke-width="2.0" stroke-opacity="0.35"/><circle cx="671.7" cy="213.8" r="5.9" stroke="#A6722A" stroke-width="2.0" stroke-opacity="0.35"/><circle cx="675.9" cy="214.3" r="5.9" stroke="#A6722A" stroke-width="2.0" stroke-opacity="0.35"/><circle cx="672.6" cy="214.1" r="5.9" stroke="#A6722A" stroke-width="2.0" stroke-opacity="0.35"/><circle cx="668.2" cy="208.5" r="5.9" stroke="#A6722A" stroke-width="2.0" stroke-opacity="0.35"/><circle cx="672.8" cy="211.4" r="5.9" stroke="#A6722A" stroke-width="2.0" stroke-opacity="0.35"/><circle cx="671.9" cy="213.7" r="5.9" stroke="#A6722A" stroke-width="2.0" stroke-opacity="0.35"/><circle cx="667.1" cy="215.4" r="5.9" stroke="#A6722A" stroke-width="2.0" stroke-opacity="0.35"/><circle cx="678.3" cy="225.8" r="5.9" stroke="#A6722A" stroke-width="2.0" stroke-opacity="0.35"/><circle cx="672.2" cy="221.1" r="5.9" stroke="#A6722A" stroke-width="2.0" stroke-opacity="0.35"/><circle cx="678.2" cy="218.1" r="5.9" stroke="#A6722A" stroke-width="2.0" stroke-opacity="0.35"/><circle cx="674.2" cy="225.6" r="5.9" stroke="#A6722A" stroke-width="2.0" stroke-opacity="0.35"/><circle cx="677.7" cy="222.5" r="5.9" stroke="#A6722A" stroke-width="2.0" stroke-opacity="0.35"/><circle cx="673.3" cy="223.0" r="5.9" stroke="#A6722A" stroke-width="2.0" stroke-opacity="0.35"/><circle cx="675.5" cy="223.9" r="5.9" stroke="#A6722A" stroke-width="2.0" stroke-opacity="0.35"/><circle cx="679.3" cy="218.4" r="5.9" stroke="#A6722A" stroke-width="2.0" stroke-opacity="0.35"/><circle cx="678.9" cy="234.3" r="5.9" stroke="#A6722A" stroke-width="2.0" stroke-opacity="0.35"/><circle cx="683.6" cy="225.2" r="5.9" stroke="#A6722A" stroke-width="2.0" stroke-opacity="0.35"/><circle cx="682.9" cy="228.9" r="5.9" stroke="#A6722A" stroke-width="2.0" stroke-opacity="0.35"/><circle cx="675.7" cy="231.1" r="5.9" stroke="#A6722A" stroke-width="2.0" stroke-opacity="0.35"/><circle cx="683.4" cy="228.9" r="5.9" stroke="#A6722A" stroke-width="2.0" stroke-opacity="0.35"/><circle cx="680.7" cy="226.6" r="5.9" stroke="#A6722A" stroke-width="2.0" stroke-opacity="0.35"/><circle cx="676.6" cy="232.5" r="5.9" stroke="#A6722A" stroke-width="2.0" stroke-opacity="0.35"/><circle cx="681.0" cy="227.9" r="5.9" stroke="#A6722A" stroke-width="2.0" stroke-opacity="0.35"/><circle cx="684.9" cy="243.5" r="5.9" stroke="#A6722A" stroke-width="2.0" stroke-opacity="0.35"/><circle cx="681.0" cy="235.7" r="5.9" stroke="#A6722A" stroke-width="2.0" stroke-opacity="0.35"/><circle cx="685.0" cy="241.6" r="5.9" stroke="#A6722A" stroke-width="2.0" stroke-opacity="0.35"/><circle cx="684.8" cy="239.8" r="5.9" stroke="#A6722A" stroke-width="2.0" stroke-opacity="0.35"/><circle cx="684.1" cy="242.0" r="5.9" stroke="#A6722A" stroke-width="2.0" stroke-opacity="0.35"/><circle cx="680.8" cy="237.0" r="5.9" stroke="#A6722A" stroke-width="2.0" stroke-opacity="0.35"/><circle cx="682.9" cy="240.9" r="5.9" stroke="#A6722A" stroke-width="2.0" stroke-opacity="0.35"/><circle cx="689.1" cy="233.5" r="5.9" stroke="#A6722A" stroke-width="2.0" stroke-opacity="0.35"/><circle cx="691.7" cy="244.8" r="5.9" stroke="#A6722A" stroke-width="2.0" stroke-opacity="0.35"/><circle cx="685.9" cy="242.6" r="5.9" stroke="#A6722A" stroke-width="2.0" stroke-opacity="0.35"/><circle cx="687.5" cy="250.2" r="5.9" stroke="#A6722A" stroke-width="2.0" stroke-opacity="0.35"/><circle cx="692.5" cy="242.6" r="5.9" stroke="#A6722A" stroke-width="2.0" stroke-opacity="0.35"/><circle cx="689.1" cy="244.9" r="5.9" stroke="#A6722A" stroke-width="2.0" stroke-opacity="0.35"/><circle cx="694.1" cy="248.2" r="5.9" stroke="#A6722A" stroke-width="2.0" stroke-opacity="0.35"/><circle cx="687.2" cy="245.5" r="5.9" stroke="#A6722A" stroke-width="2.0" stroke-opacity="0.35"/><circle cx="692.3" cy="246.6" r="5.9" stroke="#A6722A" stroke-width="2.0" stroke-opacity="0.35"/><circle cx="691.1" cy="254.0" r="5.9" stroke="#A6722A" stroke-width="2.0" stroke-opacity="0.35"/><circle cx="692.3" cy="254.7" r="5.9" stroke="#A6722A" stroke-width="2.0" stroke-opacity="0.35"/><circle cx="692.5" cy="254.9" r="5.9" stroke="#A6722A" stroke-width="2.0" stroke-opacity="0.35"/><circle cx="696.1" cy="254.7" r="5.9" stroke="#A6722A" stroke-width="2.0" stroke-opacity="0.35"/><circle cx="699.1" cy="256.7" r="5.9" stroke="#A6722A" stroke-width="2.0" stroke-opacity="0.35"/><circle cx="692.0" cy="260.0" r="5.9" stroke="#A6722A" stroke-width="2.0" stroke-opacity="0.35"/><circle cx="695.4" cy="258.7" r="5.9" stroke="#A6722A" stroke-width="2.0" stroke-opacity="0.35"/><circle cx="691.1" cy="258.5" r="5.9" stroke="#A6722A" stroke-width="2.0" stroke-opacity="0.35"/><circle cx="694.9" cy="266.3" r="5.9" stroke="#A6722A" stroke-width="2.0" stroke-opacity="0.35"/><circle cx="697.1" cy="266.8" r="5.9" stroke="#A6722A" stroke-width="2.0" stroke-opacity="0.35"/><circle cx="693.3" cy="266.3" r="5.9" stroke="#A6722A" stroke-width="2.0" stroke-opacity="0.35"/><circle cx="702.1" cy="263.4" r="5.9" stroke="#A6722A" stroke-width="2.0" stroke-opacity="0.35"/><circle cx="701.2" cy="268.1" r="5.9" stroke="#A6722A" stroke-width="2.0" stroke-opacity="0.35"/><circle cx="698.3" cy="261.3" r="5.9" stroke="#A6722A" stroke-width="2.0" stroke-opacity="0.35"/><circle cx="699.0" cy="266.7" r="5.9" stroke="#A6722A" stroke-width="2.0" stroke-opacity="0.35"/><circle cx="694.0" cy="266.5" r="5.9" stroke="#A6722A" stroke-width="2.0" stroke-opacity="0.35"/><circle cx="704.3" cy="276.9" r="5.9" stroke="#A6722A" stroke-width="2.0" stroke-opacity="0.35"/><circle cx="699.2" cy="278.9" r="5.9" stroke="#A6722A" stroke-width="2.0" stroke-opacity="0.35"/><circle cx="702.0" cy="280.0" r="5.9" stroke="#A6722A" stroke-width="2.0" stroke-opacity="0.35"/><circle cx="703.9" cy="272.1" r="5.9" stroke="#A6722A" stroke-width="2.0" stroke-opacity="0.35"/><circle cx="703.3" cy="273.2" r="5.9" stroke="#A6722A" stroke-width="2.0" stroke-opacity="0.35"/><circle cx="700.9" cy="275.9" r="5.9" stroke="#A6722A" stroke-width="2.0" stroke-opacity="0.35"/><circle cx="700.9" cy="277.4" r="5.9" stroke="#A6722A" stroke-width="2.0" stroke-opacity="0.35"/><circle cx="702.7" cy="269.1" r="5.9" stroke="#A6722A" stroke-width="2.0" stroke-opacity="0.35"/><circle cx="704.8" cy="284.5" r="5.9" stroke="#A6722A" stroke-width="2.0" stroke-opacity="0.35"/><circle cx="709.0" cy="281.0" r="5.9" stroke="#A6722A" stroke-width="2.0" stroke-opacity="0.35"/><circle cx="702.0" cy="282.3" r="5.9" stroke="#A6722A" stroke-width="2.0" stroke-opacity="0.35"/><circle cx="705.3" cy="279.5" r="5.9" stroke="#A6722A" stroke-width="2.0" stroke-opacity="0.35"/><circle cx="705.7" cy="283.6" r="5.9" stroke="#A6722A" stroke-width="2.0" stroke-opacity="0.35"/><circle cx="706.8" cy="276.4" r="5.9" stroke="#A6722A" stroke-width="2.0" stroke-opacity="0.35"/><circle cx="708.3" cy="278.0" r="5.9" stroke="#A6722A" stroke-width="2.0" stroke-opacity="0.35"/><circle cx="712.3" cy="282.2" r="5.9" stroke="#A6722A" stroke-width="2.0" stroke-opacity="0.35"/><circle cx="713.1" cy="290.7" r="5.9" stroke="#A6722A" stroke-width="2.0" stroke-opacity="0.35"/><circle cx="714.6" cy="289.7" r="5.9" stroke="#A6722A" stroke-width="2.0" stroke-opacity="0.35"/><circle cx="708.9" cy="283.6" r="5.9" stroke="#A6722A" stroke-width="2.0" stroke-opacity="0.35"/><circle cx="709.2" cy="288.5" r="5.9" stroke="#A6722A" stroke-width="2.0" stroke-opacity="0.35"/><circle cx="712.3" cy="287.7" r="5.9" stroke="#A6722A" stroke-width="2.0" stroke-opacity="0.35"/><circle cx="711.7" cy="291.7" r="5.9" stroke="#A6722A" stroke-width="2.0" stroke-opacity="0.35"/><circle cx="713.8" cy="286.5" r="5.9" stroke="#A6722A" stroke-width="2.0" stroke-opacity="0.35"/><circle cx="713.4" cy="285.3" r="5.9" stroke="#A6722A" stroke-width="2.0" stroke-opacity="0.35"/><circle cx="709.9" cy="299.2" r="5.9" stroke="#A6722A" stroke-width="2.0" stroke-opacity="0.35"/><circle cx="716.0" cy="301.4" r="5.9" stroke="#A6722A" stroke-width="2.0" stroke-opacity="0.35"/><circle cx="719.2" cy="296.0" r="5.9" stroke="#A6722A" stroke-width="2.0" stroke-opacity="0.35"/><circle cx="711.7" cy="301.7" r="5.9" stroke="#A6722A" stroke-width="2.0" stroke-opacity="0.35"/><circle cx="715.2" cy="293.4" r="5.9" stroke="#A6722A" stroke-width="2.0" stroke-opacity="0.35"/><circle cx="710.5" cy="298.2" r="5.9" stroke="#A6722A" stroke-width="2.0" stroke-opacity="0.35"/><circle cx="715.5" cy="302.6" r="5.9" stroke="#A6722A" stroke-width="2.0" stroke-opacity="0.35"/><circle cx="719.5" cy="294.6" r="5.9" stroke="#A6722A" stroke-width="2.0" stroke-opacity="0.35"/><circle cx="722.5" cy="307.9" r="5.9" stroke="#A6722A" stroke-width="2.0" stroke-opacity="0.35"/><circle cx="719.3" cy="310.9" r="5.9" stroke="#A6722A" stroke-width="2.0" stroke-opacity="0.35"/><circle cx="718.4" cy="310.5" r="5.9" stroke="#A6722A" stroke-width="2.0" stroke-opacity="0.35"/><circle cx="716.6" cy="308.0" r="5.9" stroke="#A6722A" stroke-width="2.0" stroke-opacity="0.35"/><circle cx="719.4" cy="306.5" r="5.9" stroke="#A6722A" stroke-width="2.0" stroke-opacity="0.35"/><circle cx="722.0" cy="306.9" r="5.9" stroke="#A6722A" stroke-width="2.0" stroke-opacity="0.35"/><circle cx="723.4" cy="304.5" r="5.9" stroke="#A6722A" stroke-width="2.0" stroke-opacity="0.35"/><circle cx="722.5" cy="304.9" r="5.9" stroke="#A6722A" stroke-width="2.0" stroke-opacity="0.35"/><circle cx="721.7" cy="317.9" r="5.9" stroke="#A6722A" stroke-width="2.0" stroke-opacity="0.35"/><circle cx="725.1" cy="317.4" r="5.9" stroke="#A6722A" stroke-width="2.0" stroke-opacity="0.35"/><circle cx="721.8" cy="313.1" r="5.9" stroke="#A6722A" stroke-width="2.0" stroke-opacity="0.35"/><circle cx="725.1" cy="309.8" r="5.9" stroke="#A6722A" stroke-width="2.0" stroke-opacity="0.35"/><circle cx="719.0" cy="312.7" r="5.9" stroke="#A6722A" stroke-width="2.0" stroke-opacity="0.35"/><circle cx="725.6" cy="312.4" r="5.9" stroke="#A6722A" stroke-width="2.0" stroke-opacity="0.35"/><circle cx="724.6" cy="315.7" r="5.9" stroke="#A6722A" stroke-width="2.0" stroke-opacity="0.35"/><circle cx="727.6" cy="312.8" r="5.9" stroke="#A6722A" stroke-width="2.0" stroke-opacity="0.35"/><circle cx="730.3" cy="307.3" r="5.9" stroke="#A6722A" stroke-width="2.0" stroke-opacity="0.38"/><circle cx="730.5" cy="306.8" r="5.9" stroke="#A6722A" stroke-width="2.0" stroke-opacity="0.38"/><circle cx="730.2" cy="305.4" r="5.9" stroke="#A6722A" stroke-width="2.0" stroke-opacity="0.38"/><circle cx="734.7" cy="315.6" r="5.9" stroke="#A6722A" stroke-width="2.0" stroke-opacity="0.38"/><circle cx="734.5" cy="318.6" r="5.9" stroke="#A6722A" stroke-width="2.0" stroke-opacity="0.38"/><circle cx="733.9" cy="316.5" r="5.9" stroke="#A6722A" stroke-width="2.0" stroke-opacity="0.38"/><circle cx="738.0" cy="326.2" r="5.9" stroke="#A6722A" stroke-width="2.0" stroke-opacity="0.38"/><circle cx="738.5" cy="319.1" r="5.9" stroke="#A6722A" stroke-width="2.0" stroke-opacity="0.38"/><circle cx="738.5" cy="320.9" r="5.9" stroke="#A6722A" stroke-width="2.0" stroke-opacity="0.38"/><circle cx="742.5" cy="325.0" r="5.9" stroke="#A6722A" stroke-width="2.0" stroke-opacity="0.38"/><circle cx="743.1" cy="327.7" r="5.9" stroke="#A6722A" stroke-width="2.0" stroke-opacity="0.38"/><circle cx="743.5" cy="330.4" r="5.9" stroke="#A6722A" stroke-width="2.0" stroke-opacity="0.38"/><circle cx="747.6" cy="326.2" r="5.9" stroke="#A6722A" stroke-width="2.0" stroke-opacity="0.38"/><circle cx="747.2" cy="327.5" r="5.9" stroke="#A6722A" stroke-width="2.0" stroke-opacity="0.38"/><circle cx="746.9" cy="328.7" r="5.9" stroke="#A6722A" stroke-width="2.0" stroke-opacity="0.38"/><circle cx="751.6" cy="333.6" r="5.9" stroke="#A6722A" stroke-width="2.0" stroke-opacity="0.38"/><circle cx="751.4" cy="332.9" r="5.9" stroke="#A6722A" stroke-width="2.0" stroke-opacity="0.38"/><circle cx="752.1" cy="333.7" r="5.9" stroke="#A6722A" stroke-width="2.0" stroke-opacity="0.38"/><circle cx="756.3" cy="345.0" r="5.9" stroke="#A6722A" stroke-width="2.0" stroke-opacity="0.38"/><circle cx="755.9" cy="344.8" r="5.9" stroke="#A6722A" stroke-width="2.0" stroke-opacity="0.38"/><circle cx="756.4" cy="342.5" r="5.9" stroke="#A6722A" stroke-width="2.0" stroke-opacity="0.38"/><circle cx="760.4" cy="337.2" r="5.9" stroke="#A6722A" stroke-width="2.0" stroke-opacity="0.38"/><circle cx="759.7" cy="334.8" r="5.9" stroke="#A6722A" stroke-width="2.0" stroke-opacity="0.38"/><circle cx="759.8" cy="341.5" r="5.9" stroke="#A6722A" stroke-width="2.0" stroke-opacity="0.38"/><circle cx="764.3" cy="347.4" r="5.9" stroke="#A6722A" stroke-width="2.0" stroke-opacity="0.38"/><circle cx="764.2" cy="345.6" r="5.9" stroke="#A6722A" stroke-width="2.0" stroke-opacity="0.38"/><circle cx="764.2" cy="340.0" r="5.9" stroke="#A6722A" stroke-width="2.0" stroke-opacity="0.38"/><circle cx="769.0" cy="343.6" r="5.9" stroke="#A6722A" stroke-width="2.0" stroke-opacity="0.38"/><circle cx="768.7" cy="343.0" r="5.9" stroke="#A6722A" stroke-width="2.0" stroke-opacity="0.38"/><circle cx="768.9" cy="341.9" r="5.9" stroke="#A6722A" stroke-width="2.0" stroke-opacity="0.38"/><circle cx="772.5" cy="350.7" r="5.9" stroke="#A6722A" stroke-width="2.0" stroke-opacity="0.38"/><circle cx="773.0" cy="351.1" r="5.9" stroke="#A6722A" stroke-width="2.0" stroke-opacity="0.38"/><circle cx="772.5" cy="352.8" r="5.9" stroke="#A6722A" stroke-width="2.0" stroke-opacity="0.38"/><circle cx="776.8" cy="357.5" r="5.9" stroke="#A6722A" stroke-width="2.0" stroke-opacity="0.38"/><circle cx="777.8" cy="355.4" r="5.9" stroke="#A6722A" stroke-width="2.0" stroke-opacity="0.38"/><circle cx="777.1" cy="353.2" r="5.9" stroke="#A6722A" stroke-width="2.0" stroke-opacity="0.38"/><circle cx="782.2" cy="356.2" r="5.9" stroke="#A6722A" stroke-width="2.0" stroke-opacity="0.38"/><circle cx="781.8" cy="346.6" r="5.9" stroke="#A6722A" stroke-width="2.0" stroke-opacity="0.38"/><circle cx="781.0" cy="354.9" r="5.9" stroke="#A6722A" stroke-width="2.0" stroke-opacity="0.38"/><circle cx="785.9" cy="354.6" r="5.9" stroke="#A6722A" stroke-width="2.0" stroke-opacity="0.38"/><circle cx="785.5" cy="352.0" r="5.9" stroke="#A6722A" stroke-width="2.0" stroke-opacity="0.38"/><circle cx="786.4" cy="352.9" r="5.9" stroke="#A6722A" stroke-width="2.0" stroke-opacity="0.38"/><circle cx="790.8" cy="351.4" r="5.9" stroke="#A6722A" stroke-width="2.0" stroke-opacity="0.38"/><circle cx="790.2" cy="358.0" r="5.9" stroke="#A6722A" stroke-width="2.0" stroke-opacity="0.38"/><circle cx="790.4" cy="360.3" r="5.9" stroke="#A6722A" stroke-width="2.0" stroke-opacity="0.38"/><circle cx="794.8" cy="361.4" r="5.9" stroke="#A6722A" stroke-width="2.0" stroke-opacity="0.38"/><circle cx="794.0" cy="351.0" r="5.9" stroke="#A6722A" stroke-width="2.0" stroke-opacity="0.38"/><circle cx="794.1" cy="352.7" r="5.9" stroke="#A6722A" stroke-width="2.0" stroke-opacity="0.38"/><circle cx="799.1" cy="358.0" r="5.9" stroke="#A6722A" stroke-width="2.0" stroke-opacity="0.38"/><circle cx="799.0" cy="358.9" r="5.9" stroke="#A6722A" stroke-width="2.0" stroke-opacity="0.38"/><circle cx="798.9" cy="353.1" r="5.9" stroke="#A6722A" stroke-width="2.0" stroke-opacity="0.38"/><circle cx="803.5" cy="361.7" r="5.9" stroke="#A6722A" stroke-width="2.0" stroke-opacity="0.38"/><circle cx="803.4" cy="363.9" r="5.9" stroke="#A6722A" stroke-width="2.0" stroke-opacity="0.38"/><circle cx="803.0" cy="356.8" r="5.9" stroke="#A6722A" stroke-width="2.0" stroke-opacity="0.38"/><circle cx="480.2" cy="296.4" r="5.9" stroke="#A6722A" stroke-width="2.0" stroke-opacity="0.40"/><circle cx="469.0" cy="307.7" r="5.9" stroke="#A6722A" stroke-width="2.0" stroke-opacity="0.40"/><circle cx="481.8" cy="317.3" r="5.9" stroke="#A6722A" stroke-width="2.0" stroke-opacity="0.40"/><circle cx="486.6" cy="322.2" r="5.9" stroke="#A6722A" stroke-width="2.0" stroke-opacity="0.40"/><circle cx="477.0" cy="319.0" r="5.9" stroke="#A6722A" stroke-width="2.0" stroke-opacity="0.40"/><circle cx="472.0" cy="300.0" r="5.9" stroke="#A6722A" stroke-width="2.0" stroke-opacity="0.40"/><circle cx="539.0" cy="270.8" r="5.9" stroke="#A6722A" stroke-width="2.0" stroke-opacity="0.40"/><circle cx="545.0" cy="281.0" r="5.9" stroke="#A6722A" stroke-width="2.0" stroke-opacity="0.40"/><circle cx="553.0" cy="303.0" r="5.9" stroke="#A6722A" stroke-width="2.0" stroke-opacity="0.40"/><circle cx="565.0" cy="325.0" r="5.9" stroke="#A6722A" stroke-width="2.0" stroke-opacity="0.40"/><circle cx="558.0" cy="292.0" r="5.9" stroke="#A6722A" stroke-width="2.0" stroke-opacity="0.40"/><circle cx="746.0" cy="333.0" r="5.9" stroke="#A6722A" stroke-width="2.0" stroke-opacity="0.40"/><circle cx="752.0" cy="340.0" r="5.9" stroke="#A6722A" stroke-width="2.0" stroke-opacity="0.40"/><circle cx="760.0" cy="345.0" r="5.9" stroke="#A6722A" stroke-width="2.0" stroke-opacity="0.40"/><circle cx="771.4" cy="353.0" r="5.9" stroke="#A6722A" stroke-width="2.0" stroke-opacity="0.40"/><circle cx="780.0" cy="357.0" r="5.9" stroke="#A6722A" stroke-width="2.0" stroke-opacity="0.40"/><circle cx="788.0" cy="360.0" r="5.9" stroke="#A6722A" stroke-width="2.0" stroke-opacity="0.40"/><circle cx="796.6" cy="358.0" r="5.9" stroke="#A6722A" stroke-width="2.0" stroke-opacity="0.40"/><circle cx="806.0" cy="356.0" r="5.9" stroke="#A6722A" stroke-width="2.0" stroke-opacity="0.40"/><circle cx="814.0" cy="355.7" r="5.9" stroke="#A6722A" stroke-width="2.0" stroke-opacity="0.40"/><circle cx="765.0" cy="352.0" r="5.9" stroke="#A6722A" stroke-width="2.0" stroke-opacity="0.40"/><circle cx="775.0" cy="348.0" r="5.9" stroke="#A6722A" stroke-width="2.0" stroke-opacity="0.40"/><circle cx="742.0" cy="325.0" r="5.9" stroke="#A6722A" stroke-width="2.0" stroke-opacity="0.40"/><circle cx="843.5" cy="362.7" r="5.9" stroke="#A6722A" stroke-width="2.0" stroke-opacity="0.40"/><circle cx="852.2" cy="351.8" r="5.9" stroke="#A6722A" stroke-width="2.0" stroke-opacity="0.40"/><circle cx="863.2" cy="352.9" r="5.9" stroke="#A6722A" stroke-width="2.0" stroke-opacity="0.40"/><circle cx="863.2" cy="333.2" r="5.9" stroke="#A6722A" stroke-width="2.0" stroke-opacity="0.40"/><circle cx="872.0" cy="340.0" r="5.9" stroke="#A6722A" stroke-width="2.0" stroke-opacity="0.40"/><circle cx="835.0" cy="358.0" r="5.9" stroke="#A6722A" stroke-width="2.0" stroke-opacity="0.40"/><circle cx="826.0" cy="356.0" r="5.9" stroke="#A6722A" stroke-width="2.0" stroke-opacity="0.40"/><circle cx="937.6" cy="337.6" r="5.9" stroke="#A6722A" stroke-width="2.0" stroke-opacity="0.40"/><circle cx="946.4" cy="314.6" r="5.9" stroke="#A6722A" stroke-width="2.0" stroke-opacity="0.40"/><circle cx="949.7" cy="292.7" r="5.9" stroke="#A6722A" stroke-width="2.0" stroke-opacity="0.40"/><circle cx="954.0" cy="272.0" r="5.9" stroke="#A6722A" stroke-width="2.0" stroke-opacity="0.40"/><circle cx="957.3" cy="254.4" r="5.9" stroke="#A6722A" stroke-width="2.0" stroke-opacity="0.40"/><circle cx="958.1" cy="254.0" r="5.9" stroke="#A6722A" stroke-width="2.0" stroke-opacity="0.40"/><circle cx="963.4" cy="238.2" r="5.9" stroke="#A6722A" stroke-width="2.0" stroke-opacity="0.40"/><circle cx="967.6" cy="223.4" r="5.9" stroke="#A6722A" stroke-width="2.0" stroke-opacity="0.40"/><circle cx="910.0" cy="336.0" r="5.9" stroke="#A6722A" stroke-width="2.0" stroke-opacity="0.40"/><circle cx="904.0" cy="330.0" r="5.9" stroke="#A6722A" stroke-width="2.0" stroke-opacity="0.40"/><circle cx="898.0" cy="344.0" r="5.9" stroke="#A6722A" stroke-width="2.0" stroke-opacity="0.40"/><circle cx="886.0" cy="338.0" r="5.9" stroke="#A6722A" stroke-width="2.0" stroke-opacity="0.40"/><circle cx="892.0" cy="325.0" r="5.9" stroke="#A6722A" stroke-width="2.0" stroke-opacity="0.40"/><circle cx="153.0" cy="299.0" r="5.9" stroke="#3355BB" stroke-width="2.0" stroke-opacity="0.35"/><circle cx="155.5" cy="304.0" r="5.9" stroke="#3355BB" stroke-width="2.0" stroke-opacity="0.35"/><circle cx="156.7" cy="310.4" r="5.9" stroke="#3355BB" stroke-width="2.0" stroke-opacity="0.35"/><circle cx="163.0" cy="319.2" r="5.9" stroke="#3355BB" stroke-width="2.0" stroke-opacity="0.35"/><circle cx="165.5" cy="297.8" r="5.9" stroke="#3355BB" stroke-width="2.0" stroke-opacity="0.35"/><circle cx="167.7" cy="296.0" r="5.9" stroke="#3355BB" stroke-width="2.0" stroke-opacity="0.35"/><circle cx="160.4" cy="312.8" r="5.9" stroke="#3355BB" stroke-width="2.0" stroke-opacity="0.35"/><circle cx="164.0" cy="320.0" r="5.9" stroke="#3355BB" stroke-width="2.0" stroke-opacity="0.35"/><circle cx="181.0" cy="300.8" r="5.9" stroke="#3355BB" stroke-width="2.0" stroke-opacity="0.35"/><circle cx="181.0" cy="309.2" r="5.9" stroke="#3355BB" stroke-width="2.0" stroke-opacity="0.35"/><circle cx="197.9" cy="302.0" r="5.9" stroke="#3355BB" stroke-width="2.0" stroke-opacity="0.35"/><circle cx="206.3" cy="302.0" r="5.9" stroke="#3355BB" stroke-width="2.0" stroke-opacity="0.35"/><circle cx="249.9" cy="323.0" r="5.9" stroke="#3355BB" stroke-width="2.0" stroke-opacity="0.35"/><circle cx="140.4" cy="292.8" r="5.9" stroke="#3355BB" stroke-width="2.0" stroke-opacity="0.35"/><circle cx="135.3" cy="297.8" r="5.9" stroke="#3355BB" stroke-width="2.0" stroke-opacity="0.35"/><circle cx="146.0" cy="294.0" r="5.9" stroke="#3355BB" stroke-width="2.0" stroke-opacity="0.35"/><circle cx="150.0" cy="297.0" r="5.9" stroke="#3355BB" stroke-width="2.0" stroke-opacity="0.35"/><circle cx="373.8" cy="299.6" r="5.9" stroke="#3355BB" stroke-width="2.0" stroke-opacity="0.35"/><circle cx="385.1" cy="298.0" r="5.9" stroke="#3355BB" stroke-width="2.0" stroke-opacity="0.35"/><circle cx="394.8" cy="293.2" r="5.9" stroke="#3355BB" stroke-width="2.0" stroke-opacity="0.35"/><circle cx="406.1" cy="293.2" r="5.9" stroke="#3355BB" stroke-width="2.0" stroke-opacity="0.35"/><circle cx="415.7" cy="294.8" r="5.9" stroke="#3355BB" stroke-width="2.0" stroke-opacity="0.35"/><circle cx="425.4" cy="296.4" r="5.9" stroke="#3355BB" stroke-width="2.0" stroke-opacity="0.35"/><circle cx="436.7" cy="298.0" r="5.9" stroke="#3355BB" stroke-width="2.0" stroke-opacity="0.35"/><circle cx="449.6" cy="301.2" r="5.9" stroke="#3355BB" stroke-width="2.0" stroke-opacity="0.35"/><circle cx="377.9" cy="314.1" r="5.9" stroke="#3355BB" stroke-width="2.0" stroke-opacity="0.35"/><circle cx="386.7" cy="310.9" r="5.9" stroke="#3355BB" stroke-width="2.0" stroke-opacity="0.35"/><circle cx="403.6" cy="315.7" r="5.9" stroke="#3355BB" stroke-width="2.0" stroke-opacity="0.35"/><circle cx="415.7" cy="312.5" r="5.9" stroke="#3355BB" stroke-width="2.0" stroke-opacity="0.35"/><circle cx="430.2" cy="310.9" r="5.9" stroke="#3355BB" stroke-width="2.0" stroke-opacity="0.35"/><circle cx="438.3" cy="312.5" r="5.9" stroke="#3355BB" stroke-width="2.0" stroke-opacity="0.35"/><circle cx="456.0" cy="314.1" r="5.9" stroke="#3355BB" stroke-width="2.0" stroke-opacity="0.35"/><circle cx="464.1" cy="338.3" r="5.9" stroke="#3355BB" stroke-width="2.0" stroke-opacity="0.35"/><circle cx="477.0" cy="317.3" r="5.9" stroke="#3355BB" stroke-width="2.0" stroke-opacity="0.35"/><circle cx="372.8" cy="294.0" r="5.9" stroke="#3355BB" stroke-width="2.0" stroke-opacity="0.35"/><circle cx="382.9" cy="306.0" r="5.9" stroke="#3355BB" stroke-width="2.0" stroke-opacity="0.35"/><circle cx="395.5" cy="300.0" r="5.9" stroke="#3355BB" stroke-width="2.0" stroke-opacity="0.35"/><circle cx="433.5" cy="256.0" r="5.9" stroke="#3355BB" stroke-width="2.0" stroke-opacity="0.35"/><circle cx="440.0" cy="244.8" r="5.9" stroke="#3355BB" stroke-width="2.0" stroke-opacity="0.35"/><circle cx="446.3" cy="244.8" r="5.9" stroke="#3355BB" stroke-width="2.0" stroke-opacity="0.35"/><circle cx="430.2" cy="265.8" r="5.9" stroke="#3355BB" stroke-width="2.0" stroke-opacity="0.35"/><circle cx="452.8" cy="254.5" r="5.9" stroke="#3355BB" stroke-width="2.0" stroke-opacity="0.35"/><circle cx="460.9" cy="264.2" r="5.9" stroke="#3355BB" stroke-width="2.0" stroke-opacity="0.35"/><circle cx="472.1" cy="273.8" r="5.9" stroke="#3355BB" stroke-width="2.0" stroke-opacity="0.35"/><circle cx="477.0" cy="261.0" r="5.9" stroke="#3355BB" stroke-width="2.0" stroke-opacity="0.35"/><circle cx="494.7" cy="286.7" r="5.9" stroke="#3355BB" stroke-width="2.0" stroke-opacity="0.35"/><circle cx="491.5" cy="302.8" r="5.9" stroke="#3355BB" stroke-width="2.0" stroke-opacity="0.35"/><circle cx="498.7" cy="272.2" r="5.9" stroke="#3355BB" stroke-width="2.0" stroke-opacity="0.35"/><circle cx="425.7" cy="280.2" r="5.9" stroke="#3355BB" stroke-width="2.0" stroke-opacity="0.35"/><circle cx="433.2" cy="265.1" r="5.9" stroke="#3355BB" stroke-width="2.0" stroke-opacity="0.35"/><circle cx="435.7" cy="290.0" r="5.9" stroke="#3355BB" stroke-width="2.0" stroke-opacity="0.35"/><circle cx="448.3" cy="290.0" r="5.9" stroke="#3355BB" stroke-width="2.0" stroke-opacity="0.35"/><circle cx="460.9" cy="287.8" r="5.9" stroke="#3355BB" stroke-width="2.0" stroke-opacity="0.35"/><circle cx="471.0" cy="282.0" r="5.9" stroke="#3355BB" stroke-width="2.0" stroke-opacity="0.35"/><circle cx="489.9" cy="295.0" r="5.9" stroke="#3355BB" stroke-width="2.0" stroke-opacity="0.35"/><circle cx="586.2" cy="320.5" r="5.9" stroke="#3355BB" stroke-width="2.0" stroke-opacity="0.35"/><circle cx="594.2" cy="330.6" r="5.9" stroke="#3355BB" stroke-width="2.0" stroke-opacity="0.35"/><circle cx="610.4" cy="325.5" r="5.9" stroke="#3355BB" stroke-width="2.0" stroke-opacity="0.35"/><circle cx="614.4" cy="306.4" r="5.9" stroke="#3355BB" stroke-width="2.0" stroke-opacity="0.35"/><circle cx="610.4" cy="291.3" r="5.9" stroke="#3355BB" stroke-width="2.0" stroke-opacity="0.35"/><circle cx="627.5" cy="302.4" r="5.9" stroke="#3355BB" stroke-width="2.0" stroke-opacity="0.35"/><circle cx="660.7" cy="292.3" r="5.9" stroke="#3355BB" stroke-width="2.0" stroke-opacity="0.35"/><circle cx="679.8" cy="309.4" r="5.9" stroke="#3355BB" stroke-width="2.0" stroke-opacity="0.35"/><circle cx="699.0" cy="314.5" r="5.9" stroke="#3355BB" stroke-width="2.0" stroke-opacity="0.35"/><circle cx="699.0" cy="330.6" r="5.9" stroke="#3355BB" stroke-width="2.0" stroke-opacity="0.35"/><circle cx="711.0" cy="314.5" r="5.9" stroke="#3355BB" stroke-width="2.0" stroke-opacity="0.35"/><circle cx="713.0" cy="334.6" r="5.9" stroke="#3355BB" stroke-width="2.0" stroke-opacity="0.35"/><circle cx="600.0" cy="312.0" r="5.9" stroke="#3355BB" stroke-width="2.0" stroke-opacity="0.35"/><circle cx="590.0" cy="305.0" r="5.9" stroke="#3355BB" stroke-width="2.0" stroke-opacity="0.35"/><circle cx="605.0" cy="318.0" r="5.9" stroke="#3355BB" stroke-width="2.0" stroke-opacity="0.35"/><circle cx="620.0" cy="312.0" r="5.9" stroke="#3355BB" stroke-width="2.0" stroke-opacity="0.35"/><circle cx="580.0" cy="298.0" r="5.9" stroke="#3355BB" stroke-width="2.0" stroke-opacity="0.35"/><circle cx="575.0" cy="310.0" r="5.9" stroke="#3355BB" stroke-width="2.0" stroke-opacity="0.35"/><circle cx="917.0" cy="343.7" r="5.9" stroke="#3355BB" stroke-width="2.0" stroke-opacity="0.35"/><circle cx="927.5" cy="356.4" r="5.9" stroke="#3355BB" stroke-width="2.0" stroke-opacity="0.35"/><circle cx="940.2" cy="367.0" r="5.9" stroke="#3355BB" stroke-width="2.0" stroke-opacity="0.35"/><circle cx="929.6" cy="329.0" r="5.9" stroke="#3355BB" stroke-width="2.0" stroke-opacity="0.35"/><circle cx="938.0" cy="337.4" r="5.9" stroke="#3355BB" stroke-width="2.0" stroke-opacity="0.35"/><circle cx="922.0" cy="350.0" r="5.9" stroke="#3355BB" stroke-width="2.0" stroke-opacity="0.35"/><circle cx="933.0" cy="362.0" r="5.9" stroke="#3355BB" stroke-width="2.0" stroke-opacity="0.35"/><circle cx="912.0" cy="338.0" r="5.9" stroke="#3355BB" stroke-width="2.0" stroke-opacity="0.35"/><circle cx="428.2" cy="269.0" r="5.9" stroke="#3355BB" stroke-width="2.0" stroke-opacity="0.38"/><circle cx="432.6" cy="257.8" r="5.9" stroke="#3355BB" stroke-width="2.0" stroke-opacity="0.38"/><circle cx="437.0" cy="248.3" r="5.9" stroke="#3355BB" stroke-width="2.0" stroke-opacity="0.38"/><circle cx="441.3" cy="236.0" r="5.9" stroke="#3355BB" stroke-width="2.0" stroke-opacity="0.38"/><circle cx="445.8" cy="226.5" r="5.9" stroke="#3355BB" stroke-width="2.0" stroke-opacity="0.38"/><circle cx="450.1" cy="218.1" r="5.9" stroke="#3355BB" stroke-width="2.0" stroke-opacity="0.38"/><circle cx="454.6" cy="210.3" r="5.9" stroke="#3355BB" stroke-width="2.0" stroke-opacity="0.38"/><circle cx="459.0" cy="202.4" r="5.9" stroke="#3355BB" stroke-width="2.0" stroke-opacity="0.38"/><circle cx="463.4" cy="197.0" r="5.9" stroke="#3355BB" stroke-width="2.0" stroke-opacity="0.38"/><circle cx="467.8" cy="192.2" r="5.9" stroke="#3355BB" stroke-width="2.0" stroke-opacity="0.38"/><circle cx="472.2" cy="188.2" r="5.9" stroke="#3355BB" stroke-width="2.0" stroke-opacity="0.38"/><circle cx="476.7" cy="185.0" r="5.9" stroke="#3355BB" stroke-width="2.0" stroke-opacity="0.38"/><circle cx="481.4" cy="182.1" r="5.9" stroke="#3355BB" stroke-width="2.0" stroke-opacity="0.38"/><circle cx="485.9" cy="179.9" r="5.9" stroke="#3355BB" stroke-width="2.0" stroke-opacity="0.38"/><circle cx="490.6" cy="178.2" r="5.9" stroke="#3355BB" stroke-width="2.0" stroke-opacity="0.38"/><circle cx="495.0" cy="177.2" r="5.9" stroke="#3355BB" stroke-width="2.0" stroke-opacity="0.38"/><circle cx="499.4" cy="176.9" r="5.9" stroke="#3355BB" stroke-width="2.0" stroke-opacity="0.38"/><circle cx="503.9" cy="177.5" r="5.9" stroke="#3355BB" stroke-width="2.0" stroke-opacity="0.38"/><circle cx="508.5" cy="179.4" r="5.9" stroke="#3355BB" stroke-width="2.0" stroke-opacity="0.38"/><circle cx="513.0" cy="183.3" r="5.9" stroke="#3355BB" stroke-width="2.0" stroke-opacity="0.38"/><circle cx="517.4" cy="188.7" r="5.9" stroke="#3355BB" stroke-width="2.0" stroke-opacity="0.38"/><circle cx="521.7" cy="194.9" r="5.9" stroke="#3355BB" stroke-width="2.0" stroke-opacity="0.38"/><circle cx="526.1" cy="201.5" r="5.9" stroke="#3355BB" stroke-width="2.0" stroke-opacity="0.38"/><circle cx="530.5" cy="208.3" r="5.9" stroke="#3355BB" stroke-width="2.0" stroke-opacity="0.38"/><circle cx="534.8" cy="215.0" r="5.9" stroke="#3355BB" stroke-width="2.0" stroke-opacity="0.38"/><circle cx="539.2" cy="222.3" r="5.9" stroke="#3355BB" stroke-width="2.0" stroke-opacity="0.38"/><circle cx="543.7" cy="230.1" r="5.9" stroke="#3355BB" stroke-width="2.0" stroke-opacity="0.38"/><circle cx="548.1" cy="237.9" r="5.9" stroke="#3355BB" stroke-width="2.0" stroke-opacity="0.38"/><circle cx="552.6" cy="245.7" r="5.9" stroke="#3355BB" stroke-width="2.0" stroke-opacity="0.38"/><circle cx="557.0" cy="253.0" r="5.9" stroke="#3355BB" stroke-width="2.0" stroke-opacity="0.38"/><circle cx="561.4" cy="260.8" r="5.9" stroke="#3355BB" stroke-width="2.0" stroke-opacity="0.38"/><circle cx="565.9" cy="270.3" r="5.9" stroke="#3355BB" stroke-width="2.0" stroke-opacity="0.38"/><circle cx="570.2" cy="280.4" r="5.9" stroke="#3355BB" stroke-width="2.0" stroke-opacity="0.38"/><circle cx="574.6" cy="289.4" r="5.9" stroke="#3355BB" stroke-width="2.0" stroke-opacity="0.38"/><circle cx="435.2" cy="270.2" r="5.9" stroke="#3355BB" stroke-width="2.0" stroke-opacity="0.38"/><circle cx="439.7" cy="259.6" r="5.9" stroke="#3355BB" stroke-width="2.0" stroke-opacity="0.38"/><circle cx="444.0" cy="250.1" r="5.9" stroke="#3355BB" stroke-width="2.0" stroke-opacity="0.38"/><circle cx="448.4" cy="238.4" r="5.9" stroke="#3355BB" stroke-width="2.0" stroke-opacity="0.38"/><circle cx="452.9" cy="228.9" r="5.9" stroke="#3355BB" stroke-width="2.0" stroke-opacity="0.38"/><circle cx="457.4" cy="220.5" r="5.9" stroke="#3355BB" stroke-width="2.0" stroke-opacity="0.38"/><circle cx="461.9" cy="212.7" r="5.9" stroke="#3355BB" stroke-width="2.0" stroke-opacity="0.38"/><circle cx="466.3" cy="206.0" r="5.9" stroke="#3355BB" stroke-width="2.0" stroke-opacity="0.38"/><circle cx="470.8" cy="200.7" r="5.9" stroke="#3355BB" stroke-width="2.0" stroke-opacity="0.38"/><circle cx="475.3" cy="196.0" r="5.9" stroke="#3355BB" stroke-width="2.0" stroke-opacity="0.38"/><circle cx="479.7" cy="192.7" r="5.9" stroke="#3355BB" stroke-width="2.0" stroke-opacity="0.38"/><circle cx="484.3" cy="189.7" r="5.9" stroke="#3355BB" stroke-width="2.0" stroke-opacity="0.38"/><circle cx="488.8" cy="187.5" r="5.9" stroke="#3355BB" stroke-width="2.0" stroke-opacity="0.38"/><circle cx="493.5" cy="185.9" r="5.9" stroke="#3355BB" stroke-width="2.0" stroke-opacity="0.38"/><circle cx="498.0" cy="185.2" r="5.9" stroke="#3355BB" stroke-width="2.0" stroke-opacity="0.38"/><circle cx="502.4" cy="185.3" r="5.9" stroke="#3355BB" stroke-width="2.0" stroke-opacity="0.38"/><circle cx="506.8" cy="186.4" r="5.9" stroke="#3355BB" stroke-width="2.0" stroke-opacity="0.38"/><circle cx="511.2" cy="188.7" r="5.9" stroke="#3355BB" stroke-width="2.0" stroke-opacity="0.38"/><circle cx="515.8" cy="193.3" r="5.9" stroke="#3355BB" stroke-width="2.0" stroke-opacity="0.38"/><circle cx="520.4" cy="199.2" r="5.9" stroke="#3355BB" stroke-width="2.0" stroke-opacity="0.38"/><circle cx="524.7" cy="205.4" r="5.9" stroke="#3355BB" stroke-width="2.0" stroke-opacity="0.38"/><circle cx="529.2" cy="212.0" r="5.9" stroke="#3355BB" stroke-width="2.0" stroke-opacity="0.38"/><circle cx="533.7" cy="218.6" r="5.9" stroke="#3355BB" stroke-width="2.0" stroke-opacity="0.38"/><circle cx="538.0" cy="225.3" r="5.9" stroke="#3355BB" stroke-width="2.0" stroke-opacity="0.38"/><circle cx="542.4" cy="232.6" r="5.9" stroke="#3355BB" stroke-width="2.0" stroke-opacity="0.38"/><circle cx="546.9" cy="240.4" r="5.9" stroke="#3355BB" stroke-width="2.0" stroke-opacity="0.38"/><circle cx="551.4" cy="248.2" r="5.9" stroke="#3355BB" stroke-width="2.0" stroke-opacity="0.38"/><circle cx="555.8" cy="255.4" r="5.9" stroke="#3355BB" stroke-width="2.0" stroke-opacity="0.38"/><circle cx="560.3" cy="263.2" r="5.9" stroke="#3355BB" stroke-width="2.0" stroke-opacity="0.38"/><circle cx="564.8" cy="272.2" r="5.9" stroke="#3355BB" stroke-width="2.0" stroke-opacity="0.38"/><circle cx="569.2" cy="281.7" r="5.9" stroke="#3355BB" stroke-width="2.0" stroke-opacity="0.38"/><circle cx="573.7" cy="290.7" r="5.9" stroke="#3355BB" stroke-width="2.0" stroke-opacity="0.38"/><circle cx="441.8" cy="273.6" r="5.9" stroke="#3355BB" stroke-width="2.0" stroke-opacity="0.38"/><circle cx="446.3" cy="262.5" r="5.9" stroke="#3355BB" stroke-width="2.0" stroke-opacity="0.38"/><circle cx="450.6" cy="253.5" r="5.9" stroke="#3355BB" stroke-width="2.0" stroke-opacity="0.38"/><circle cx="455.0" cy="242.3" r="5.9" stroke="#3355BB" stroke-width="2.0" stroke-opacity="0.38"/><circle cx="459.4" cy="232.7" r="5.9" stroke="#3355BB" stroke-width="2.0" stroke-opacity="0.38"/><circle cx="463.7" cy="224.9" r="5.9" stroke="#3355BB" stroke-width="2.0" stroke-opacity="0.38"/><circle cx="468.1" cy="217.6" r="5.9" stroke="#3355BB" stroke-width="2.0" stroke-opacity="0.38"/><circle cx="472.7" cy="211.1" r="5.9" stroke="#3355BB" stroke-width="2.0" stroke-opacity="0.38"/><circle cx="477.2" cy="205.7" r="5.9" stroke="#3355BB" stroke-width="2.0" stroke-opacity="0.38"/><circle cx="481.9" cy="201.2" r="5.9" stroke="#3355BB" stroke-width="2.0" stroke-opacity="0.38"/><circle cx="486.4" cy="198.0" r="5.9" stroke="#3355BB" stroke-width="2.0" stroke-opacity="0.38"/><circle cx="490.7" cy="195.6" r="5.9" stroke="#3355BB" stroke-width="2.0" stroke-opacity="0.38"/><circle cx="495.5" cy="194.0" r="5.9" stroke="#3355BB" stroke-width="2.0" stroke-opacity="0.38"/><circle cx="499.9" cy="193.4" r="5.9" stroke="#3355BB" stroke-width="2.0" stroke-opacity="0.38"/><circle cx="504.4" cy="193.7" r="5.9" stroke="#3355BB" stroke-width="2.0" stroke-opacity="0.38"/><circle cx="509.2" cy="195.2" r="5.9" stroke="#3355BB" stroke-width="2.0" stroke-opacity="0.38"/><circle cx="513.7" cy="198.2" r="5.9" stroke="#3355BB" stroke-width="2.0" stroke-opacity="0.38"/><circle cx="518.2" cy="203.0" r="5.9" stroke="#3355BB" stroke-width="2.0" stroke-opacity="0.38"/><circle cx="522.7" cy="208.9" r="5.9" stroke="#3355BB" stroke-width="2.0" stroke-opacity="0.38"/><circle cx="527.1" cy="215.0" r="5.9" stroke="#3355BB" stroke-width="2.0" stroke-opacity="0.38"/><circle cx="531.5" cy="221.1" r="5.9" stroke="#3355BB" stroke-width="2.0" stroke-opacity="0.38"/><circle cx="535.8" cy="227.3" r="5.9" stroke="#3355BB" stroke-width="2.0" stroke-opacity="0.38"/><circle cx="540.2" cy="233.9" r="5.9" stroke="#3355BB" stroke-width="2.0" stroke-opacity="0.38"/><circle cx="544.7" cy="241.1" r="5.9" stroke="#3355BB" stroke-width="2.0" stroke-opacity="0.38"/><circle cx="549.2" cy="248.9" r="5.9" stroke="#3355BB" stroke-width="2.0" stroke-opacity="0.38"/><circle cx="553.5" cy="256.2" r="5.9" stroke="#3355BB" stroke-width="2.0" stroke-opacity="0.38"/><circle cx="557.9" cy="263.5" r="5.9" stroke="#3355BB" stroke-width="2.0" stroke-opacity="0.38"/><circle cx="562.3" cy="271.4" r="5.9" stroke="#3355BB" stroke-width="2.0" stroke-opacity="0.38"/><circle cx="566.7" cy="280.4" r="5.9" stroke="#3355BB" stroke-width="2.0" stroke-opacity="0.38"/><circle cx="571.2" cy="289.3" r="5.9" stroke="#3355BB" stroke-width="2.0" stroke-opacity="0.38"/><circle cx="449.0" cy="276.1" r="5.9" stroke="#3355BB" stroke-width="2.0" stroke-opacity="0.38"/><circle cx="453.4" cy="265.0" r="5.9" stroke="#3355BB" stroke-width="2.0" stroke-opacity="0.38"/><circle cx="457.9" cy="256.0" r="5.9" stroke="#3355BB" stroke-width="2.0" stroke-opacity="0.38"/><circle cx="462.3" cy="245.4" r="5.9" stroke="#3355BB" stroke-width="2.0" stroke-opacity="0.38"/><circle cx="466.8" cy="235.4" r="5.9" stroke="#3355BB" stroke-width="2.0" stroke-opacity="0.38"/><circle cx="471.2" cy="228.1" r="5.9" stroke="#3355BB" stroke-width="2.0" stroke-opacity="0.38"/><circle cx="475.8" cy="221.0" r="5.9" stroke="#3355BB" stroke-width="2.0" stroke-opacity="0.38"/><circle cx="480.3" cy="215.0" r="5.9" stroke="#3355BB" stroke-width="2.0" stroke-opacity="0.38"/><circle cx="484.9" cy="209.7" r="5.9" stroke="#3355BB" stroke-width="2.0" stroke-opacity="0.38"/><circle cx="489.6" cy="206.0" r="5.9" stroke="#3355BB" stroke-width="2.0" stroke-opacity="0.38"/><circle cx="494.0" cy="203.5" r="5.9" stroke="#3355BB" stroke-width="2.0" stroke-opacity="0.38"/><circle cx="498.7" cy="202.0" r="5.9" stroke="#3355BB" stroke-width="2.0" stroke-opacity="0.38"/><circle cx="503.2" cy="201.8" r="5.9" stroke="#3355BB" stroke-width="2.0" stroke-opacity="0.38"/><circle cx="507.6" cy="202.7" r="5.9" stroke="#3355BB" stroke-width="2.0" stroke-opacity="0.38"/><circle cx="512.1" cy="204.8" r="5.9" stroke="#3355BB" stroke-width="2.0" stroke-opacity="0.38"/><circle cx="516.7" cy="208.6" r="5.9" stroke="#3355BB" stroke-width="2.0" stroke-opacity="0.38"/><circle cx="521.3" cy="213.9" r="5.9" stroke="#3355BB" stroke-width="2.0" stroke-opacity="0.38"/><circle cx="525.9" cy="219.8" r="5.9" stroke="#3355BB" stroke-width="2.0" stroke-opacity="0.38"/><circle cx="530.4" cy="225.8" r="5.9" stroke="#3355BB" stroke-width="2.0" stroke-opacity="0.38"/><circle cx="534.9" cy="231.8" r="5.9" stroke="#3355BB" stroke-width="2.0" stroke-opacity="0.38"/><circle cx="539.3" cy="237.9" r="5.9" stroke="#3355BB" stroke-width="2.0" stroke-opacity="0.38"/><circle cx="543.7" cy="244.5" r="5.9" stroke="#3355BB" stroke-width="2.0" stroke-opacity="0.38"/><circle cx="548.1" cy="251.8" r="5.9" stroke="#3355BB" stroke-width="2.0" stroke-opacity="0.38"/><circle cx="552.4" cy="259.1" r="5.9" stroke="#3355BB" stroke-width="2.0" stroke-opacity="0.38"/><circle cx="556.8" cy="266.4" r="5.9" stroke="#3355BB" stroke-width="2.0" stroke-opacity="0.38"/><circle cx="561.3" cy="274.2" r="5.9" stroke="#3355BB" stroke-width="2.0" stroke-opacity="0.38"/><circle cx="565.8" cy="282.6" r="5.9" stroke="#3355BB" stroke-width="2.0" stroke-opacity="0.38"/><circle cx="570.1" cy="290.5" r="5.9" stroke="#3355BB" stroke-width="2.0" stroke-opacity="0.38"/><circle cx="453.8" cy="276.5" r="5.9" stroke="#3355BB" stroke-width="2.0" stroke-opacity="0.38"/><circle cx="458.3" cy="266.0" r="5.9" stroke="#3355BB" stroke-width="2.0" stroke-opacity="0.38"/><circle cx="462.6" cy="257.5" r="5.9" stroke="#3355BB" stroke-width="2.0" stroke-opacity="0.38"/><circle cx="467.0" cy="246.9" r="5.9" stroke="#3355BB" stroke-width="2.0" stroke-opacity="0.38"/><circle cx="471.5" cy="237.4" r="5.9" stroke="#3355BB" stroke-width="2.0" stroke-opacity="0.38"/><circle cx="475.8" cy="230.6" r="5.9" stroke="#3355BB" stroke-width="2.0" stroke-opacity="0.38"/><circle cx="480.2" cy="224.0" r="5.9" stroke="#3355BB" stroke-width="2.0" stroke-opacity="0.38"/><circle cx="484.7" cy="218.0" r="5.9" stroke="#3355BB" stroke-width="2.0" stroke-opacity="0.38"/><circle cx="489.1" cy="213.2" r="5.9" stroke="#3355BB" stroke-width="2.0" stroke-opacity="0.38"/><circle cx="493.5" cy="209.9" r="5.9" stroke="#3355BB" stroke-width="2.0" stroke-opacity="0.38"/><circle cx="498.0" cy="207.8" r="5.9" stroke="#3355BB" stroke-width="2.0" stroke-opacity="0.38"/><circle cx="502.4" cy="206.9" r="5.9" stroke="#3355BB" stroke-width="2.0" stroke-opacity="0.38"/><circle cx="506.8" cy="207.4" r="5.9" stroke="#3355BB" stroke-width="2.0" stroke-opacity="0.38"/><circle cx="511.4" cy="209.3" r="5.9" stroke="#3355BB" stroke-width="2.0" stroke-opacity="0.38"/><circle cx="515.9" cy="212.5" r="5.9" stroke="#3355BB" stroke-width="2.0" stroke-opacity="0.38"/><circle cx="520.3" cy="217.2" r="5.9" stroke="#3355BB" stroke-width="2.0" stroke-opacity="0.38"/><circle cx="524.7" cy="222.7" r="5.9" stroke="#3355BB" stroke-width="2.0" stroke-opacity="0.38"/><circle cx="529.0" cy="228.2" r="5.9" stroke="#3355BB" stroke-width="2.0" stroke-opacity="0.38"/><circle cx="533.3" cy="233.7" r="5.9" stroke="#3355BB" stroke-width="2.0" stroke-opacity="0.38"/><circle cx="537.9" cy="239.6" r="5.9" stroke="#3355BB" stroke-width="2.0" stroke-opacity="0.38"/><circle cx="542.3" cy="245.7" r="5.9" stroke="#3355BB" stroke-width="2.0" stroke-opacity="0.38"/><circle cx="546.7" cy="252.4" r="5.9" stroke="#3355BB" stroke-width="2.0" stroke-opacity="0.38"/><circle cx="551.0" cy="259.7" r="5.9" stroke="#3355BB" stroke-width="2.0" stroke-opacity="0.38"/><circle cx="555.4" cy="267.0" r="5.9" stroke="#3355BB" stroke-width="2.0" stroke-opacity="0.38"/><circle cx="559.7" cy="274.3" r="5.9" stroke="#3355BB" stroke-width="2.0" stroke-opacity="0.38"/><circle cx="564.1" cy="282.2" r="5.9" stroke="#3355BB" stroke-width="2.0" stroke-opacity="0.38"/><circle cx="568.6" cy="290.0" r="5.9" stroke="#3355BB" stroke-width="2.0" stroke-opacity="0.38"/><circle cx="573.1" cy="297.2" r="5.9" stroke="#3355BB" stroke-width="2.0" stroke-opacity="0.38"/><circle cx="462.8" cy="279.7" r="5.9" stroke="#3355BB" stroke-width="2.0" stroke-opacity="0.38"/><circle cx="467.1" cy="269.6" r="5.9" stroke="#3355BB" stroke-width="2.0" stroke-opacity="0.38"/><circle cx="471.6" cy="261.8" r="5.9" stroke="#3355BB" stroke-width="2.0" stroke-opacity="0.38"/><circle cx="475.9" cy="251.1" r="5.9" stroke="#3355BB" stroke-width="2.0" stroke-opacity="0.38"/><circle cx="480.4" cy="242.2" r="5.9" stroke="#3355BB" stroke-width="2.0" stroke-opacity="0.38"/><circle cx="484.7" cy="236.1" r="5.9" stroke="#3355BB" stroke-width="2.0" stroke-opacity="0.38"/><circle cx="489.2" cy="229.5" r="5.9" stroke="#3355BB" stroke-width="2.0" stroke-opacity="0.38"/><circle cx="493.7" cy="223.5" r="5.9" stroke="#3355BB" stroke-width="2.0" stroke-opacity="0.38"/><circle cx="498.2" cy="219.5" r="5.9" stroke="#3355BB" stroke-width="2.0" stroke-opacity="0.38"/><circle cx="502.7" cy="217.5" r="5.9" stroke="#3355BB" stroke-width="2.0" stroke-opacity="0.38"/><circle cx="507.2" cy="217.0" r="5.9" stroke="#3355BB" stroke-width="2.0" stroke-opacity="0.38"/><circle cx="511.9" cy="218.7" r="5.9" stroke="#3355BB" stroke-width="2.0" stroke-opacity="0.38"/><circle cx="516.2" cy="222.0" r="5.9" stroke="#3355BB" stroke-width="2.0" stroke-opacity="0.38"/><circle cx="520.7" cy="226.7" r="5.9" stroke="#3355BB" stroke-width="2.0" stroke-opacity="0.38"/><circle cx="525.2" cy="232.1" r="5.9" stroke="#3355BB" stroke-width="2.0" stroke-opacity="0.38"/><circle cx="529.7" cy="237.4" r="5.9" stroke="#3355BB" stroke-width="2.0" stroke-opacity="0.38"/><circle cx="534.3" cy="242.7" r="5.9" stroke="#3355BB" stroke-width="2.0" stroke-opacity="0.38"/><circle cx="538.8" cy="248.1" r="5.9" stroke="#3355BB" stroke-width="2.0" stroke-opacity="0.38"/><circle cx="543.1" cy="253.6" r="5.9" stroke="#3355BB" stroke-width="2.0" stroke-opacity="0.38"/><circle cx="547.6" cy="260.2" r="5.9" stroke="#3355BB" stroke-width="2.0" stroke-opacity="0.38"/><circle cx="552.0" cy="267.5" r="5.9" stroke="#3355BB" stroke-width="2.0" stroke-opacity="0.38"/><circle cx="556.4" cy="274.8" r="5.9" stroke="#3355BB" stroke-width="2.0" stroke-opacity="0.38"/><circle cx="560.8" cy="282.0" r="5.9" stroke="#3355BB" stroke-width="2.0" stroke-opacity="0.38"/><circle cx="565.3" cy="289.2" r="5.9" stroke="#3355BB" stroke-width="2.0" stroke-opacity="0.38"/><circle cx="569.8" cy="295.9" r="5.9" stroke="#3355BB" stroke-width="2.0" stroke-opacity="0.38"/><circle cx="469.7" cy="280.7" r="5.9" stroke="#3355BB" stroke-width="2.0" stroke-opacity="0.38"/><circle cx="474.2" cy="271.3" r="5.9" stroke="#3355BB" stroke-width="2.0" stroke-opacity="0.38"/><circle cx="478.6" cy="264.0" r="5.9" stroke="#3355BB" stroke-width="2.0" stroke-opacity="0.38"/><circle cx="483.1" cy="252.3" r="5.9" stroke="#3355BB" stroke-width="2.0" stroke-opacity="0.38"/><circle cx="487.5" cy="245.1" r="5.9" stroke="#3355BB" stroke-width="2.0" stroke-opacity="0.38"/><circle cx="492.0" cy="239.1" r="5.9" stroke="#3355BB" stroke-width="2.0" stroke-opacity="0.38"/><circle cx="496.4" cy="232.4" r="5.9" stroke="#3355BB" stroke-width="2.0" stroke-opacity="0.38"/><circle cx="501.0" cy="227.2" r="5.9" stroke="#3355BB" stroke-width="2.0" stroke-opacity="0.38"/><circle cx="505.3" cy="224.8" r="5.9" stroke="#3355BB" stroke-width="2.0" stroke-opacity="0.38"/><circle cx="509.8" cy="224.3" r="5.9" stroke="#3355BB" stroke-width="2.0" stroke-opacity="0.38"/><circle cx="514.3" cy="226.3" r="5.9" stroke="#3355BB" stroke-width="2.0" stroke-opacity="0.38"/><circle cx="518.8" cy="230.9" r="5.9" stroke="#3355BB" stroke-width="2.0" stroke-opacity="0.38"/><circle cx="523.3" cy="236.3" r="5.9" stroke="#3355BB" stroke-width="2.0" stroke-opacity="0.38"/><circle cx="527.9" cy="241.6" r="5.9" stroke="#3355BB" stroke-width="2.0" stroke-opacity="0.38"/><circle cx="532.2" cy="246.4" r="5.9" stroke="#3355BB" stroke-width="2.0" stroke-opacity="0.38"/><circle cx="536.6" cy="251.2" r="5.9" stroke="#3355BB" stroke-width="2.0" stroke-opacity="0.38"/><circle cx="541.0" cy="256.0" r="5.9" stroke="#3355BB" stroke-width="2.0" stroke-opacity="0.38"/><circle cx="545.4" cy="261.5" r="5.9" stroke="#3355BB" stroke-width="2.0" stroke-opacity="0.38"/><circle cx="549.8" cy="268.1" r="5.9" stroke="#3355BB" stroke-width="2.0" stroke-opacity="0.38"/><circle cx="554.2" cy="275.4" r="5.9" stroke="#3355BB" stroke-width="2.0" stroke-opacity="0.38"/><circle cx="558.6" cy="282.7" r="5.9" stroke="#3355BB" stroke-width="2.0" stroke-opacity="0.38"/><circle cx="563.0" cy="289.3" r="5.9" stroke="#3355BB" stroke-width="2.0" stroke-opacity="0.38"/><circle cx="567.4" cy="295.4" r="5.9" stroke="#3355BB" stroke-width="2.0" stroke-opacity="0.38"/><circle cx="485.8" cy="203.1" r="5.9" stroke="#3355BB" stroke-width="2.0" stroke-opacity="0.38"/><circle cx="490.3" cy="197.4" r="5.9" stroke="#3355BB" stroke-width="2.0" stroke-opacity="0.38"/><circle cx="494.0" cy="197.5" r="5.9" stroke="#3355BB" stroke-width="2.0" stroke-opacity="0.38"/><circle cx="497.4" cy="197.4" r="5.9" stroke="#3355BB" stroke-width="2.0" stroke-opacity="0.38"/><circle cx="501.2" cy="197.8" r="5.9" stroke="#3355BB" stroke-width="2.0" stroke-opacity="0.38"/><circle cx="503.8" cy="197.3" r="5.9" stroke="#3355BB" stroke-width="2.0" stroke-opacity="0.38"/><circle cx="505.4" cy="198.1" r="5.9" stroke="#3355BB" stroke-width="2.0" stroke-opacity="0.38"/><circle cx="510.7" cy="200.0" r="5.9" stroke="#3355BB" stroke-width="2.0" stroke-opacity="0.38"/><circle cx="514.1" cy="200.8" r="5.9" stroke="#3355BB" stroke-width="2.0" stroke-opacity="0.38"/><circle cx="517.5" cy="203.9" r="5.9" stroke="#3355BB" stroke-width="2.0" stroke-opacity="0.38"/><circle cx="519.8" cy="209.2" r="5.9" stroke="#3355BB" stroke-width="2.0" stroke-opacity="0.38"/><circle cx="522.9" cy="209.7" r="5.9" stroke="#3355BB" stroke-width="2.0" stroke-opacity="0.38"/><circle cx="524.8" cy="215.2" r="5.9" stroke="#3355BB" stroke-width="2.0" stroke-opacity="0.38"/><circle cx="529.2" cy="220.4" r="5.9" stroke="#3355BB" stroke-width="2.0" stroke-opacity="0.38"/><circle cx="531.3" cy="224.8" r="5.9" stroke="#3355BB" stroke-width="2.0" stroke-opacity="0.38"/><circle cx="537.1" cy="230.1" r="5.9" stroke="#3355BB" stroke-width="2.0" stroke-opacity="0.38"/><circle cx="539.5" cy="233.7" r="5.9" stroke="#3355BB" stroke-width="2.0" stroke-opacity="0.38"/><circle cx="543.1" cy="236.6" r="5.9" stroke="#3355BB" stroke-width="2.0" stroke-opacity="0.38"/><circle cx="545.9" cy="244.2" r="5.9" stroke="#3355BB" stroke-width="2.0" stroke-opacity="0.38"/><circle cx="547.7" cy="248.5" r="5.9" stroke="#3355BB" stroke-width="2.0" stroke-opacity="0.38"/><circle cx="550.1" cy="251.7" r="5.9" stroke="#3355BB" stroke-width="2.0" stroke-opacity="0.38"/><circle cx="553.7" cy="258.2" r="5.9" stroke="#3355BB" stroke-width="2.0" stroke-opacity="0.38"/><circle cx="557.3" cy="263.4" r="5.9" stroke="#3355BB" stroke-width="2.0" stroke-opacity="0.38"/><circle cx="561.7" cy="268.2" r="5.9" stroke="#3355BB" stroke-width="2.0" stroke-opacity="0.38"/><circle cx="564.5" cy="275.6" r="5.9" stroke="#3355BB" stroke-width="2.0" stroke-opacity="0.38"/><circle cx="565.9" cy="283.1" r="5.9" stroke="#3355BB" stroke-width="2.0" stroke-opacity="0.38"/><circle cx="570.1" cy="286.2" r="5.9" stroke="#3355BB" stroke-width="2.0" stroke-opacity="0.38"/><circle cx="574.2" cy="292.6" r="5.9" stroke="#3355BB" stroke-width="2.0" stroke-opacity="0.38"/><circle cx="490.4" cy="208.3" r="5.9" stroke="#3355BB" stroke-width="2.0" stroke-opacity="0.38"/><circle cx="494.0" cy="206.6" r="5.9" stroke="#3355BB" stroke-width="2.0" stroke-opacity="0.38"/><circle cx="497.4" cy="202.7" r="5.9" stroke="#3355BB" stroke-width="2.0" stroke-opacity="0.38"/><circle cx="500.1" cy="203.1" r="5.9" stroke="#3355BB" stroke-width="2.0" stroke-opacity="0.38"/><circle cx="502.3" cy="202.7" r="5.9" stroke="#3355BB" stroke-width="2.0" stroke-opacity="0.38"/><circle cx="507.7" cy="203.4" r="5.9" stroke="#3355BB" stroke-width="2.0" stroke-opacity="0.38"/><circle cx="509.8" cy="204.8" r="5.9" stroke="#3355BB" stroke-width="2.0" stroke-opacity="0.38"/><circle cx="513.4" cy="207.7" r="5.9" stroke="#3355BB" stroke-width="2.0" stroke-opacity="0.38"/><circle cx="517.3" cy="208.3" r="5.9" stroke="#3355BB" stroke-width="2.0" stroke-opacity="0.38"/><circle cx="518.6" cy="211.8" r="5.9" stroke="#3355BB" stroke-width="2.0" stroke-opacity="0.38"/><circle cx="523.5" cy="218.0" r="5.9" stroke="#3355BB" stroke-width="2.0" stroke-opacity="0.38"/><circle cx="525.0" cy="221.7" r="5.9" stroke="#3355BB" stroke-width="2.0" stroke-opacity="0.38"/><circle cx="528.6" cy="226.2" r="5.9" stroke="#3355BB" stroke-width="2.0" stroke-opacity="0.38"/><circle cx="531.7" cy="229.9" r="5.9" stroke="#3355BB" stroke-width="2.0" stroke-opacity="0.38"/><circle cx="534.7" cy="231.7" r="5.9" stroke="#3355BB" stroke-width="2.0" stroke-opacity="0.38"/><circle cx="538.9" cy="236.1" r="5.9" stroke="#3355BB" stroke-width="2.0" stroke-opacity="0.38"/><circle cx="541.9" cy="241.3" r="5.9" stroke="#3355BB" stroke-width="2.0" stroke-opacity="0.38"/><circle cx="543.5" cy="245.7" r="5.9" stroke="#3355BB" stroke-width="2.0" stroke-opacity="0.38"/><circle cx="548.4" cy="250.1" r="5.9" stroke="#3355BB" stroke-width="2.0" stroke-opacity="0.38"/><circle cx="549.0" cy="257.7" r="5.9" stroke="#3355BB" stroke-width="2.0" stroke-opacity="0.38"/><circle cx="552.1" cy="260.2" r="5.9" stroke="#3355BB" stroke-width="2.0" stroke-opacity="0.38"/><circle cx="556.3" cy="267.5" r="5.9" stroke="#3355BB" stroke-width="2.0" stroke-opacity="0.38"/><circle cx="560.8" cy="270.3" r="5.9" stroke="#3355BB" stroke-width="2.0" stroke-opacity="0.38"/><circle cx="561.8" cy="279.2" r="5.9" stroke="#3355BB" stroke-width="2.0" stroke-opacity="0.38"/><circle cx="565.8" cy="284.4" r="5.9" stroke="#3355BB" stroke-width="2.0" stroke-opacity="0.38"/><circle cx="568.4" cy="287.8" r="5.9" stroke="#3355BB" stroke-width="2.0" stroke-opacity="0.38"/><circle cx="572.9" cy="292.7" r="5.9" stroke="#3355BB" stroke-width="2.0" stroke-opacity="0.38"/><circle cx="492.7" cy="213.0" r="5.9" stroke="#3355BB" stroke-width="2.0" stroke-opacity="0.38"/><circle cx="495.5" cy="210.7" r="5.9" stroke="#3355BB" stroke-width="2.0" stroke-opacity="0.38"/><circle cx="498.7" cy="210.4" r="5.9" stroke="#3355BB" stroke-width="2.0" stroke-opacity="0.38"/><circle cx="503.7" cy="209.8" r="5.9" stroke="#3355BB" stroke-width="2.0" stroke-opacity="0.38"/><circle cx="505.4" cy="210.3" r="5.9" stroke="#3355BB" stroke-width="2.0" stroke-opacity="0.38"/><circle cx="510.6" cy="209.8" r="5.9" stroke="#3355BB" stroke-width="2.0" stroke-opacity="0.38"/><circle cx="512.9" cy="214.7" r="5.9" stroke="#3355BB" stroke-width="2.0" stroke-opacity="0.38"/><circle cx="517.1" cy="215.1" r="5.9" stroke="#3355BB" stroke-width="2.0" stroke-opacity="0.38"/><circle cx="518.6" cy="217.1" r="5.9" stroke="#3355BB" stroke-width="2.0" stroke-opacity="0.38"/><circle cx="521.2" cy="221.2" r="5.9" stroke="#3355BB" stroke-width="2.0" stroke-opacity="0.38"/><circle cx="525.6" cy="226.2" r="5.9" stroke="#3355BB" stroke-width="2.0" stroke-opacity="0.38"/><circle cx="527.8" cy="229.9" r="5.9" stroke="#3355BB" stroke-width="2.0" stroke-opacity="0.38"/><circle cx="531.7" cy="235.3" r="5.9" stroke="#3355BB" stroke-width="2.0" stroke-opacity="0.38"/><circle cx="536.3" cy="239.8" r="5.9" stroke="#3355BB" stroke-width="2.0" stroke-opacity="0.38"/><circle cx="538.1" cy="243.3" r="5.9" stroke="#3355BB" stroke-width="2.0" stroke-opacity="0.38"/><circle cx="541.5" cy="244.3" r="5.9" stroke="#3355BB" stroke-width="2.0" stroke-opacity="0.38"/><circle cx="543.0" cy="250.8" r="5.9" stroke="#3355BB" stroke-width="2.0" stroke-opacity="0.38"/><circle cx="548.0" cy="256.0" r="5.9" stroke="#3355BB" stroke-width="2.0" stroke-opacity="0.38"/><circle cx="550.5" cy="261.0" r="5.9" stroke="#3355BB" stroke-width="2.0" stroke-opacity="0.38"/><circle cx="554.1" cy="266.6" r="5.9" stroke="#3355BB" stroke-width="2.0" stroke-opacity="0.38"/><circle cx="555.6" cy="270.8" r="5.9" stroke="#3355BB" stroke-width="2.0" stroke-opacity="0.38"/><circle cx="559.2" cy="276.0" r="5.9" stroke="#3355BB" stroke-width="2.0" stroke-opacity="0.38"/><circle cx="562.4" cy="279.5" r="5.9" stroke="#3355BB" stroke-width="2.0" stroke-opacity="0.38"/><circle cx="566.9" cy="287.0" r="5.9" stroke="#3355BB" stroke-width="2.0" stroke-opacity="0.38"/><circle cx="570.2" cy="290.2" r="5.9" stroke="#3355BB" stroke-width="2.0" stroke-opacity="0.38"/><circle cx="571.1" cy="295.6" r="5.9" stroke="#3355BB" stroke-width="2.0" stroke-opacity="0.38"/><circle cx="497.7" cy="220.0" r="5.9" stroke="#3355BB" stroke-width="2.0" stroke-opacity="0.38"/><circle cx="499.5" cy="218.3" r="5.9" stroke="#3355BB" stroke-width="2.0" stroke-opacity="0.38"/><circle cx="502.9" cy="218.0" r="5.9" stroke="#3355BB" stroke-width="2.0" stroke-opacity="0.38"/><circle cx="507.7" cy="218.3" r="5.9" stroke="#3355BB" stroke-width="2.0" stroke-opacity="0.38"/><circle cx="511.4" cy="218.0" r="5.9" stroke="#3355BB" stroke-width="2.0" stroke-opacity="0.38"/><circle cx="513.3" cy="220.3" r="5.9" stroke="#3355BB" stroke-width="2.0" stroke-opacity="0.38"/><circle cx="518.4" cy="223.2" r="5.9" stroke="#3355BB" stroke-width="2.0" stroke-opacity="0.38"/><circle cx="521.3" cy="227.6" r="5.9" stroke="#3355BB" stroke-width="2.0" stroke-opacity="0.38"/><circle cx="524.5" cy="230.4" r="5.9" stroke="#3355BB" stroke-width="2.0" stroke-opacity="0.38"/><circle cx="527.2" cy="233.5" r="5.9" stroke="#3355BB" stroke-width="2.0" stroke-opacity="0.38"/><circle cx="531.0" cy="238.9" r="5.9" stroke="#3355BB" stroke-width="2.0" stroke-opacity="0.38"/><circle cx="534.3" cy="239.8" r="5.9" stroke="#3355BB" stroke-width="2.0" stroke-opacity="0.38"/><circle cx="536.1" cy="245.6" r="5.9" stroke="#3355BB" stroke-width="2.0" stroke-opacity="0.38"/><circle cx="540.2" cy="250.7" r="5.9" stroke="#3355BB" stroke-width="2.0" stroke-opacity="0.38"/><circle cx="544.5" cy="254.6" r="5.9" stroke="#3355BB" stroke-width="2.0" stroke-opacity="0.38"/><circle cx="546.5" cy="258.4" r="5.9" stroke="#3355BB" stroke-width="2.0" stroke-opacity="0.38"/><circle cx="550.4" cy="261.2" r="5.9" stroke="#3355BB" stroke-width="2.0" stroke-opacity="0.38"/><circle cx="551.9" cy="265.8" r="5.9" stroke="#3355BB" stroke-width="2.0" stroke-opacity="0.38"/><circle cx="555.9" cy="274.6" r="5.9" stroke="#3355BB" stroke-width="2.0" stroke-opacity="0.38"/><circle cx="557.1" cy="276.5" r="5.9" stroke="#3355BB" stroke-width="2.0" stroke-opacity="0.38"/><circle cx="560.9" cy="284.3" r="5.9" stroke="#3355BB" stroke-width="2.0" stroke-opacity="0.38"/><circle cx="564.5" cy="287.0" r="5.9" stroke="#3355BB" stroke-width="2.0" stroke-opacity="0.38"/><circle cx="567.8" cy="292.3" r="5.9" stroke="#3355BB" stroke-width="2.0" stroke-opacity="0.38"/><circle cx="570.5" cy="298.1" r="5.9" stroke="#3355BB" stroke-width="2.0" stroke-opacity="0.38"/><circle cx="488.6" cy="295.0" r="5.9" stroke="#3355BB" stroke-width="2.0" stroke-opacity="0.30"/><circle cx="492.8" cy="282.7" r="5.9" stroke="#3355BB" stroke-width="2.0" stroke-opacity="0.30"/><circle cx="497.2" cy="272.6" r="5.9" stroke="#3355BB" stroke-width="2.0" stroke-opacity="0.30"/><circle cx="501.7" cy="265.4" r="5.9" stroke="#3355BB" stroke-width="2.0" stroke-opacity="0.30"/><circle cx="506.2" cy="260.8" r="5.9" stroke="#3355BB" stroke-width="2.0" stroke-opacity="0.30"/><circle cx="511.0" cy="258.0" r="5.9" stroke="#3355BB" stroke-width="2.0" stroke-opacity="0.30"/><circle cx="515.3" cy="256.8" r="5.9" stroke="#3355BB" stroke-width="2.0" stroke-opacity="0.30"/><circle cx="519.8" cy="257.0" r="5.9" stroke="#3355BB" stroke-width="2.0" stroke-opacity="0.30"/><circle cx="524.5" cy="258.5" r="5.9" stroke="#3355BB" stroke-width="2.0" stroke-opacity="0.30"/><circle cx="528.9" cy="260.8" r="5.9" stroke="#3355BB" stroke-width="2.0" stroke-opacity="0.30"/><circle cx="533.5" cy="263.8" r="5.9" stroke="#3355BB" stroke-width="2.0" stroke-opacity="0.30"/><circle cx="538.0" cy="267.8" r="5.9" stroke="#3355BB" stroke-width="2.0" stroke-opacity="0.30"/><circle cx="542.6" cy="272.4" r="5.9" stroke="#3355BB" stroke-width="2.0" stroke-opacity="0.30"/><circle cx="547.1" cy="277.1" r="5.9" stroke="#3355BB" stroke-width="2.0" stroke-opacity="0.30"/><circle cx="551.7" cy="281.7" r="5.9" stroke="#3355BB" stroke-width="2.0" stroke-opacity="0.30"/><circle cx="109.7" cy="262.0" r="5.9" stroke="#3355BB" stroke-width="2.0" stroke-opacity="0.35"/><circle cx="109.2" cy="260.2" r="5.9" stroke="#3355BB" stroke-width="2.0" stroke-opacity="0.35"/><circle cx="112.9" cy="263.4" r="5.9" stroke="#3355BB" stroke-width="2.0" stroke-opacity="0.35"/><circle cx="111.2" cy="270.6" r="5.9" stroke="#3355BB" stroke-width="2.0" stroke-opacity="0.35"/><circle cx="112.3" cy="267.5" r="5.9" stroke="#3355BB" stroke-width="2.0" stroke-opacity="0.35"/><circle cx="114.0" cy="268.9" r="5.9" stroke="#3355BB" stroke-width="2.0" stroke-opacity="0.35"/><circle cx="114.1" cy="272.4" r="5.9" stroke="#3355BB" stroke-width="2.0" stroke-opacity="0.35"/><circle cx="116.3" cy="273.2" r="5.9" stroke="#3355BB" stroke-width="2.0" stroke-opacity="0.35"/><circle cx="116.0" cy="275.7" r="5.9" stroke="#3355BB" stroke-width="2.0" stroke-opacity="0.35"/><circle cx="120.7" cy="274.6" r="5.9" stroke="#3355BB" stroke-width="2.0" stroke-opacity="0.35"/><circle cx="121.6" cy="279.6" r="5.9" stroke="#3355BB" stroke-width="2.0" stroke-opacity="0.35"/><circle cx="123.7" cy="279.3" r="5.9" stroke="#3355BB" stroke-width="2.0" stroke-opacity="0.35"/><circle cx="123.9" cy="283.6" r="5.9" stroke="#3355BB" stroke-width="2.0" stroke-opacity="0.35"/><circle cx="128.4" cy="286.5" r="5.9" stroke="#3355BB" stroke-width="2.0" stroke-opacity="0.35"/><circle cx="128.3" cy="291.9" r="5.9" stroke="#3355BB" stroke-width="2.0" stroke-opacity="0.35"/><circle cx="129.6" cy="291.2" r="5.9" stroke="#3355BB" stroke-width="2.0" stroke-opacity="0.35"/><circle cx="133.2" cy="294.0" r="5.9" stroke="#3355BB" stroke-width="2.0" stroke-opacity="0.35"/><circle cx="135.4" cy="298.6" r="5.9" stroke="#3355BB" stroke-width="2.0" stroke-opacity="0.35"/><circle cx="725.6" cy="317.6" r="5.9" stroke="#3355BB" stroke-width="2.0" stroke-opacity="0.36"/><circle cx="726.3" cy="321.0" r="5.9" stroke="#3355BB" stroke-width="2.0" stroke-opacity="0.36"/><circle cx="725.6" cy="316.9" r="5.9" stroke="#3355BB" stroke-width="2.0" stroke-opacity="0.36"/><circle cx="730.2" cy="327.5" r="5.9" stroke="#3355BB" stroke-width="2.0" stroke-opacity="0.36"/><circle cx="729.9" cy="329.3" r="5.9" stroke="#3355BB" stroke-width="2.0" stroke-opacity="0.36"/><circle cx="729.7" cy="324.5" r="5.9" stroke="#3355BB" stroke-width="2.0" stroke-opacity="0.36"/><circle cx="734.8" cy="324.7" r="5.9" stroke="#3355BB" stroke-width="2.0" stroke-opacity="0.36"/><circle cx="734.3" cy="322.1" r="5.9" stroke="#3355BB" stroke-width="2.0" stroke-opacity="0.36"/><circle cx="734.7" cy="329.0" r="5.9" stroke="#3355BB" stroke-width="2.0" stroke-opacity="0.36"/><circle cx="738.8" cy="323.0" r="5.9" stroke="#3355BB" stroke-width="2.0" stroke-opacity="0.36"/><circle cx="738.8" cy="330.9" r="5.9" stroke="#3355BB" stroke-width="2.0" stroke-opacity="0.36"/><circle cx="738.6" cy="321.0" r="5.9" stroke="#3355BB" stroke-width="2.0" stroke-opacity="0.36"/><circle cx="684.0" cy="306.0" r="5.9" stroke="#3355BB" stroke-width="2.0" stroke-opacity="0.38"/><circle cx="690.0" cy="314.0" r="5.9" stroke="#3355BB" stroke-width="2.0" stroke-opacity="0.38"/><circle cx="696.0" cy="321.0" r="5.9" stroke="#3355BB" stroke-width="2.0" stroke-opacity="0.38"/><circle cx="702.0" cy="309.0" r="5.9" stroke="#3355BB" stroke-width="2.0" stroke-opacity="0.38"/><circle cx="709.0" cy="317.0" r="5.9" stroke="#3355BB" stroke-width="2.0" stroke-opacity="0.38"/><circle cx="687.0" cy="329.0" r="5.9" stroke="#3355BB" stroke-width="2.0" stroke-opacity="0.38"/><circle cx="694.0" cy="333.0" r="5.9" stroke="#3355BB" stroke-width="2.0" stroke-opacity="0.38"/><circle cx="713.0" cy="329.0" r="5.9" stroke="#3355BB" stroke-width="2.0" stroke-opacity="0.38"/><circle cx="720.0" cy="336.0" r="5.9" stroke="#3355BB" stroke-width="2.0" stroke-opacity="0.38"/><circle cx="705.0" cy="326.0" r="5.9" stroke="#3355BB" stroke-width="2.0" stroke-opacity="0.38"/><circle cx="744.5" cy="321.0" r="5.9" stroke="#3355BB" stroke-width="2.0" stroke-opacity="0.36"/><circle cx="744.4" cy="327.0" r="5.9" stroke="#3355BB" stroke-width="2.0" stroke-opacity="0.36"/><circle cx="744.5" cy="323.3" r="5.9" stroke="#3355BB" stroke-width="2.0" stroke-opacity="0.36"/><circle cx="744.4" cy="320.5" r="5.9" stroke="#3355BB" stroke-width="2.0" stroke-opacity="0.36"/><circle cx="744.3" cy="323.4" r="5.9" stroke="#3355BB" stroke-width="2.0" stroke-opacity="0.36"/><circle cx="744.0" cy="329.1" r="5.9" stroke="#3355BB" stroke-width="2.0" stroke-opacity="0.36"/><circle cx="744.2" cy="325.0" r="5.9" stroke="#3355BB" stroke-width="2.0" stroke-opacity="0.36"/><circle cx="743.8" cy="328.6" r="5.9" stroke="#3355BB" stroke-width="2.0" stroke-opacity="0.36"/><circle cx="744.0" cy="322.4" r="5.9" stroke="#3355BB" stroke-width="2.0" stroke-opacity="0.36"/><circle cx="748.2" cy="329.1" r="5.9" stroke="#3355BB" stroke-width="2.0" stroke-opacity="0.36"/><circle cx="747.8" cy="323.4" r="5.9" stroke="#3355BB" stroke-width="2.0" stroke-opacity="0.36"/><circle cx="748.6" cy="326.9" r="5.9" stroke="#3355BB" stroke-width="2.0" stroke-opacity="0.36"/><circle cx="748.2" cy="321.4" r="5.9" stroke="#3355BB" stroke-width="2.0" stroke-opacity="0.36"/><circle cx="747.8" cy="324.4" r="5.9" stroke="#3355BB" stroke-width="2.0" stroke-opacity="0.36"/><circle cx="748.5" cy="322.8" r="5.9" stroke="#3355BB" stroke-width="2.0" stroke-opacity="0.36"/><circle cx="748.8" cy="327.0" r="5.9" stroke="#3355BB" stroke-width="2.0" stroke-opacity="0.36"/><circle cx="748.2" cy="328.6" r="5.9" stroke="#3355BB" stroke-width="2.0" stroke-opacity="0.36"/><circle cx="748.1" cy="330.3" r="5.9" stroke="#3355BB" stroke-width="2.0" stroke-opacity="0.36"/><circle cx="752.4" cy="319.6" r="5.9" stroke="#3355BB" stroke-width="2.0" stroke-opacity="0.36"/><circle cx="753.2" cy="325.5" r="5.9" stroke="#3355BB" stroke-width="2.0" stroke-opacity="0.36"/><circle cx="753.1" cy="320.8" r="5.9" stroke="#3355BB" stroke-width="2.0" stroke-opacity="0.36"/><circle cx="752.2" cy="325.3" r="5.9" stroke="#3355BB" stroke-width="2.0" stroke-opacity="0.36"/><circle cx="753.1" cy="320.6" r="5.9" stroke="#3355BB" stroke-width="2.0" stroke-opacity="0.36"/><circle cx="752.6" cy="328.6" r="5.9" stroke="#3355BB" stroke-width="2.0" stroke-opacity="0.36"/><circle cx="752.5" cy="324.9" r="5.9" stroke="#3355BB" stroke-width="2.0" stroke-opacity="0.36"/><circle cx="753.1" cy="326.0" r="5.9" stroke="#3355BB" stroke-width="2.0" stroke-opacity="0.36"/><circle cx="752.8" cy="327.6" r="5.9" stroke="#3355BB" stroke-width="2.0" stroke-opacity="0.36"/><circle cx="757.4" cy="323.3" r="5.9" stroke="#3355BB" stroke-width="2.0" stroke-opacity="0.36"/><circle cx="757.0" cy="321.8" r="5.9" stroke="#3355BB" stroke-width="2.0" stroke-opacity="0.36"/><circle cx="756.7" cy="329.1" r="5.9" stroke="#3355BB" stroke-width="2.0" stroke-opacity="0.36"/><circle cx="757.5" cy="323.2" r="5.9" stroke="#3355BB" stroke-width="2.0" stroke-opacity="0.36"/><circle cx="757.2" cy="325.7" r="5.9" stroke="#3355BB" stroke-width="2.0" stroke-opacity="0.36"/><circle cx="757.1" cy="323.6" r="5.9" stroke="#3355BB" stroke-width="2.0" stroke-opacity="0.36"/><circle cx="756.7" cy="321.7" r="5.9" stroke="#3355BB" stroke-width="2.0" stroke-opacity="0.36"/><circle cx="756.9" cy="319.9" r="5.9" stroke="#3355BB" stroke-width="2.0" stroke-opacity="0.36"/><circle cx="757.3" cy="322.2" r="5.9" stroke="#3355BB" stroke-width="2.0" stroke-opacity="0.36"/><circle cx="761.4" cy="324.7" r="5.9" stroke="#3355BB" stroke-width="2.0" stroke-opacity="0.36"/><circle cx="761.0" cy="329.9" r="5.9" stroke="#3355BB" stroke-width="2.0" stroke-opacity="0.36"/><circle cx="761.6" cy="327.4" r="5.9" stroke="#3355BB" stroke-width="2.0" stroke-opacity="0.36"/><circle cx="760.7" cy="324.2" r="5.9" stroke="#3355BB" stroke-width="2.0" stroke-opacity="0.36"/><circle cx="761.4" cy="319.7" r="5.9" stroke="#3355BB" stroke-width="2.0" stroke-opacity="0.36"/><circle cx="761.4" cy="328.4" r="5.9" stroke="#3355BB" stroke-width="2.0" stroke-opacity="0.36"/><circle cx="761.7" cy="324.6" r="5.9" stroke="#3355BB" stroke-width="2.0" stroke-opacity="0.36"/><circle cx="760.6" cy="321.1" r="5.9" stroke="#3355BB" stroke-width="2.0" stroke-opacity="0.36"/><circle cx="761.6" cy="320.4" r="5.9" stroke="#3355BB" stroke-width="2.0" stroke-opacity="0.36"/><circle cx="765.6" cy="325.4" r="5.9" stroke="#3355BB" stroke-width="2.0" stroke-opacity="0.36"/><circle cx="765.4" cy="327.0" r="5.9" stroke="#3355BB" stroke-width="2.0" stroke-opacity="0.36"/><circle cx="765.0" cy="325.0" r="5.9" stroke="#3355BB" stroke-width="2.0" stroke-opacity="0.36"/><circle cx="765.4" cy="327.9" r="5.9" stroke="#3355BB" stroke-width="2.0" stroke-opacity="0.36"/><circle cx="765.4" cy="319.9" r="5.9" stroke="#3355BB" stroke-width="2.0" stroke-opacity="0.36"/><circle cx="765.3" cy="323.9" r="5.9" stroke="#3355BB" stroke-width="2.0" stroke-opacity="0.36"/><circle cx="765.0" cy="328.0" r="5.9" stroke="#3355BB" stroke-width="2.0" stroke-opacity="0.36"/><circle cx="765.7" cy="321.4" r="5.9" stroke="#3355BB" stroke-width="2.0" stroke-opacity="0.36"/><circle cx="765.6" cy="329.4" r="5.9" stroke="#3355BB" stroke-width="2.0" stroke-opacity="0.36"/><circle cx="769.9" cy="321.1" r="5.9" stroke="#3355BB" stroke-width="2.0" stroke-opacity="0.36"/><circle cx="770.0" cy="325.3" r="5.9" stroke="#3355BB" stroke-width="2.0" stroke-opacity="0.36"/><circle cx="770.0" cy="318.8" r="5.9" stroke="#3355BB" stroke-width="2.0" stroke-opacity="0.36"/><circle cx="769.2" cy="320.1" r="5.9" stroke="#3355BB" stroke-width="2.0" stroke-opacity="0.36"/><circle cx="769.7" cy="326.2" r="5.9" stroke="#3355BB" stroke-width="2.0" stroke-opacity="0.36"/><circle cx="769.3" cy="326.4" r="5.9" stroke="#3355BB" stroke-width="2.0" stroke-opacity="0.36"/><circle cx="769.3" cy="320.0" r="5.9" stroke="#3355BB" stroke-width="2.0" stroke-opacity="0.36"/><circle cx="769.7" cy="327.5" r="5.9" stroke="#3355BB" stroke-width="2.0" stroke-opacity="0.36"/><circle cx="770.3" cy="316.8" r="5.9" stroke="#3355BB" stroke-width="2.0" stroke-opacity="0.36"/><circle cx="773.7" cy="320.0" r="5.9" stroke="#3355BB" stroke-width="2.0" stroke-opacity="0.36"/><circle cx="773.8" cy="326.1" r="5.9" stroke="#3355BB" stroke-width="2.0" stroke-opacity="0.36"/><circle cx="774.2" cy="318.6" r="5.9" stroke="#3355BB" stroke-width="2.0" stroke-opacity="0.36"/><circle cx="774.2" cy="322.7" r="5.9" stroke="#3355BB" stroke-width="2.0" stroke-opacity="0.36"/><circle cx="774.5" cy="325.3" r="5.9" stroke="#3355BB" stroke-width="2.0" stroke-opacity="0.36"/><circle cx="774.0" cy="323.7" r="5.9" stroke="#3355BB" stroke-width="2.0" stroke-opacity="0.36"/><circle cx="774.7" cy="321.1" r="5.9" stroke="#3355BB" stroke-width="2.0" stroke-opacity="0.36"/><circle cx="774.4" cy="320.5" r="5.9" stroke="#3355BB" stroke-width="2.0" stroke-opacity="0.36"/><circle cx="774.0" cy="317.1" r="5.9" stroke="#3355BB" stroke-width="2.0" stroke-opacity="0.36"/><circle cx="777.9" cy="316.7" r="5.9" stroke="#3355BB" stroke-width="2.0" stroke-opacity="0.36"/><circle cx="778.2" cy="319.6" r="5.9" stroke="#3355BB" stroke-width="2.0" stroke-opacity="0.36"/><circle cx="778.6" cy="321.3" r="5.9" stroke="#3355BB" stroke-width="2.0" stroke-opacity="0.36"/><circle cx="778.7" cy="319.6" r="5.9" stroke="#3355BB" stroke-width="2.0" stroke-opacity="0.36"/><circle cx="778.4" cy="320.1" r="5.9" stroke="#3355BB" stroke-width="2.0" stroke-opacity="0.36"/><circle cx="778.6" cy="322.9" r="5.9" stroke="#3355BB" stroke-width="2.0" stroke-opacity="0.36"/><circle cx="778.1" cy="323.1" r="5.9" stroke="#3355BB" stroke-width="2.0" stroke-opacity="0.36"/><circle cx="778.0" cy="313.0" r="5.9" stroke="#3355BB" stroke-width="2.0" stroke-opacity="0.36"/><circle cx="778.8" cy="315.5" r="5.9" stroke="#3355BB" stroke-width="2.0" stroke-opacity="0.36"/><circle cx="783.1" cy="315.0" r="5.9" stroke="#3355BB" stroke-width="2.0" stroke-opacity="0.36"/><circle cx="782.5" cy="321.1" r="5.9" stroke="#3355BB" stroke-width="2.0" stroke-opacity="0.36"/><circle cx="783.0" cy="311.4" r="5.9" stroke="#3355BB" stroke-width="2.0" stroke-opacity="0.36"/><circle cx="783.2" cy="313.2" r="5.9" stroke="#3355BB" stroke-width="2.0" stroke-opacity="0.36"/><circle cx="782.9" cy="322.0" r="5.9" stroke="#3355BB" stroke-width="2.0" stroke-opacity="0.36"/><circle cx="783.1" cy="316.5" r="5.9" stroke="#3355BB" stroke-width="2.0" stroke-opacity="0.36"/><circle cx="783.2" cy="318.9" r="5.9" stroke="#3355BB" stroke-width="2.0" stroke-opacity="0.36"/><circle cx="782.4" cy="322.2" r="5.9" stroke="#3355BB" stroke-width="2.0" stroke-opacity="0.36"/><circle cx="782.8" cy="314.5" r="5.9" stroke="#3355BB" stroke-width="2.0" stroke-opacity="0.36"/><circle cx="786.9" cy="310.7" r="5.9" stroke="#3355BB" stroke-width="2.0" stroke-opacity="0.36"/><circle cx="787.1" cy="315.2" r="5.9" stroke="#3355BB" stroke-width="2.0" stroke-opacity="0.36"/><circle cx="786.6" cy="313.4" r="5.9" stroke="#3355BB" stroke-width="2.0" stroke-opacity="0.36"/><circle cx="786.7" cy="319.1" r="5.9" stroke="#3355BB" stroke-width="2.0" stroke-opacity="0.36"/><circle cx="786.6" cy="315.7" r="5.9" stroke="#3355BB" stroke-width="2.0" stroke-opacity="0.36"/><circle cx="787.2" cy="315.6" r="5.9" stroke="#3355BB" stroke-width="2.0" stroke-opacity="0.36"/><circle cx="786.8" cy="311.3" r="5.9" stroke="#3355BB" stroke-width="2.0" stroke-opacity="0.36"/><circle cx="786.4" cy="310.9" r="5.9" stroke="#3355BB" stroke-width="2.0" stroke-opacity="0.36"/><circle cx="787.4" cy="311.7" r="5.9" stroke="#3355BB" stroke-width="2.0" stroke-opacity="0.36"/><circle cx="791.3" cy="309.6" r="5.9" stroke="#3355BB" stroke-width="2.0" stroke-opacity="0.36"/><circle cx="790.8" cy="311.1" r="5.9" stroke="#3355BB" stroke-width="2.0" stroke-opacity="0.36"/><circle cx="791.9" cy="310.8" r="5.9" stroke="#3355BB" stroke-width="2.0" stroke-opacity="0.36"/><circle cx="791.1" cy="312.9" r="5.9" stroke="#3355BB" stroke-width="2.0" stroke-opacity="0.36"/><circle cx="791.1" cy="308.8" r="5.9" stroke="#3355BB" stroke-width="2.0" stroke-opacity="0.36"/><circle cx="791.2" cy="316.8" r="5.9" stroke="#3355BB" stroke-width="2.0" stroke-opacity="0.36"/><circle cx="790.9" cy="307.6" r="5.9" stroke="#3355BB" stroke-width="2.0" stroke-opacity="0.36"/><circle cx="791.6" cy="308.3" r="5.9" stroke="#3355BB" stroke-width="2.0" stroke-opacity="0.36"/><circle cx="790.9" cy="308.9" r="5.9" stroke="#3355BB" stroke-width="2.0" stroke-opacity="0.36"/><circle cx="796.1" cy="314.9" r="5.9" stroke="#3355BB" stroke-width="2.0" stroke-opacity="0.36"/><circle cx="796.1" cy="307.3" r="5.9" stroke="#3355BB" stroke-width="2.0" stroke-opacity="0.36"/><circle cx="796.1" cy="304.3" r="5.9" stroke="#3355BB" stroke-width="2.0" stroke-opacity="0.36"/><circle cx="795.6" cy="310.2" r="5.9" stroke="#3355BB" stroke-width="2.0" stroke-opacity="0.36"/><circle cx="795.5" cy="315.3" r="5.9" stroke="#3355BB" stroke-width="2.0" stroke-opacity="0.36"/><circle cx="795.9" cy="309.3" r="5.9" stroke="#3355BB" stroke-width="2.0" stroke-opacity="0.36"/><circle cx="795.9" cy="312.7" r="5.9" stroke="#3355BB" stroke-width="2.0" stroke-opacity="0.36"/><circle cx="795.1" cy="307.4" r="5.9" stroke="#3355BB" stroke-width="2.0" stroke-opacity="0.36"/><circle cx="795.4" cy="314.9" r="5.9" stroke="#3355BB" stroke-width="2.0" stroke-opacity="0.36"/><circle cx="800.3" cy="304.7" r="5.9" stroke="#3355BB" stroke-width="2.0" stroke-opacity="0.36"/><circle cx="800.5" cy="302.0" r="5.9" stroke="#3355BB" stroke-width="2.0" stroke-opacity="0.36"/><circle cx="799.7" cy="303.5" r="5.9" stroke="#3355BB" stroke-width="2.0" stroke-opacity="0.36"/><circle cx="799.9" cy="312.0" r="5.9" stroke="#3355BB" stroke-width="2.0" stroke-opacity="0.36"/><circle cx="800.2" cy="301.6" r="5.9" stroke="#3355BB" stroke-width="2.0" stroke-opacity="0.36"/><circle cx="799.6" cy="310.5" r="5.9" stroke="#3355BB" stroke-width="2.0" stroke-opacity="0.36"/><circle cx="799.6" cy="310.9" r="5.9" stroke="#3355BB" stroke-width="2.0" stroke-opacity="0.36"/><circle cx="800.0" cy="309.5" r="5.9" stroke="#3355BB" stroke-width="2.0" stroke-opacity="0.36"/><circle cx="800.2" cy="308.0" r="5.9" stroke="#3355BB" stroke-width="2.0" stroke-opacity="0.36"/><circle cx="803.8" cy="308.5" r="5.9" stroke="#3355BB" stroke-width="2.0" stroke-opacity="0.36"/><circle cx="804.3" cy="307.4" r="5.9" stroke="#3355BB" stroke-width="2.0" stroke-opacity="0.36"/><circle cx="803.6" cy="300.9" r="5.9" stroke="#3355BB" stroke-width="2.0" stroke-opacity="0.36"/><circle cx="804.3" cy="308.4" r="5.9" stroke="#3355BB" stroke-width="2.0" stroke-opacity="0.36"/><circle cx="804.0" cy="307.8" r="5.9" stroke="#3355BB" stroke-width="2.0" stroke-opacity="0.36"/><circle cx="803.6" cy="299.3" r="5.9" stroke="#3355BB" stroke-width="2.0" stroke-opacity="0.36"/><circle cx="804.4" cy="310.6" r="5.9" stroke="#3355BB" stroke-width="2.0" stroke-opacity="0.36"/><circle cx="804.0" cy="302.8" r="5.9" stroke="#3355BB" stroke-width="2.0" stroke-opacity="0.36"/><circle cx="804.0" cy="305.7" r="5.9" stroke="#3355BB" stroke-width="2.0" stroke-opacity="0.36"/><circle cx="808.4" cy="300.8" r="5.9" stroke="#3355BB" stroke-width="2.0" stroke-opacity="0.36"/><circle cx="808.8" cy="296.5" r="5.9" stroke="#3355BB" stroke-width="2.0" stroke-opacity="0.36"/><circle cx="808.9" cy="305.4" r="5.9" stroke="#3355BB" stroke-width="2.0" stroke-opacity="0.36"/><circle cx="809.0" cy="306.6" r="5.9" stroke="#3355BB" stroke-width="2.0" stroke-opacity="0.36"/><circle cx="808.9" cy="300.0" r="5.9" stroke="#3355BB" stroke-width="2.0" stroke-opacity="0.36"/><circle cx="808.8" cy="303.6" r="5.9" stroke="#3355BB" stroke-width="2.0" stroke-opacity="0.36"/><circle cx="808.3" cy="306.2" r="5.9" stroke="#3355BB" stroke-width="2.0" stroke-opacity="0.36"/><circle cx="808.5" cy="308.3" r="5.9" stroke="#3355BB" stroke-width="2.0" stroke-opacity="0.36"/><circle cx="808.8" cy="307.0" r="5.9" stroke="#3355BB" stroke-width="2.0" stroke-opacity="0.36"/><circle cx="813.3" cy="301.4" r="5.9" stroke="#3355BB" stroke-width="2.0" stroke-opacity="0.36"/><circle cx="813.3" cy="301.5" r="5.9" stroke="#3355BB" stroke-width="2.0" stroke-opacity="0.36"/><circle cx="812.8" cy="306.3" r="5.9" stroke="#3355BB" stroke-width="2.0" stroke-opacity="0.36"/><circle cx="813.0" cy="302.6" r="5.9" stroke="#3355BB" stroke-width="2.0" stroke-opacity="0.36"/><circle cx="813.4" cy="301.9" r="5.9" stroke="#3355BB" stroke-width="2.0" stroke-opacity="0.36"/><circle cx="812.2" cy="302.5" r="5.9" stroke="#3355BB" stroke-width="2.0" stroke-opacity="0.36"/><circle cx="813.0" cy="303.1" r="5.9" stroke="#3355BB" stroke-width="2.0" stroke-opacity="0.36"/><circle cx="813.4" cy="303.2" r="5.9" stroke="#3355BB" stroke-width="2.0" stroke-opacity="0.36"/><circle cx="813.4" cy="303.8" r="5.9" stroke="#3355BB" stroke-width="2.0" stroke-opacity="0.36"/><circle cx="817.7" cy="297.7" r="5.9" stroke="#3355BB" stroke-width="2.0" stroke-opacity="0.36"/><circle cx="816.8" cy="299.1" r="5.9" stroke="#3355BB" stroke-width="2.0" stroke-opacity="0.36"/><circle cx="817.6" cy="302.8" r="5.9" stroke="#3355BB" stroke-width="2.0" stroke-opacity="0.36"/><circle cx="817.3" cy="297.3" r="5.9" stroke="#3355BB" stroke-width="2.0" stroke-opacity="0.36"/><circle cx="816.8" cy="292.7" r="5.9" stroke="#3355BB" stroke-width="2.0" stroke-opacity="0.36"/><circle cx="817.0" cy="298.5" r="5.9" stroke="#3355BB" stroke-width="2.0" stroke-opacity="0.36"/><circle cx="817.7" cy="299.3" r="5.9" stroke="#3355BB" stroke-width="2.0" stroke-opacity="0.36"/><circle cx="817.2" cy="298.0" r="5.9" stroke="#3355BB" stroke-width="2.0" stroke-opacity="0.36"/><circle cx="816.5" cy="295.9" r="5.9" stroke="#3355BB" stroke-width="2.0" stroke-opacity="0.36"/><circle cx="821.6" cy="299.3" r="5.9" stroke="#3355BB" stroke-width="2.0" stroke-opacity="0.36"/><circle cx="821.9" cy="296.6" r="5.9" stroke="#3355BB" stroke-width="2.0" stroke-opacity="0.36"/><circle cx="821.6" cy="300.4" r="5.9" stroke="#3355BB" stroke-width="2.0" stroke-opacity="0.36"/><circle cx="821.7" cy="292.3" r="5.9" stroke="#3355BB" stroke-width="2.0" stroke-opacity="0.36"/><circle cx="821.9" cy="299.8" r="5.9" stroke="#3355BB" stroke-width="2.0" stroke-opacity="0.36"/><circle cx="821.6" cy="292.5" r="5.9" stroke="#3355BB" stroke-width="2.0" stroke-opacity="0.36"/><circle cx="821.9" cy="299.0" r="5.9" stroke="#3355BB" stroke-width="2.0" stroke-opacity="0.36"/><circle cx="821.0" cy="297.8" r="5.9" stroke="#3355BB" stroke-width="2.0" stroke-opacity="0.36"/><circle cx="821.0" cy="291.5" r="5.9" stroke="#3355BB" stroke-width="2.0" stroke-opacity="0.36"/><circle cx="826.0" cy="298.3" r="5.9" stroke="#3355BB" stroke-width="2.0" stroke-opacity="0.36"/><circle cx="825.7" cy="291.2" r="5.9" stroke="#3355BB" stroke-width="2.0" stroke-opacity="0.36"/><circle cx="825.5" cy="290.7" r="5.9" stroke="#3355BB" stroke-width="2.0" stroke-opacity="0.36"/><circle cx="825.4" cy="290.2" r="5.9" stroke="#3355BB" stroke-width="2.0" stroke-opacity="0.36"/><circle cx="825.9" cy="298.8" r="5.9" stroke="#3355BB" stroke-width="2.0" stroke-opacity="0.36"/><circle cx="825.7" cy="297.4" r="5.9" stroke="#3355BB" stroke-width="2.0" stroke-opacity="0.36"/><circle cx="825.3" cy="300.3" r="5.9" stroke="#3355BB" stroke-width="2.0" stroke-opacity="0.36"/><circle cx="825.8" cy="290.9" r="5.9" stroke="#3355BB" stroke-width="2.0" stroke-opacity="0.36"/><circle cx="825.7" cy="294.9" r="5.9" stroke="#3355BB" stroke-width="2.0" stroke-opacity="0.36"/><circle cx="830.4" cy="297.4" r="5.9" stroke="#3355BB" stroke-width="2.0" stroke-opacity="0.36"/><circle cx="829.5" cy="296.2" r="5.9" stroke="#3355BB" stroke-width="2.0" stroke-opacity="0.36"/><circle cx="829.5" cy="294.4" r="5.9" stroke="#3355BB" stroke-width="2.0" stroke-opacity="0.36"/><circle cx="830.4" cy="290.7" r="5.9" stroke="#3355BB" stroke-width="2.0" stroke-opacity="0.36"/><circle cx="830.2" cy="293.3" r="5.9" stroke="#3355BB" stroke-width="2.0" stroke-opacity="0.36"/><circle cx="829.5" cy="299.0" r="5.9" stroke="#3355BB" stroke-width="2.0" stroke-opacity="0.36"/><circle cx="830.3" cy="291.6" r="5.9" stroke="#3355BB" stroke-width="2.0" stroke-opacity="0.36"/><circle cx="829.6" cy="292.7" r="5.9" stroke="#3355BB" stroke-width="2.0" stroke-opacity="0.36"/><circle cx="830.3" cy="299.4" r="5.9" stroke="#3355BB" stroke-width="2.0" stroke-opacity="0.36"/><circle cx="834.3" cy="287.7" r="5.9" stroke="#3355BB" stroke-width="2.0" stroke-opacity="0.36"/><circle cx="833.7" cy="290.6" r="5.9" stroke="#3355BB" stroke-width="2.0" stroke-opacity="0.36"/><circle cx="834.6" cy="289.7" r="5.9" stroke="#3355BB" stroke-width="2.0" stroke-opacity="0.36"/><circle cx="834.4" cy="288.0" r="5.9" stroke="#3355BB" stroke-width="2.0" stroke-opacity="0.36"/><circle cx="834.1" cy="295.6" r="5.9" stroke="#3355BB" stroke-width="2.0" stroke-opacity="0.36"/><circle cx="834.5" cy="287.9" r="5.9" stroke="#3355BB" stroke-width="2.0" stroke-opacity="0.36"/><circle cx="833.9" cy="290.4" r="5.9" stroke="#3355BB" stroke-width="2.0" stroke-opacity="0.36"/><circle cx="834.0" cy="292.0" r="5.9" stroke="#3355BB" stroke-width="2.0" stroke-opacity="0.36"/><circle cx="834.6" cy="288.9" r="5.9" stroke="#3355BB" stroke-width="2.0" stroke-opacity="0.36"/><circle cx="838.3" cy="293.0" r="5.9" stroke="#3355BB" stroke-width="2.0" stroke-opacity="0.36"/><circle cx="838.9" cy="296.4" r="5.9" stroke="#3355BB" stroke-width="2.0" stroke-opacity="0.36"/><circle cx="838.1" cy="293.6" r="5.9" stroke="#3355BB" stroke-width="2.0" stroke-opacity="0.36"/><circle cx="838.8" cy="292.4" r="5.9" stroke="#3355BB" stroke-width="2.0" stroke-opacity="0.36"/><circle cx="839.0" cy="288.5" r="5.9" stroke="#3355BB" stroke-width="2.0" stroke-opacity="0.36"/><circle cx="838.7" cy="295.8" r="5.9" stroke="#3355BB" stroke-width="2.0" stroke-opacity="0.36"/><circle cx="839.2" cy="287.3" r="5.9" stroke="#3355BB" stroke-width="2.0" stroke-opacity="0.36"/><circle cx="838.9" cy="291.3" r="5.9" stroke="#3355BB" stroke-width="2.0" stroke-opacity="0.36"/><circle cx="838.9" cy="293.5" r="5.9" stroke="#3355BB" stroke-width="2.0" stroke-opacity="0.36"/><circle cx="843.2" cy="289.0" r="5.9" stroke="#3355BB" stroke-width="2.0" stroke-opacity="0.36"/><circle cx="843.4" cy="291.7" r="5.9" stroke="#3355BB" stroke-width="2.0" stroke-opacity="0.36"/><circle cx="843.3" cy="290.5" r="5.9" stroke="#3355BB" stroke-width="2.0" stroke-opacity="0.36"/><circle cx="842.5" cy="291.1" r="5.9" stroke="#3355BB" stroke-width="2.0" stroke-opacity="0.36"/><circle cx="843.1" cy="298.0" r="5.9" stroke="#3355BB" stroke-width="2.0" stroke-opacity="0.36"/><circle cx="842.9" cy="291.0" r="5.9" stroke="#3355BB" stroke-width="2.0" stroke-opacity="0.36"/><circle cx="843.4" cy="295.9" r="5.9" stroke="#3355BB" stroke-width="2.0" stroke-opacity="0.36"/><circle cx="842.8" cy="294.8" r="5.9" stroke="#3355BB" stroke-width="2.0" stroke-opacity="0.36"/><circle cx="842.6" cy="293.0" r="5.9" stroke="#3355BB" stroke-width="2.0" stroke-opacity="0.36"/><circle cx="847.1" cy="290.0" r="5.9" stroke="#3355BB" stroke-width="2.0" stroke-opacity="0.36"/><circle cx="846.7" cy="289.8" r="5.9" stroke="#3355BB" stroke-width="2.0" stroke-opacity="0.36"/><circle cx="847.6" cy="296.2" r="5.9" stroke="#3355BB" stroke-width="2.0" stroke-opacity="0.36"/><circle cx="847.1" cy="297.6" r="5.9" stroke="#3355BB" stroke-width="2.0" stroke-opacity="0.36"/><circle cx="846.8" cy="295.9" r="5.9" stroke="#3355BB" stroke-width="2.0" stroke-opacity="0.36"/><circle cx="847.5" cy="287.8" r="5.9" stroke="#3355BB" stroke-width="2.0" stroke-opacity="0.36"/><circle cx="847.6" cy="296.3" r="5.9" stroke="#3355BB" stroke-width="2.0" stroke-opacity="0.36"/><circle cx="847.2" cy="293.0" r="5.9" stroke="#3355BB" stroke-width="2.0" stroke-opacity="0.36"/><circle cx="847.3" cy="292.8" r="5.9" stroke="#3355BB" stroke-width="2.0" stroke-opacity="0.36"/><circle cx="851.0" cy="292.5" r="5.9" stroke="#3355BB" stroke-width="2.0" stroke-opacity="0.36"/><circle cx="851.9" cy="293.7" r="5.9" stroke="#3355BB" stroke-width="2.0" stroke-opacity="0.36"/><circle cx="851.2" cy="298.2" r="5.9" stroke="#3355BB" stroke-width="2.0" stroke-opacity="0.36"/><circle cx="851.4" cy="289.5" r="5.9" stroke="#3355BB" stroke-width="2.0" stroke-opacity="0.36"/><circle cx="851.6" cy="289.4" r="5.9" stroke="#3355BB" stroke-width="2.0" stroke-opacity="0.36"/><circle cx="851.6" cy="295.5" r="5.9" stroke="#3355BB" stroke-width="2.0" stroke-opacity="0.36"/><circle cx="851.1" cy="291.1" r="5.9" stroke="#3355BB" stroke-width="2.0" stroke-opacity="0.36"/><circle cx="851.6" cy="290.0" r="5.9" stroke="#3355BB" stroke-width="2.0" stroke-opacity="0.36"/><circle cx="851.9" cy="296.1" r="5.9" stroke="#3355BB" stroke-width="2.0" stroke-opacity="0.36"/><circle cx="855.4" cy="295.0" r="5.9" stroke="#3355BB" stroke-width="2.0" stroke-opacity="0.36"/><circle cx="855.9" cy="292.4" r="5.9" stroke="#3355BB" stroke-width="2.0" stroke-opacity="0.36"/><circle cx="856.0" cy="293.0" r="5.9" stroke="#3355BB" stroke-width="2.0" stroke-opacity="0.36"/><circle cx="855.7" cy="292.6" r="5.9" stroke="#3355BB" stroke-width="2.0" stroke-opacity="0.36"/><circle cx="855.9" cy="287.9" r="5.9" stroke="#3355BB" stroke-width="2.0" stroke-opacity="0.36"/><circle cx="855.9" cy="289.3" r="5.9" stroke="#3355BB" stroke-width="2.0" stroke-opacity="0.36"/><circle cx="855.5" cy="297.6" r="5.9" stroke="#3355BB" stroke-width="2.0" stroke-opacity="0.36"/><circle cx="855.5" cy="295.3" r="5.9" stroke="#3355BB" stroke-width="2.0" stroke-opacity="0.36"/><circle cx="855.5" cy="299.8" r="5.9" stroke="#3355BB" stroke-width="2.0" stroke-opacity="0.36"/><circle cx="860.7" cy="292.7" r="5.9" stroke="#3355BB" stroke-width="2.0" stroke-opacity="0.36"/><circle cx="860.6" cy="299.7" r="5.9" stroke="#3355BB" stroke-width="2.0" stroke-opacity="0.36"/><circle cx="859.7" cy="293.2" r="5.9" stroke="#3355BB" stroke-width="2.0" stroke-opacity="0.36"/><circle cx="859.7" cy="291.5" r="5.9" stroke="#3355BB" stroke-width="2.0" stroke-opacity="0.36"/><circle cx="860.1" cy="294.8" r="5.9" stroke="#3355BB" stroke-width="2.0" stroke-opacity="0.36"/><circle cx="860.0" cy="291.1" r="5.9" stroke="#3355BB" stroke-width="2.0" stroke-opacity="0.36"/><circle cx="860.1" cy="300.1" r="5.9" stroke="#3355BB" stroke-width="2.0" stroke-opacity="0.36"/><circle cx="859.9" cy="297.0" r="5.9" stroke="#3355BB" stroke-width="2.0" stroke-opacity="0.36"/><circle cx="859.8" cy="297.8" r="5.9" stroke="#3355BB" stroke-width="2.0" stroke-opacity="0.36"/><circle cx="864.5" cy="300.9" r="5.9" stroke="#3355BB" stroke-width="2.0" stroke-opacity="0.36"/><circle cx="863.9" cy="297.8" r="5.9" stroke="#3355BB" stroke-width="2.0" stroke-opacity="0.36"/><circle cx="864.3" cy="294.3" r="5.9" stroke="#3355BB" stroke-width="2.0" stroke-opacity="0.36"/><circle cx="864.2" cy="300.7" r="5.9" stroke="#3355BB" stroke-width="2.0" stroke-opacity="0.36"/><circle cx="864.1" cy="297.5" r="5.9" stroke="#3355BB" stroke-width="2.0" stroke-opacity="0.36"/><circle cx="863.8" cy="301.5" r="5.9" stroke="#3355BB" stroke-width="2.0" stroke-opacity="0.36"/><circle cx="864.8" cy="298.2" r="5.9" stroke="#3355BB" stroke-width="2.0" stroke-opacity="0.36"/><circle cx="864.4" cy="294.2" r="5.9" stroke="#3355BB" stroke-width="2.0" stroke-opacity="0.36"/><circle cx="864.3" cy="297.8" r="5.9" stroke="#3355BB" stroke-width="2.0" stroke-opacity="0.36"/><circle cx="868.7" cy="302.1" r="5.9" stroke="#3355BB" stroke-width="2.0" stroke-opacity="0.36"/><circle cx="868.5" cy="301.8" r="5.9" stroke="#3355BB" stroke-width="2.0" stroke-opacity="0.36"/><circle cx="868.5" cy="293.2" r="5.9" stroke="#3355BB" stroke-width="2.0" stroke-opacity="0.36"/><circle cx="868.3" cy="294.6" r="5.9" stroke="#3355BB" stroke-width="2.0" stroke-opacity="0.36"/><circle cx="869.2" cy="301.0" r="5.9" stroke="#3355BB" stroke-width="2.0" stroke-opacity="0.36"/><circle cx="869.0" cy="295.1" r="5.9" stroke="#3355BB" stroke-width="2.0" stroke-opacity="0.36"/><circle cx="868.4" cy="295.8" r="5.9" stroke="#3355BB" stroke-width="2.0" stroke-opacity="0.36"/><circle cx="868.9" cy="293.4" r="5.9" stroke="#3355BB" stroke-width="2.0" stroke-opacity="0.36"/><circle cx="868.7" cy="295.8" r="5.9" stroke="#3355BB" stroke-width="2.0" stroke-opacity="0.36"/><circle cx="873.3" cy="301.0" r="5.9" stroke="#3355BB" stroke-width="2.0" stroke-opacity="0.36"/><circle cx="872.6" cy="297.0" r="5.9" stroke="#3355BB" stroke-width="2.0" stroke-opacity="0.36"/><circle cx="873.4" cy="303.9" r="5.9" stroke="#3355BB" stroke-width="2.0" stroke-opacity="0.36"/><circle cx="873.0" cy="303.2" r="5.9" stroke="#3355BB" stroke-width="2.0" stroke-opacity="0.36"/><circle cx="872.7" cy="298.2" r="5.9" stroke="#3355BB" stroke-width="2.0" stroke-opacity="0.36"/><circle cx="873.2" cy="293.6" r="5.9" stroke="#3355BB" stroke-width="2.0" stroke-opacity="0.36"/><circle cx="873.0" cy="303.5" r="5.9" stroke="#3355BB" stroke-width="2.0" stroke-opacity="0.36"/><circle cx="872.7" cy="293.4" r="5.9" stroke="#3355BB" stroke-width="2.0" stroke-opacity="0.36"/><circle cx="873.2" cy="301.2" r="5.9" stroke="#3355BB" stroke-width="2.0" stroke-opacity="0.36"/><circle cx="877.0" cy="299.4" r="5.9" stroke="#3355BB" stroke-width="2.0" stroke-opacity="0.36"/><circle cx="877.1" cy="296.5" r="5.9" stroke="#3355BB" stroke-width="2.0" stroke-opacity="0.36"/><circle cx="877.6" cy="298.0" r="5.9" stroke="#3355BB" stroke-width="2.0" stroke-opacity="0.36"/><circle cx="877.6" cy="303.3" r="5.9" stroke="#3355BB" stroke-width="2.0" stroke-opacity="0.36"/><circle cx="876.8" cy="304.4" r="5.9" stroke="#3355BB" stroke-width="2.0" stroke-opacity="0.36"/><circle cx="876.9" cy="303.4" r="5.9" stroke="#3355BB" stroke-width="2.0" stroke-opacity="0.36"/><circle cx="876.8" cy="302.4" r="5.9" stroke="#3355BB" stroke-width="2.0" stroke-opacity="0.36"/><circle cx="877.2" cy="301.7" r="5.9" stroke="#3355BB" stroke-width="2.0" stroke-opacity="0.36"/><circle cx="877.6" cy="304.3" r="5.9" stroke="#3355BB" stroke-width="2.0" stroke-opacity="0.36"/><circle cx="881.1" cy="299.8" r="5.9" stroke="#3355BB" stroke-width="2.0" stroke-opacity="0.36"/><circle cx="882.2" cy="303.2" r="5.9" stroke="#3355BB" stroke-width="2.0" stroke-opacity="0.36"/><circle cx="882.0" cy="304.5" r="5.9" stroke="#3355BB" stroke-width="2.0" stroke-opacity="0.36"/><circle cx="881.9" cy="298.7" r="5.9" stroke="#3355BB" stroke-width="2.0" stroke-opacity="0.36"/><circle cx="881.6" cy="306.9" r="5.9" stroke="#3355BB" stroke-width="2.0" stroke-opacity="0.36"/><circle cx="881.5" cy="306.5" r="5.9" stroke="#3355BB" stroke-width="2.0" stroke-opacity="0.36"/><circle cx="882.0" cy="307.7" r="5.9" stroke="#3355BB" stroke-width="2.0" stroke-opacity="0.36"/><circle cx="881.2" cy="308.8" r="5.9" stroke="#3355BB" stroke-width="2.0" stroke-opacity="0.36"/><circle cx="881.7" cy="300.1" r="5.9" stroke="#3355BB" stroke-width="2.0" stroke-opacity="0.36"/><circle cx="886.3" cy="303.6" r="5.9" stroke="#3355BB" stroke-width="2.0" stroke-opacity="0.36"/><circle cx="885.7" cy="305.5" r="5.9" stroke="#3355BB" stroke-width="2.0" stroke-opacity="0.36"/><circle cx="885.9" cy="302.6" r="5.9" stroke="#3355BB" stroke-width="2.0" stroke-opacity="0.36"/><circle cx="886.3" cy="310.3" r="5.9" stroke="#3355BB" stroke-width="2.0" stroke-opacity="0.36"/><circle cx="885.7" cy="312.1" r="5.9" stroke="#3355BB" stroke-width="2.0" stroke-opacity="0.36"/><circle cx="885.4" cy="302.0" r="5.9" stroke="#3355BB" stroke-width="2.0" stroke-opacity="0.36"/><circle cx="886.2" cy="303.4" r="5.9" stroke="#3355BB" stroke-width="2.0" stroke-opacity="0.36"/><circle cx="885.6" cy="300.8" r="5.9" stroke="#3355BB" stroke-width="2.0" stroke-opacity="0.36"/><circle cx="885.7" cy="301.4" r="5.9" stroke="#3355BB" stroke-width="2.0" stroke-opacity="0.36"/><circle cx="890.4" cy="303.4" r="5.9" stroke="#3355BB" stroke-width="2.0" stroke-opacity="0.36"/><circle cx="890.1" cy="314.0" r="5.9" stroke="#3355BB" stroke-width="2.0" stroke-opacity="0.36"/><circle cx="890.3" cy="307.3" r="5.9" stroke="#3355BB" stroke-width="2.0" stroke-opacity="0.36"/><circle cx="889.7" cy="314.8" r="5.9" stroke="#3355BB" stroke-width="2.0" stroke-opacity="0.36"/><circle cx="889.6" cy="309.3" r="5.9" stroke="#3355BB" stroke-width="2.0" stroke-opacity="0.36"/><circle cx="890.0" cy="312.6" r="5.9" stroke="#3355BB" stroke-width="2.0" stroke-opacity="0.36"/><circle cx="890.3" cy="314.6" r="5.9" stroke="#3355BB" stroke-width="2.0" stroke-opacity="0.36"/><circle cx="890.7" cy="312.1" r="5.9" stroke="#3355BB" stroke-width="2.0" stroke-opacity="0.36"/><circle cx="890.2" cy="309.8" r="5.9" stroke="#3355BB" stroke-width="2.0" stroke-opacity="0.36"/><circle cx="895.0" cy="315.5" r="5.9" stroke="#3355BB" stroke-width="2.0" stroke-opacity="0.36"/><circle cx="894.8" cy="317.9" r="5.9" stroke="#3355BB" stroke-width="2.0" stroke-opacity="0.36"/><circle cx="894.3" cy="316.6" r="5.9" stroke="#3355BB" stroke-width="2.0" stroke-opacity="0.36"/><circle cx="894.8" cy="311.2" r="5.9" stroke="#3355BB" stroke-width="2.0" stroke-opacity="0.36"/><circle cx="894.8" cy="307.9" r="5.9" stroke="#3355BB" stroke-width="2.0" stroke-opacity="0.36"/><circle cx="893.9" cy="317.1" r="5.9" stroke="#3355BB" stroke-width="2.0" stroke-opacity="0.36"/><circle cx="895.1" cy="311.8" r="5.9" stroke="#3355BB" stroke-width="2.0" stroke-opacity="0.36"/><circle cx="894.4" cy="309.4" r="5.9" stroke="#3355BB" stroke-width="2.0" stroke-opacity="0.36"/><circle cx="895.0" cy="309.8" r="5.9" stroke="#3355BB" stroke-width="2.0" stroke-opacity="0.36"/><circle cx="899.0" cy="320.4" r="5.9" stroke="#3355BB" stroke-width="2.0" stroke-opacity="0.36"/><circle cx="898.7" cy="322.1" r="5.9" stroke="#3355BB" stroke-width="2.0" stroke-opacity="0.36"/><circle cx="898.6" cy="319.9" r="5.9" stroke="#3355BB" stroke-width="2.0" stroke-opacity="0.36"/><circle cx="898.5" cy="316.4" r="5.9" stroke="#3355BB" stroke-width="2.0" stroke-opacity="0.36"/><circle cx="899.0" cy="313.6" r="5.9" stroke="#3355BB" stroke-width="2.0" stroke-opacity="0.36"/><circle cx="899.2" cy="321.9" r="5.9" stroke="#3355BB" stroke-width="2.0" stroke-opacity="0.36"/><circle cx="898.5" cy="316.5" r="5.9" stroke="#3355BB" stroke-width="2.0" stroke-opacity="0.36"/><circle cx="898.2" cy="315.5" r="5.9" stroke="#3355BB" stroke-width="2.0" stroke-opacity="0.36"/><circle cx="898.9" cy="312.5" r="5.9" stroke="#3355BB" stroke-width="2.0" stroke-opacity="0.36"/><circle cx="903.7" cy="317.4" r="5.9" stroke="#3355BB" stroke-width="2.0" stroke-opacity="0.36"/><circle cx="903.1" cy="315.4" r="5.9" stroke="#3355BB" stroke-width="2.0" stroke-opacity="0.36"/><circle cx="902.9" cy="325.0" r="5.9" stroke="#3355BB" stroke-width="2.0" stroke-opacity="0.36"/><circle cx="903.0" cy="325.6" r="5.9" stroke="#3355BB" stroke-width="2.0" stroke-opacity="0.36"/><circle cx="903.5" cy="320.5" r="5.9" stroke="#3355BB" stroke-width="2.0" stroke-opacity="0.36"/><circle cx="902.7" cy="325.0" r="5.9" stroke="#3355BB" stroke-width="2.0" stroke-opacity="0.36"/><circle cx="903.6" cy="318.3" r="5.9" stroke="#3355BB" stroke-width="2.0" stroke-opacity="0.36"/><circle cx="902.6" cy="325.5" r="5.9" stroke="#3355BB" stroke-width="2.0" stroke-opacity="0.36"/><circle cx="903.2" cy="318.5" r="5.9" stroke="#3355BB" stroke-width="2.0" stroke-opacity="0.36"/><circle cx="907.0" cy="326.5" r="5.9" stroke="#3355BB" stroke-width="2.0" stroke-opacity="0.36"/><circle cx="907.9" cy="322.6" r="5.9" stroke="#3355BB" stroke-width="2.0" stroke-opacity="0.36"/><circle cx="907.7" cy="323.6" r="5.9" stroke="#3355BB" stroke-width="2.0" stroke-opacity="0.36"/><circle cx="907.5" cy="325.9" r="5.9" stroke="#3355BB" stroke-width="2.0" stroke-opacity="0.36"/><circle cx="907.5" cy="322.2" r="5.9" stroke="#3355BB" stroke-width="2.0" stroke-opacity="0.36"/><circle cx="907.8" cy="332.4" r="5.9" stroke="#3355BB" stroke-width="2.0" stroke-opacity="0.36"/><circle cx="907.4" cy="325.4" r="5.9" stroke="#3355BB" stroke-width="2.0" stroke-opacity="0.36"/><circle cx="907.7" cy="322.6" r="5.9" stroke="#3355BB" stroke-width="2.0" stroke-opacity="0.36"/><circle cx="906.9" cy="329.1" r="5.9" stroke="#3355BB" stroke-width="2.0" stroke-opacity="0.36"/><circle cx="576.0" cy="300.0" r="5.9" stroke="#3355BB" stroke-width="2.0" stroke-opacity="0.35"/><circle cx="582.0" cy="310.0" r="5.9" stroke="#3355BB" stroke-width="2.0" stroke-opacity="0.35"/><circle cx="588.0" cy="318.0" r="5.9" stroke="#3355BB" stroke-width="2.0" stroke-opacity="0.35"/><circle cx="596.0" cy="325.0" r="5.9" stroke="#3355BB" stroke-width="2.0" stroke-opacity="0.35"/><circle cx="602.0" cy="330.0" r="5.9" stroke="#3355BB" stroke-width="2.0" stroke-opacity="0.35"/><circle cx="608.0" cy="320.0" r="5.9" stroke="#3355BB" stroke-width="2.0" stroke-opacity="0.35"/><circle cx="616.0" cy="312.0" r="5.9" stroke="#3355BB" stroke-width="2.0" stroke-opacity="0.35"/><circle cx="570.0" cy="292.0" r="5.9" stroke="#3355BB" stroke-width="2.0" stroke-opacity="0.35"/><circle cx="585.0" cy="295.0" r="5.9" stroke="#3355BB" stroke-width="2.0" stroke-opacity="0.35"/><circle cx="598.0" cy="306.0" r="5.9" stroke="#3355BB" stroke-width="2.0" stroke-opacity="0.35"/><circle cx="612.0" cy="300.0" r="5.9" stroke="#3355BB" stroke-width="2.0" stroke-opacity="0.35"/><circle cx="592.0" cy="288.0" r="5.9" stroke="#3355BB" stroke-width="2.0" stroke-opacity="0.35"/><circle cx="890.8" cy="280.4" r="5.9" stroke="#A6722A" stroke-width="2.0" stroke-opacity="0.40"/><circle cx="893.4" cy="270.1" r="5.9" stroke="#A6722A" stroke-width="2.0" stroke-opacity="0.40"/><circle cx="895.9" cy="257.7" r="5.9" stroke="#A6722A" stroke-width="2.0" stroke-opacity="0.40"/><circle cx="902.0" cy="243.9" r="5.9" stroke="#A6722A" stroke-width="2.0" stroke-opacity="0.40"/><circle cx="905.9" cy="234.3" r="5.9" stroke="#A6722A" stroke-width="2.0" stroke-opacity="0.40"/><circle cx="909.8" cy="220.1" r="5.9" stroke="#A6722A" stroke-width="2.0" stroke-opacity="0.40"/><circle cx="913.4" cy="208.4" r="5.9" stroke="#A6722A" stroke-width="2.0" stroke-opacity="0.40"/><circle cx="918.4" cy="195.8" r="5.9" stroke="#A6722A" stroke-width="2.0" stroke-opacity="0.40"/><circle cx="922.2" cy="186.8" r="5.9" stroke="#A6722A" stroke-width="2.0" stroke-opacity="0.40"/><circle cx="927.4" cy="179.8" r="5.9" stroke="#A6722A" stroke-width="2.0" stroke-opacity="0.40"/><circle cx="930.8" cy="171.2" r="5.9" stroke="#A6722A" stroke-width="2.0" stroke-opacity="0.40"/><circle cx="935.5" cy="163.1" r="5.9" stroke="#A6722A" stroke-width="2.0" stroke-opacity="0.40"/><circle cx="939.0" cy="155.4" r="5.9" stroke="#A6722A" stroke-width="2.0" stroke-opacity="0.40"/><circle cx="943.9" cy="151.7" r="5.9" stroke="#A6722A" stroke-width="2.0" stroke-opacity="0.40"/><circle cx="947.8" cy="146.6" r="5.9" stroke="#A6722A" stroke-width="2.0" stroke-opacity="0.40"/><circle cx="951.6" cy="143.2" r="5.9" stroke="#A6722A" stroke-width="2.0" stroke-opacity="0.40"/><circle cx="956.1" cy="137.4" r="5.9" stroke="#A6722A" stroke-width="2.0" stroke-opacity="0.40"/><circle cx="961.8" cy="134.0" r="5.9" stroke="#A6722A" stroke-width="2.0" stroke-opacity="0.40"/><circle cx="966.2" cy="132.4" r="5.9" stroke="#A6722A" stroke-width="2.0" stroke-opacity="0.40"/><circle cx="895.7" cy="288.5" r="5.9" stroke="#A6722A" stroke-width="2.0" stroke-opacity="0.40"/><circle cx="898.5" cy="277.5" r="5.9" stroke="#A6722A" stroke-width="2.0" stroke-opacity="0.40"/><circle cx="901.4" cy="262.7" r="5.9" stroke="#A6722A" stroke-width="2.0" stroke-opacity="0.40"/><circle cx="905.9" cy="249.4" r="5.9" stroke="#A6722A" stroke-width="2.0" stroke-opacity="0.40"/><circle cx="909.9" cy="237.0" r="5.9" stroke="#A6722A" stroke-width="2.0" stroke-opacity="0.40"/><circle cx="913.4" cy="227.3" r="5.9" stroke="#A6722A" stroke-width="2.0" stroke-opacity="0.40"/><circle cx="918.7" cy="214.9" r="5.9" stroke="#A6722A" stroke-width="2.0" stroke-opacity="0.40"/><circle cx="923.4" cy="202.4" r="5.9" stroke="#A6722A" stroke-width="2.0" stroke-opacity="0.40"/><circle cx="926.5" cy="194.1" r="5.9" stroke="#A6722A" stroke-width="2.0" stroke-opacity="0.40"/><circle cx="931.1" cy="185.9" r="5.9" stroke="#A6722A" stroke-width="2.0" stroke-opacity="0.40"/><circle cx="934.8" cy="178.3" r="5.9" stroke="#A6722A" stroke-width="2.0" stroke-opacity="0.40"/><circle cx="939.2" cy="168.6" r="5.9" stroke="#A6722A" stroke-width="2.0" stroke-opacity="0.40"/><circle cx="943.7" cy="163.8" r="5.9" stroke="#A6722A" stroke-width="2.0" stroke-opacity="0.40"/><circle cx="947.8" cy="159.3" r="5.9" stroke="#A6722A" stroke-width="2.0" stroke-opacity="0.40"/><circle cx="953.0" cy="151.0" r="5.9" stroke="#A6722A" stroke-width="2.0" stroke-opacity="0.40"/><circle cx="957.2" cy="147.2" r="5.9" stroke="#A6722A" stroke-width="2.0" stroke-opacity="0.40"/><circle cx="961.4" cy="143.5" r="5.9" stroke="#A6722A" stroke-width="2.0" stroke-opacity="0.40"/><circle cx="966.7" cy="138.7" r="5.9" stroke="#A6722A" stroke-width="2.0" stroke-opacity="0.40"/><circle cx="901.3" cy="290.4" r="5.9" stroke="#A6722A" stroke-width="2.0" stroke-opacity="0.40"/><circle cx="902.9" cy="278.9" r="5.9" stroke="#A6722A" stroke-width="2.0" stroke-opacity="0.40"/><circle cx="906.8" cy="266.2" r="5.9" stroke="#A6722A" stroke-width="2.0" stroke-opacity="0.40"/><circle cx="911.3" cy="255.4" r="5.9" stroke="#A6722A" stroke-width="2.0" stroke-opacity="0.40"/><circle cx="915.5" cy="243.3" r="5.9" stroke="#A6722A" stroke-width="2.0" stroke-opacity="0.40"/><circle cx="919.8" cy="227.6" r="5.9" stroke="#A6722A" stroke-width="2.0" stroke-opacity="0.40"/><circle cx="924.9" cy="217.0" r="5.9" stroke="#A6722A" stroke-width="2.0" stroke-opacity="0.40"/><circle cx="928.0" cy="206.3" r="5.9" stroke="#A6722A" stroke-width="2.0" stroke-opacity="0.40"/><circle cx="932.4" cy="199.9" r="5.9" stroke="#A6722A" stroke-width="2.0" stroke-opacity="0.40"/><circle cx="936.4" cy="192.5" r="5.9" stroke="#A6722A" stroke-width="2.0" stroke-opacity="0.40"/><circle cx="940.3" cy="184.6" r="5.9" stroke="#A6722A" stroke-width="2.0" stroke-opacity="0.40"/><circle cx="945.9" cy="173.5" r="5.9" stroke="#A6722A" stroke-width="2.0" stroke-opacity="0.40"/><circle cx="948.8" cy="166.4" r="5.9" stroke="#A6722A" stroke-width="2.0" stroke-opacity="0.40"/><circle cx="954.1" cy="161.1" r="5.9" stroke="#A6722A" stroke-width="2.0" stroke-opacity="0.40"/><circle cx="959.3" cy="154.5" r="5.9" stroke="#A6722A" stroke-width="2.0" stroke-opacity="0.40"/><circle cx="963.4" cy="149.5" r="5.9" stroke="#A6722A" stroke-width="2.0" stroke-opacity="0.40"/><circle cx="966.1" cy="144.7" r="5.9" stroke="#A6722A" stroke-width="2.0" stroke-opacity="0.40"/><circle cx="905.3" cy="297.4" r="5.9" stroke="#A6722A" stroke-width="2.0" stroke-opacity="0.40"/><circle cx="907.6" cy="283.8" r="5.9" stroke="#A6722A" stroke-width="2.0" stroke-opacity="0.40"/><circle cx="912.1" cy="272.9" r="5.9" stroke="#A6722A" stroke-width="2.0" stroke-opacity="0.40"/><circle cx="915.5" cy="259.6" r="5.9" stroke="#A6722A" stroke-width="2.0" stroke-opacity="0.40"/><circle cx="921.2" cy="247.5" r="5.9" stroke="#A6722A" stroke-width="2.0" stroke-opacity="0.40"/><circle cx="924.3" cy="234.4" r="5.9" stroke="#A6722A" stroke-width="2.0" stroke-opacity="0.40"/><circle cx="927.6" cy="225.0" r="5.9" stroke="#A6722A" stroke-width="2.0" stroke-opacity="0.40"/><circle cx="932.4" cy="215.9" r="5.9" stroke="#A6722A" stroke-width="2.0" stroke-opacity="0.40"/><circle cx="936.8" cy="205.5" r="5.9" stroke="#A6722A" stroke-width="2.0" stroke-opacity="0.40"/><circle cx="941.9" cy="198.3" r="5.9" stroke="#A6722A" stroke-width="2.0" stroke-opacity="0.40"/><circle cx="945.7" cy="190.0" r="5.9" stroke="#A6722A" stroke-width="2.0" stroke-opacity="0.40"/><circle cx="950.5" cy="181.9" r="5.9" stroke="#A6722A" stroke-width="2.0" stroke-opacity="0.40"/><circle cx="955.2" cy="174.6" r="5.9" stroke="#A6722A" stroke-width="2.0" stroke-opacity="0.40"/><circle cx="958.6" cy="164.4" r="5.9" stroke="#A6722A" stroke-width="2.0" stroke-opacity="0.40"/><circle cx="962.5" cy="158.1" r="5.9" stroke="#A6722A" stroke-width="2.0" stroke-opacity="0.40"/><circle cx="967.6" cy="148.8" r="5.9" stroke="#A6722A" stroke-width="2.0" stroke-opacity="0.40"/><circle cx="910.6" cy="303.7" r="5.9" stroke="#A6722A" stroke-width="2.0" stroke-opacity="0.40"/><circle cx="912.3" cy="293.1" r="5.9" stroke="#A6722A" stroke-width="2.0" stroke-opacity="0.40"/><circle cx="916.7" cy="277.9" r="5.9" stroke="#A6722A" stroke-width="2.0" stroke-opacity="0.40"/><circle cx="920.3" cy="267.2" r="5.9" stroke="#A6722A" stroke-width="2.0" stroke-opacity="0.40"/><circle cx="924.0" cy="254.6" r="5.9" stroke="#A6722A" stroke-width="2.0" stroke-opacity="0.40"/><circle cx="929.3" cy="240.8" r="5.9" stroke="#A6722A" stroke-width="2.0" stroke-opacity="0.40"/><circle cx="933.1" cy="232.6" r="5.9" stroke="#A6722A" stroke-width="2.0" stroke-opacity="0.40"/><circle cx="937.9" cy="221.8" r="5.9" stroke="#A6722A" stroke-width="2.0" stroke-opacity="0.40"/><circle cx="940.9" cy="215.3" r="5.9" stroke="#A6722A" stroke-width="2.0" stroke-opacity="0.40"/><circle cx="947.0" cy="206.2" r="5.9" stroke="#A6722A" stroke-width="2.0" stroke-opacity="0.40"/><circle cx="949.8" cy="196.9" r="5.9" stroke="#A6722A" stroke-width="2.0" stroke-opacity="0.40"/><circle cx="955.2" cy="188.2" r="5.9" stroke="#A6722A" stroke-width="2.0" stroke-opacity="0.40"/><circle cx="959.8" cy="179.9" r="5.9" stroke="#A6722A" stroke-width="2.0" stroke-opacity="0.40"/><circle cx="962.2" cy="170.3" r="5.9" stroke="#A6722A" stroke-width="2.0" stroke-opacity="0.40"/><circle cx="968.4" cy="162.9" r="5.9" stroke="#A6722A" stroke-width="2.0" stroke-opacity="0.40"/><circle cx="963.8" cy="138.2" r="5.9" stroke="#A6722A" stroke-width="2.0" stroke-opacity="0.38"/><circle cx="949.8" cy="171.3" r="5.9" stroke="#A6722A" stroke-width="2.0" stroke-opacity="0.38"/><circle cx="959.4" cy="177.2" r="5.9" stroke="#A6722A" stroke-width="2.0" stroke-opacity="0.38"/><circle cx="960.8" cy="183.1" r="5.9" stroke="#A6722A" stroke-width="2.0" stroke-opacity="0.38"/><circle cx="953.8" cy="176.6" r="5.9" stroke="#A6722A" stroke-width="2.0" stroke-opacity="0.38"/><circle cx="959.9" cy="156.4" r="5.9" stroke="#A6722A" stroke-width="2.0" stroke-opacity="0.38"/><circle cx="934.6" cy="197.6" r="5.9" stroke="#A6722A" stroke-width="2.0" stroke-opacity="0.38"/><circle cx="936.7" cy="220.4" r="5.9" stroke="#A6722A" stroke-width="2.0" stroke-opacity="0.38"/><circle cx="957.7" cy="168.1" r="5.9" stroke="#A6722A" stroke-width="2.0" stroke-opacity="0.38"/><circle cx="970.3" cy="133.0" r="5.9" stroke="#A6722A" stroke-width="2.0" stroke-opacity="0.38"/><circle cx="968.3" cy="145.9" r="5.9" stroke="#A6722A" stroke-width="2.0" stroke-opacity="0.38"/><circle cx="949.4" cy="175.1" r="5.9" stroke="#A6722A" stroke-width="2.0" stroke-opacity="0.38"/><circle cx="955.6" cy="173.0" r="5.9" stroke="#A6722A" stroke-width="2.0" stroke-opacity="0.38"/><circle cx="959.9" cy="146.8" r="5.9" stroke="#A6722A" stroke-width="2.0" stroke-opacity="0.38"/><circle cx="949.6" cy="195.7" r="5.9" stroke="#A6722A" stroke-width="2.0" stroke-opacity="0.38"/><circle cx="941.7" cy="184.4" r="5.9" stroke="#A6722A" stroke-width="2.0" stroke-opacity="0.38"/><circle cx="965.8" cy="144.3" r="5.9" stroke="#A6722A" stroke-width="2.0" stroke-opacity="0.38"/><circle cx="964.1" cy="172.1" r="5.9" stroke="#A6722A" stroke-width="2.0" stroke-opacity="0.38"/><circle cx="945.7" cy="188.3" r="5.9" stroke="#A6722A" stroke-width="2.0" stroke-opacity="0.38"/><circle cx="949.7" cy="191.8" r="5.9" stroke="#A6722A" stroke-width="2.0" stroke-opacity="0.38"/><circle cx="955.5" cy="212.9" r="5.9" stroke="#A6722A" stroke-width="2.0" stroke-opacity="0.38"/><circle cx="969.1" cy="155.7" r="5.9" stroke="#A6722A" stroke-width="2.0" stroke-opacity="0.38"/><circle cx="936.6" cy="208.4" r="5.9" stroke="#A6722A" stroke-width="2.0" stroke-opacity="0.38"/><circle cx="963.1" cy="142.0" r="5.9" stroke="#A6722A" stroke-width="2.0" stroke-opacity="0.38"/><circle cx="933.0" cy="206.7" r="5.9" stroke="#A6722A" stroke-width="2.0" stroke-opacity="0.38"/><circle cx="962.2" cy="183.7" r="5.9" stroke="#A6722A" stroke-width="2.0" stroke-opacity="0.38"/><circle cx="962.0" cy="184.4" r="5.9" stroke="#A6722A" stroke-width="2.0" stroke-opacity="0.38"/><circle cx="942.5" cy="208.4" r="5.9" stroke="#A6722A" stroke-width="2.0" stroke-opacity="0.38"/><circle cx="960.1" cy="150.0" r="5.9" stroke="#A6722A" stroke-width="2.0" stroke-opacity="0.38"/><circle cx="956.6" cy="186.6" r="5.9" stroke="#A6722A" stroke-width="2.0" stroke-opacity="0.38"/><circle cx="969.2" cy="142.8" r="5.9" stroke="#A6722A" stroke-width="2.0" stroke-opacity="0.38"/><circle cx="967.4" cy="152.7" r="5.9" stroke="#A6722A" stroke-width="2.0" stroke-opacity="0.38"/><circle cx="967.1" cy="161.2" r="5.9" stroke="#A6722A" stroke-width="2.0" stroke-opacity="0.38"/><circle cx="960.0" cy="165.0" r="5.9" stroke="#A6722A" stroke-width="2.0" stroke-opacity="0.38"/><circle cx="949.8" cy="210.1" r="5.9" stroke="#A6722A" stroke-width="2.0" stroke-opacity="0.38"/><circle cx="954.7" cy="159.2" r="5.9" stroke="#A6722A" stroke-width="2.0" stroke-opacity="0.38"/><circle cx="958.7" cy="162.0" r="5.9" stroke="#A6722A" stroke-width="2.0" stroke-opacity="0.38"/><circle cx="952.7" cy="165.6" r="5.9" stroke="#A6722A" stroke-width="2.0" stroke-opacity="0.38"/><circle cx="947.1" cy="192.9" r="5.9" stroke="#A6722A" stroke-width="2.0" stroke-opacity="0.38"/><circle cx="946.3" cy="180.6" r="5.9" stroke="#A6722A" stroke-width="2.0" stroke-opacity="0.38"/><circle cx="962.7" cy="161.2" r="5.9" stroke="#A6722A" stroke-width="2.0" stroke-opacity="0.38"/><circle cx="951.4" cy="168.5" r="5.9" stroke="#A6722A" stroke-width="2.0" stroke-opacity="0.38"/><circle cx="946.0" cy="193.2" r="5.9" stroke="#A6722A" stroke-width="2.0" stroke-opacity="0.38"/><circle cx="953.0" cy="175.5" r="5.9" stroke="#A6722A" stroke-width="2.0" stroke-opacity="0.38"/><circle cx="961.1" cy="151.7" r="5.9" stroke="#A6722A" stroke-width="2.0" stroke-opacity="0.38"/></g>
<path d="M111.2,931.6L113.3,936.6L115.3,941.4L117.3,945.9L119.3,950.2L121.3,954.2L123.3,958.1L125.3,961.6L127.3,965.0L129.3,968.1L131.3,971.1L133.3,973.9L135.3,976.4L137.3,978.9L139.3,981.1L141.3,983.2L143.3,985.1L145.3,986.9L147.3,988.6L149.3,990.1L151.3,991.6L153.3,992.9L155.3,994.1L157.3,995.3L159.3,996.3L161.3,997.3L163.3,998.3L165.3,999.1L167.3,1000.0L169.3,1000.8L171.3,1001.5L173.4,1002.3L175.4,1003.0L177.4,1003.7L179.4,1004.4L181.4,1005.2L183.4,1005.9L185.4,1006.7L187.4,1007.6L189.4,1008.5L191.4,1009.4L193.4,1010.4L195.4,1011.5L197.4,1012.6L199.4,1013.9L201.4,1015.2L203.4,1016.7L205.4,1018.2L207.4,1019.9L209.4,1021.8L211.4,1023.7L213.4,1025.9L215.4,1028.1L217.4,1030.6L219.4,1033.2L221.4,1035.9L223.4,1038.7L225.4,1041.7L227.4,1044.7L229.4,1047.8L231.4,1051.0L233.5,1054.2L235.5,1057.4L237.5,1060.6L239.5,1063.8L241.5,1067.0L243.5,1070.1L245.5,1073.2L247.5,1076.2L249.5,1079.1L251.5,1081.9L253.5,1084.5L255.5,1087.0L257.5,1089.4L259.5,1091.6L261.5,1093.6L263.5,1095.4L265.5,1096.9L267.5,1098.2L269.5,1099.3L271.5,1100.1L273.5,1100.6L275.5,1100.8L277.5,1100.6L279.5,1100.2L281.5,1099.3L283.5,1098.1L285.5,1096.5L287.5,1094.5L289.5,1092.1L291.5,1089.3L293.5,1086.1L295.6,1082.6L297.6,1078.7L299.6,1074.5L301.6,1070.1L303.6,1065.3L305.6,1060.4L307.6,1055.2L309.6,1049.8L311.6,1044.2L313.6,1038.5L315.6,1032.6L317.6,1026.7L319.6,1020.6L321.6,1014.5L323.6,1008.4L325.6,1002.2L327.6,996.0L329.6,989.9L331.6,983.7L333.6,977.7L335.6,971.8L337.6,965.9L339.6,960.2L341.6,954.7L343.6,949.3L345.6,944.1L347.6,939.0L349.6,934.0L351.6,929.1L353.6,924.3L355.7,919.7L357.7,915.0L359.7,910.5L361.7,906.0L363.7,901.5L365.7,897.0L367.7,892.6L369.7,888.2L371.7,883.8L373.7,879.4L375.7,875.1L377.7,870.9L379.7,866.8L381.7,862.9L383.7,858.9L385.7,855.0L387.7,851.1L389.7,847.2L391.7,843.3L393.7,839.2L395.7,835.0L397.7,830.6L399.7,826.1L401.7,821.4L403.7,816.4L405.7,811.3L407.7,806.1L409.7,800.8L411.7,795.4L413.7,790.0L415.7,784.6L417.8,779.2L419.8,773.8L421.8,768.6L423.8,763.5L425.8,758.5L427.8,753.7L429.8,749.2L431.8,744.8L433.8,740.8L435.8,736.9L437.8,733.4L439.8,730.2L441.8,727.2L443.8,724.6L445.8,722.3L447.8,720.4L449.8,718.8L451.8,717.6L453.8,716.8L455.8,716.4L457.8,716.4L459.8,716.9L461.8,717.8L463.8,719.1L465.8,721.0L467.8,723.3L469.8,726.0L471.8,729.1L473.8,732.6L475.8,736.4L477.9,740.6L479.9,745.0L481.9,749.6L483.9,754.5L485.9,759.5L487.9,764.7L489.9,770.0L491.9,775.6L493.9,781.2L495.9,787.0L497.9,793.0L499.9,799.1L501.9,805.3L503.9,811.6L505.9,818.0L507.9,824.5L509.9,831.0L511.9,837.6L513.9,844.2L515.9,850.7L517.9,857.1L519.9,863.4L521.9,869.6L523.9,875.6L525.9,881.4L527.9,886.9L529.9,892.2L531.9,897.2L533.9,901.9L535.9,906.4L538.0,910.6L540.0,914.6L542.0,918.3L544.0,921.8L546.0,925.2L548.0,928.3L550.0,931.2L552.0,933.9L554.0,936.5L556.0,938.9L558.0,941.1L560.0,943.2L562.0,945.1L564.0,946.9L566.0,948.6L568.0,950.2L570.0,951.7L572.0,953.1L574.0,954.4L576.0,955.6L578.0,956.8L580.0,957.9L582.0,958.9L584.0,959.9L586.0,960.9L588.0,961.8L590.0,962.7L592.0,963.5L594.0,964.3L596.0,965.1L598.0,965.9L600.1,966.7L602.1,967.4L604.1,968.1L606.1,968.8L608.1,969.6L610.1,970.3L612.1,971.0L614.1,971.7L616.1,972.4L618.1,973.2L620.1,974.0L622.1,974.8L624.1,975.6L626.1,976.4L628.1,977.2L630.1,978.0L632.1,978.8L634.1,979.5L636.1,980.3L638.1,981.0L640.1,981.7L642.1,982.4L644.1,983.0L646.1,983.5L648.1,984.0L650.1,984.5L652.1,984.9L654.1,985.2L656.1,985.4L658.1,985.6L660.2,985.6L662.2,985.6L664.2,985.5L666.2,985.3L668.2,984.9L670.2,984.5L672.2,984.0L674.2,983.4L676.2,982.6L678.2,981.8L680.2,980.9L682.2,980.0L684.2,978.9L686.2,977.8L688.2,976.5L690.2,975.2L692.2,973.9L694.2,972.4L696.2,970.9L698.2,969.4L700.2,967.7L702.2,966.0L704.2,964.3L706.2,962.4L708.2,960.6L710.2,958.7L712.2,956.7L714.2,954.7L716.2,952.6L718.2,950.5L720.2,948.4L722.3,946.2L724.3,944.0L726.3,941.7L728.3,939.4L730.3,937.1L732.3,934.8L734.3,932.4L736.3,930.0L738.3,927.6L740.3,925.2L742.3,922.8L744.3,920.4L746.3,917.9L748.3,915.5L750.3,913.0L752.3,910.5L754.3,908.1L756.3,905.6L758.3,903.2L760.3,900.7L762.3,898.3L764.3,895.9L766.3,893.5L768.3,891.1L770.3,888.7L772.3,886.4L774.3,884.1L776.3,881.9L778.3,879.7L780.3,877.6L782.4,875.6L784.4,873.6L786.4,871.7L788.4,870.0L790.4,868.3L792.4,866.7L794.4,865.3L796.4,864.0L798.4,862.8L800.4,861.7L802.4,860.8L804.4,860.0L806.4,859.4L808.4,859.0L810.4,858.7L812.4,858.7L814.4,858.8L816.4,859.0L818.4,859.5L820.4,860.1L822.4,860.9L824.4,861.9L826.4,862.9L828.4,864.2L830.4,865.6L832.4,867.1L834.4,868.7L836.4,870.5L838.4,872.4L840.4,874.4L842.4,876.5L844.5,878.7L846.5,881.1L848.5,883.5L850.5,886.0L852.5,888.6L854.5,891.3L856.5,894.1L858.5,896.9L860.5,899.9L862.5,902.9L864.5,906.0L866.5,909.1L868.5,912.3L870.5,915.6L872.5,919.0L874.5,922.4L876.5,925.9L878.5,929.4L880.5,933.0L882.5,936.6L884.5,940.2L886.5,944.0L888.5,947.7L890.5,951.5L892.5,955.3L894.5,959.2L896.5,963.0L898.5,966.9L900.5,970.9L902.5,974.8L904.6,978.8L906.6,982.7L908.6,986.7L910.6,990.7L912.6,994.7L914.6,998.7L916.6,1002.7L918.6,1006.7L920.6,1010.7L922.6,1014.7L924.6,1018.6L926.6,1022.6L928.6,1026.5L930.6,1030.5L932.6,1034.4L934.6,1038.3L936.6,1042.1L938.6,1046.0L940.6,1049.8L942.6,1053.5L944.6,1057.3L946.6,1061.0L948.6,1064.6L950.6,1068.2L952.6,1071.8L954.6,1075.3L956.6,1078.8L958.6,1082.2L960.6,1085.6L962.6,1088.9L964.6,1092.1" fill="none" stroke="#00A6FB" stroke-width="6.0" stroke-opacity="0.36" stroke-linejoin="round"/>
<path d="M112.5,912.9L114.5,912.6L116.5,912.0L118.5,911.1L120.5,909.9L122.5,908.4L124.5,906.7L126.5,904.8L128.5,902.7L130.5,900.3L132.5,897.8L134.5,895.1L136.5,892.3L138.5,889.4L140.5,886.3L142.5,883.1L144.5,879.8L146.5,876.5L148.5,873.1L150.5,869.7L152.5,866.2L154.5,862.8L156.5,859.3L158.5,855.9L160.5,852.5L162.5,849.2L164.5,845.9L166.5,842.8L168.5,839.7L170.5,836.7L172.5,833.7L174.5,830.9L176.5,828.1L178.5,825.4L180.5,822.8L182.5,820.3L184.5,817.8L186.5,815.4L188.5,813.0L190.5,810.8L192.5,808.6L194.5,806.4L196.5,804.4L198.5,802.4L200.5,800.4L202.5,798.6L204.5,796.7L206.5,795.0L208.5,793.3L210.5,791.6L212.5,790.0L214.5,788.5L216.5,787.0L218.5,785.6L220.5,784.2L222.5,782.9L224.5,781.7L226.5,780.5L228.5,779.5L230.5,778.4L232.5,777.5L234.6,776.7L236.6,775.9L238.6,775.3L240.6,774.7L242.6,774.3L244.6,773.9L246.6,773.7L248.6,773.6L250.6,773.6L252.6,773.7L254.6,774.0L256.6,774.3L258.6,774.8L260.6,775.5L262.6,776.3L264.6,777.2L266.6,778.3L268.6,779.5L270.6,780.9L272.6,782.4L274.6,784.1L276.6,785.9L278.6,787.8L280.6,789.9L282.6,792.0L284.6,794.3L286.6,796.6L288.6,799.0L290.6,801.4L292.6,803.9L294.6,806.4L296.6,808.9L298.6,811.5L300.6,814.1L302.6,816.6L304.6,819.2L306.6,821.7L308.6,824.1L310.6,826.6L312.6,828.9L314.6,831.2L316.6,833.4L318.6,835.5L320.6,837.5L322.6,839.5L324.6,841.4L326.6,843.2L328.6,844.9L330.6,846.6L332.6,848.2L334.6,849.7L336.6,851.2L338.6,852.6L340.6,853.9L342.6,855.3L344.6,856.5L346.6,857.7L348.6,858.9L350.6,860.0L352.6,861.0L354.6,862.1L356.7,863.1L358.7,864.0L360.7,865.0L362.7,865.9L364.7,866.7L366.7,867.6L368.7,868.4L370.7,869.2L372.7,870.0L374.7,870.8L376.7,871.6L378.7,872.4L380.7,873.1L382.7,873.9L384.7,874.6L386.7,875.4L388.7,876.1L390.7,876.9L392.7,877.7L394.7,878.5L396.7,879.2L398.7,880.1L400.7,880.9L402.7,881.8L404.7,882.6L406.7,883.5L408.7,884.5L410.7,885.5L412.7,886.5L414.7,887.6L416.7,888.7L418.7,889.9L420.7,891.2L422.7,892.5L424.7,893.9L426.7,895.4L428.7,897.0L430.7,898.7L432.7,900.5L434.7,902.4L436.7,904.5L438.7,906.6L440.7,908.9L442.7,911.3L444.7,913.8L446.7,916.5L448.7,919.2L450.7,922.0L452.7,924.9L454.7,927.9L456.7,930.9L458.7,933.9L460.7,936.9L462.7,940.0L464.7,943.0L466.7,946.0L468.7,949.0L470.7,952.0L472.7,954.9L474.7,957.8L476.7,960.7L478.8,963.5L480.8,966.2L482.8,968.9L484.8,971.5L486.8,974.0L488.8,976.4L490.8,978.7L492.8,980.9L494.8,983.1L496.8,985.1L498.8,987.0L500.8,988.7L502.8,990.4L504.8,991.8L506.8,993.2L508.8,994.4L510.8,995.4L512.8,996.2L514.8,996.8L516.8,997.3L518.8,997.5L520.8,997.5L522.8,997.2L524.8,996.7L526.8,996.0L528.8,994.9L530.8,993.6L532.8,992.0L534.8,990.1L536.8,987.9L538.8,985.3L540.8,982.4L542.8,979.2L544.8,975.6L546.8,971.6L548.8,967.2L550.8,962.5L552.8,957.3L554.8,951.8L556.8,945.9L558.8,939.6L560.8,933.0L562.8,926.0L564.8,918.8L566.8,911.5L568.8,904.0L570.8,896.7L572.8,889.5L574.8,882.4L576.8,875.4L578.8,868.5L580.8,861.5L582.8,854.6L584.8,847.6L586.8,840.5L588.8,833.3L590.8,826.0L592.8,818.4L594.8,810.6L596.8,802.8L598.8,794.9L600.9,787.3L602.9,780.1L604.9,773.6L606.9,767.7L608.9,762.5L610.9,758.0L612.9,754.1L614.9,750.9L616.9,748.3L618.9,746.2L620.9,744.8L622.9,743.9L624.9,743.6L626.9,743.9L628.9,744.6L630.9,745.9L632.9,747.7L634.9,749.9L636.9,752.7L638.9,755.8L640.9,759.5L642.9,763.5L644.9,767.9L646.9,772.8L648.9,778.0L650.9,783.6L652.9,789.5L654.9,795.7L656.9,802.1L658.9,808.8L660.9,815.6L662.9,822.7L664.9,829.8L666.9,837.0L668.9,844.2L670.9,851.5L672.9,858.8L674.9,866.2L676.9,873.7L678.9,881.5L680.9,889.5L682.9,897.6L684.9,905.7L686.9,913.5L688.9,920.9L690.9,927.9L692.9,934.3L694.9,940.4L696.9,946.2L698.9,951.7L700.9,957.1L702.9,962.3L704.9,967.5L706.9,972.7L708.9,977.8L710.9,982.9L712.9,987.9L714.9,992.7L716.9,997.3L718.9,1001.6L720.9,1005.7L723.0,1009.5L725.0,1012.8L727.0,1015.8L729.0,1018.4L731.0,1020.5L733.0,1022.2L735.0,1023.5L737.0,1024.4L739.0,1025.0L741.0,1025.3L743.0,1025.3L745.0,1025.0L747.0,1024.4L749.0,1023.6L751.0,1022.6L753.0,1021.3L755.0,1019.8L757.0,1018.0L759.0,1016.0L761.0,1013.8L763.0,1011.3L765.0,1008.6L767.0,1005.7L769.0,1002.5L771.0,999.2L773.0,995.5L775.0,991.7L777.0,987.6L779.0,983.3L781.0,978.7L783.0,974.0L785.0,969.0L787.0,963.8L789.0,958.3L791.0,952.6L793.0,946.7L795.0,940.6L797.0,934.3L799.0,927.8L801.0,921.0L803.0,914.2L805.0,907.2L807.0,900.1L809.0,892.9L811.0,885.6L813.0,878.3L815.0,871.0L817.0,863.7L819.0,856.5L821.0,849.3L823.0,842.2L825.0,835.1L827.0,828.3L829.0,821.5L831.0,815.0L833.0,808.6L835.0,802.4L837.0,796.5L839.0,790.9L841.0,785.6L843.0,780.5L845.1,775.7L847.1,771.1L849.1,766.8L851.1,762.7L853.1,758.9L855.1,755.2L857.1,751.8L859.1,748.6L861.1,745.5L863.1,742.6L865.1,739.9L867.1,737.4L869.1,735.0L871.1,732.7L873.1,730.6L875.1,728.6L877.1,726.7L879.1,724.9L881.1,723.1L883.1,721.5L885.1,719.9L887.1,718.4L889.1,717.0L891.1,715.6L893.1,714.2L895.1,712.8L897.1,711.5L899.1,710.1L901.1,708.8L903.1,707.4L905.1,706.0L907.1,704.6L909.1,703.1L911.1,701.6L913.1,700.0L915.1,698.4L917.1,696.7L919.1,695.0L921.1,693.2L923.1,691.5L925.1,689.8L927.1,688.2L929.1,686.5L931.1,685.0L933.1,683.5L935.1,682.1L937.1,680.8L939.1,679.7L941.1,678.7L943.1,677.8L945.1,677.1L947.1,676.6L949.1,676.3L951.1,676.2L953.1,676.3L955.1,676.7L957.1,677.3L959.1,678.2L961.1,679.4L963.1,680.9L965.1,682.7" fill="none" stroke="#3A4FC0" stroke-width="6.0" stroke-opacity="0.36" stroke-linejoin="round"/>
<path d="M111.4,988.4L113.4,981.0L115.4,973.0L117.4,964.4L119.4,955.5L121.4,946.5L123.4,937.5L125.4,928.6L127.4,920.1L129.4,911.8L131.4,903.8L133.4,896.0L135.4,888.3L137.4,880.7L139.4,873.1L141.4,865.5L143.4,857.8L145.4,850.0L147.4,842.1L149.4,833.9L151.4,825.7L153.4,817.5L155.4,809.6L157.4,802.1L159.4,795.3L161.4,789.1L163.4,783.9L165.4,779.3L167.4,775.5L169.4,772.2L171.4,769.5L173.4,767.2L175.4,765.3L177.4,763.7L179.4,762.5L181.4,761.7L183.4,761.1L185.4,760.9L187.4,761.0L189.4,761.3L191.4,762.0L193.4,762.8L195.4,764.0L197.4,765.4L199.4,767.0L201.4,768.8L203.4,770.8L205.4,772.9L207.4,775.2L209.4,777.6L211.4,780.1L213.4,782.6L215.4,785.1L217.4,787.5L219.4,789.9L221.4,792.2L223.4,794.4L225.4,796.5L227.4,798.3L229.4,799.9L231.4,801.3L233.4,802.4L235.4,803.2L237.4,803.8L239.4,804.1L241.4,804.2L243.4,804.1L245.4,803.7L247.4,803.2L249.4,802.5L251.4,801.6L253.4,800.6L255.4,799.4L257.4,798.1L259.4,796.6L261.4,795.1L263.4,793.4L265.4,791.6L267.4,789.8L269.4,787.9L271.4,786.0L273.4,784.1L275.4,782.1L277.4,780.2L279.4,778.2L281.4,776.4L283.4,774.5L285.4,772.8L287.4,771.1L289.4,769.6L291.4,768.1L293.4,766.8L295.4,765.7L297.4,764.7L299.4,763.9L301.4,763.3L303.4,762.9L305.4,762.7L307.4,762.7L309.4,763.0L311.4,763.4L313.4,764.0L315.4,764.9L317.4,765.9L319.4,767.1L321.4,768.5L323.4,770.0L325.4,771.6L327.4,773.2L329.4,774.9L331.4,776.6L333.4,778.3L335.4,779.9L337.4,781.4L339.4,782.8L341.4,784.1L343.4,785.2L345.4,786.1L347.4,786.8L349.4,787.3L351.4,787.4L353.4,787.2L355.4,786.8L357.4,786.0L359.4,784.9L361.4,783.6L363.4,782.0L365.4,780.2L367.4,778.2L369.4,776.1L371.4,773.8L373.4,771.4L375.4,768.9L377.4,766.4L379.4,763.7L381.4,761.1L383.4,758.4L385.4,755.8L387.4,753.2L389.4,750.6L391.4,748.2L393.4,745.8L395.4,743.6L397.4,741.5L399.4,739.6L401.4,737.9L403.4,736.3L405.4,735.0L407.4,733.8L409.4,732.9L411.4,732.2L413.4,731.8L415.4,731.6L417.4,731.7L419.4,732.1L421.4,732.8L423.4,733.8L425.4,735.1L427.4,736.8L429.4,738.8L431.4,741.1L433.4,743.9L435.4,746.9L437.4,750.3L439.4,754.0L441.4,758.1L443.4,762.4L445.4,767.0L447.4,771.8L449.4,777.0L451.4,782.3L453.4,788.0L455.4,793.8L457.4,799.8L459.4,806.0L461.4,812.4L463.4,818.9L465.4,825.5L467.4,832.3L469.4,839.1L471.4,845.9L473.4,852.9L475.4,859.8L477.4,866.7L479.4,873.6L481.4,880.4L483.4,887.2L485.4,893.8L487.4,900.4L489.4,906.8L491.4,913.1L493.4,919.2L495.4,925.1L497.4,930.9L499.4,936.5L501.4,941.9L503.4,947.2L505.4,952.3L507.4,957.2L509.4,962.0L511.4,966.6L513.4,971.1L515.4,975.5L517.4,979.7L519.4,983.7L521.4,987.6L523.4,991.3L525.4,995.0L527.4,998.4L529.4,1001.8L531.4,1005.0L533.4,1008.1L535.4,1011.0L537.4,1013.7L539.5,1016.3L541.5,1018.8L543.5,1021.1L545.5,1023.1L547.5,1025.0L549.5,1026.7L551.5,1028.2L553.5,1029.6L555.5,1030.6L557.5,1031.5L559.5,1032.2L561.5,1032.6L563.5,1032.8L565.5,1032.7L567.5,1032.4L569.5,1031.8L571.5,1031.0L573.5,1029.9L575.5,1028.6L577.5,1026.9L579.5,1025.0L581.5,1022.7L583.5,1020.2L585.5,1017.4L587.5,1014.3L589.5,1010.9L591.5,1007.3L593.5,1003.4L595.5,999.4L597.5,995.1L599.5,990.7L601.5,986.1L603.5,981.4L605.5,976.5L607.5,971.5L609.5,966.5L611.5,961.3L613.5,956.1L615.5,950.9L617.5,945.6L619.5,940.3L621.5,935.0L623.5,929.8L625.5,924.6L627.5,919.4L629.5,914.3L631.5,909.3L633.5,904.4L635.5,899.7L637.5,895.1L639.5,890.6L641.5,886.3L643.5,882.2L645.5,878.3L647.5,874.5L649.5,871.0L651.5,867.8L653.5,864.8L655.5,862.0L657.5,859.6L659.5,857.4L661.5,855.5L663.5,853.9L665.5,852.7L667.5,851.7L669.5,851.0L671.5,850.6L673.5,850.5L675.5,850.6L677.5,851.0L679.5,851.6L681.5,852.5L683.5,853.6L685.5,854.9L687.5,856.4L689.5,858.2L691.5,860.1L693.5,862.2L695.5,864.5L697.5,867.0L699.5,869.5L701.5,872.2L703.5,875.0L705.5,877.9L707.5,880.8L709.5,883.8L711.5,886.8L713.5,889.8L715.5,892.8L717.5,895.8L719.5,898.7L721.5,901.6L723.5,904.3L725.5,907.0L727.5,909.5L729.5,911.9L731.5,914.2L733.5,916.3L735.5,918.1L737.5,919.8L739.5,921.3L741.5,922.5L743.5,923.6L745.5,924.4L747.5,925.1L749.5,925.6L751.5,925.9L753.5,926.0L755.5,926.0L757.5,925.8L759.5,925.5L761.5,925.0L763.5,924.4L765.5,923.7L767.5,922.8L769.5,921.9L771.5,920.8L773.5,919.6L775.5,918.3L777.5,917.0L779.5,915.5L781.5,914.0L783.5,912.4L785.5,910.7L787.5,909.0L789.5,907.3L791.5,905.4L793.5,903.6L795.5,901.7L797.5,899.8L799.5,897.9L801.5,896.0L803.5,894.0L805.5,892.1L807.5,890.2L809.5,888.3L811.5,886.4L813.5,884.6L815.5,882.7L817.5,881.0L819.5,879.2L821.5,877.6L823.5,876.0L825.5,874.4L827.5,873.0L829.5,871.6L831.5,870.2L833.5,869.0L835.5,867.8L837.5,866.6L839.5,865.5L841.5,864.5L843.5,863.5L845.5,862.6L847.5,861.7L849.5,860.8L851.5,860.1L853.5,859.3L855.5,858.6L857.5,858.0L859.5,857.4L861.5,856.8L863.5,856.3L865.5,855.9L867.5,855.4L869.5,855.0L871.5,854.7L873.5,854.3L875.5,854.1L877.5,853.9L879.5,853.8L881.5,853.8L883.5,853.8L885.5,853.9L887.5,854.2L889.5,854.5L891.5,854.9L893.5,855.4L895.5,856.0L897.5,856.8L899.5,857.7L901.5,858.7L903.5,859.8L905.5,861.1L907.5,862.5L909.5,864.1L911.5,865.9L913.5,867.8L915.5,869.8L917.5,872.1L919.5,874.5L921.5,877.1L923.5,879.9L925.5,882.9L927.5,886.1L929.5,889.5L931.5,893.1L933.5,896.9L935.5,900.9L937.5,905.0L939.5,909.2L941.5,913.6L943.5,917.9L945.5,922.4L947.5,926.8L949.5,931.2L951.5,935.6L953.5,939.9L955.5,944.1L957.5,948.2L959.5,952.1L961.5,955.9L963.5,959.5L965.5,962.8" fill="none" stroke="#800080" stroke-width="6.0" stroke-opacity="0.36" stroke-linejoin="round"/>
<path d="M111.4,745.5L113.4,749.0L115.4,752.9L117.4,757.3L119.4,762.0L121.4,767.0L123.4,772.2L125.4,777.6L127.4,783.1L129.4,788.6L131.4,794.1L133.4,799.5L135.4,804.8L137.4,809.8L139.4,814.6L141.4,819.2L143.4,823.5L145.4,827.7L147.4,831.7L149.4,835.4L151.4,839.0L153.4,842.3L155.4,845.5L157.4,848.4L159.4,851.2L161.4,853.8L163.4,856.2L165.4,858.4L167.4,860.4L169.4,862.2L171.4,863.9L173.4,865.3L175.4,866.5L177.4,867.5L179.4,868.2L181.4,868.7L183.4,869.0L185.4,869.0L187.4,868.8L189.4,868.4L191.4,867.6L193.4,866.6L195.4,865.3L197.4,863.8L199.4,862.0L201.4,860.1L203.4,857.9L205.4,855.6L207.4,853.2L209.4,850.7L211.4,848.0L213.4,845.3L215.4,842.6L217.4,839.8L219.4,837.0L221.4,834.3L223.4,831.6L225.4,829.0L227.4,826.5L229.4,824.0L231.4,821.6L233.4,819.4L235.4,817.2L237.4,815.2L239.4,813.2L241.4,811.4L243.4,809.7L245.4,808.2L247.4,806.8L249.4,805.5L251.4,804.4L253.4,803.5L255.4,802.7L257.4,802.1L259.4,801.7L261.4,801.5L263.4,801.5L265.4,801.6L267.4,802.0L269.4,802.6L271.4,803.4L273.4,804.5L275.4,805.7L277.4,807.3L279.4,809.0L281.4,811.0L283.4,813.3L285.4,815.8L287.4,818.7L289.4,821.7L291.4,825.1L293.4,828.7L295.4,832.6L297.4,836.6L299.4,840.9L301.4,845.3L303.4,849.8L305.4,854.4L307.4,859.2L309.4,864.0L311.4,868.8L313.4,873.7L315.4,878.6L317.4,883.4L319.4,888.2L321.4,893.0L323.4,897.7L325.4,902.4L327.4,907.2L329.4,911.9L331.4,916.6L333.4,921.4L335.4,926.2L337.4,931.0L339.4,935.7L341.4,940.4L343.4,944.9L345.4,949.3L347.4,953.5L349.4,957.5L351.4,961.2L353.4,964.6L355.4,967.6L357.4,970.4L359.4,972.8L361.4,974.9L363.4,976.7L365.4,978.2L367.4,979.5L369.4,980.5L371.4,981.3L373.4,981.8L375.4,982.1L377.4,982.2L379.4,982.1L381.4,981.8L383.4,981.3L385.4,980.7L387.4,979.9L389.4,979.0L391.4,977.9L393.4,976.7L395.4,975.4L397.4,974.0L399.4,972.5L401.4,970.9L403.4,969.3L405.4,967.6L407.4,965.9L409.4,964.2L411.4,962.4L413.4,960.6L415.4,958.8L417.4,957.1L419.4,955.3L421.4,953.6L423.4,952.0L425.4,950.4L427.4,948.9L429.4,947.5L431.4,946.1L433.4,944.9L435.4,943.8L437.4,942.8L439.4,942.0L441.4,941.3L443.4,940.8L445.4,940.5L447.4,940.3L449.4,940.2L451.4,940.3L453.4,940.5L455.4,940.7L457.4,941.0L459.4,941.4L461.4,941.8L463.4,942.2L465.4,942.7L467.4,943.1L469.4,943.4L471.4,943.7L473.4,944.0L475.4,944.1L477.4,944.1L479.4,944.0L481.4,943.8L483.4,943.5L485.4,943.0L487.4,942.3L489.4,941.6L491.4,940.7L493.4,939.6L495.4,938.4L497.4,937.1L499.4,935.7L501.4,934.1L503.4,932.3L505.4,930.5L507.4,928.4L509.4,926.3L511.4,924.0L513.4,921.6L515.4,919.2L517.4,916.6L519.4,914.0L521.4,911.3L523.4,908.6L525.4,905.9L527.4,903.1L529.4,900.3L531.4,897.6L533.4,894.9L535.4,892.2L537.4,889.5L539.5,887.0L541.5,884.5L543.5,882.0L545.5,879.7L547.5,877.5L549.5,875.5L551.5,873.6L553.5,871.8L555.5,870.2L557.5,868.8L559.5,867.6L561.5,866.5L563.5,865.6L565.5,864.9L567.5,864.4L569.5,863.9L571.5,863.7L573.5,863.6L575.5,863.6L577.5,863.7L579.5,863.9L581.5,864.3L583.5,864.7L585.5,865.3L587.5,865.9L589.5,866.7L591.5,867.5L593.5,868.4L595.5,869.4L597.5,870.4L599.5,871.4L601.5,872.6L603.5,873.7L605.5,874.9L607.5,876.1L609.5,877.4L611.5,878.6L613.5,879.9L615.5,881.2L617.5,882.5L619.5,883.7L621.5,885.0L623.5,886.2L625.5,887.4L627.5,888.5L629.5,889.6L631.5,890.7L633.5,891.7L635.5,892.6L637.5,893.5L639.5,894.2L641.5,894.9L643.5,895.5L645.5,895.9L647.5,896.2L649.5,896.4L651.5,896.5L653.5,896.3L655.5,896.0L657.5,895.6L659.5,894.9L661.5,894.1L663.5,893.0L665.5,891.7L667.5,890.2L669.5,888.5L671.5,886.6L673.5,884.5L675.5,882.2L677.5,879.8L679.5,877.2L681.5,874.5L683.5,871.7L685.5,868.8L687.5,865.8L689.5,862.7L691.5,859.6L693.5,856.4L695.5,853.2L697.5,850.1L699.5,846.9L701.5,843.7L703.5,840.6L705.5,837.5L707.5,834.5L709.5,831.5L711.5,828.7L713.5,825.9L715.5,823.1L717.5,820.5L719.5,818.0L721.5,815.7L723.5,813.4L725.5,811.3L727.5,809.4L729.5,807.6L731.5,806.0L733.5,804.5L735.5,803.3L737.5,802.2L739.5,801.4L741.5,800.8L743.5,800.4L745.5,800.3L747.5,800.4L749.5,800.7L751.5,801.3L753.5,802.2L755.5,803.4L757.5,804.9L759.5,806.7L761.5,808.8L763.5,811.2L765.5,813.8L767.5,816.7L769.5,819.7L771.5,823.0L773.5,826.3L775.5,829.9L777.5,833.5L779.5,837.2L781.5,841.0L783.5,844.7L785.5,848.5L787.5,852.3L789.5,856.0L791.5,859.6L793.5,863.0L795.5,866.3L797.5,869.4L799.5,872.3L801.5,874.9L803.5,877.2L805.5,879.1L807.5,880.7L809.5,881.9L811.5,882.6L813.5,882.9L815.5,882.7L817.5,882.1L819.5,881.0L821.5,879.5L823.5,877.6L825.5,875.2L827.5,872.4L829.5,869.1L831.5,865.4L833.5,861.3L835.5,856.8L837.5,851.8L839.5,846.6L841.5,841.0L843.5,835.1L845.5,829.1L847.5,822.9L849.5,816.6L851.5,810.1L853.5,803.7L855.5,797.2L857.5,790.8L859.5,784.4L861.5,778.0L863.5,771.8L865.5,765.7L867.5,759.7L869.5,753.9L871.5,748.2L873.5,742.8L875.5,737.7L877.5,732.8L879.5,728.2L881.5,724.0L883.5,720.1L885.5,716.6L887.5,713.5L889.5,710.8L891.5,708.5L893.5,706.8L895.5,705.5L897.5,704.7L899.5,704.2L901.5,704.2L903.5,704.6L905.5,705.3L907.5,706.4L909.5,707.7L911.5,709.4L913.5,711.4L915.5,713.6L917.5,716.0L919.5,718.7L921.5,721.5L923.5,724.6L925.5,727.8L927.5,731.1L929.5,734.5L931.5,738.1L933.5,741.7L935.5,745.3L937.5,749.0L939.5,752.7L941.5,756.4L943.5,760.1L945.5,763.7L947.5,767.2L949.5,770.7L951.5,774.0L953.5,777.2L955.5,780.3L957.5,783.2L959.5,785.9L961.5,788.3L963.5,790.6L965.5,792.6" fill="none" stroke="#FFA500" stroke-width="6.0" stroke-opacity="0.36" stroke-linejoin="round"/>
<path d="M110.1,760.7L112.1,762.0L114.1,763.5L116.1,765.1L118.1,766.7L120.1,768.4L122.1,770.1L124.1,771.9L126.1,773.8L128.1,775.7L130.1,777.6L132.1,779.5L134.1,781.5L136.1,783.4L138.1,785.4L140.1,787.4L142.2,789.3L144.2,791.3L146.2,793.2L148.2,795.1L150.2,797.0L152.2,798.8L154.2,800.5L156.2,802.2L158.2,803.9L160.2,805.5L162.2,807.1L164.2,808.7L166.2,810.3L168.2,811.9L170.2,813.5L172.2,815.1L174.2,816.7L176.2,818.3L178.2,820.0L180.2,821.7L182.2,823.5L184.2,825.3L186.2,827.2L188.2,829.2L190.2,831.2L192.2,833.4L194.2,835.6L196.2,837.9L198.2,840.4L200.2,842.9L202.3,845.6L204.3,848.3L206.3,851.2L208.3,854.1L210.3,857.1L212.3,860.2L214.3,863.3L216.3,866.5L218.3,869.6L220.3,872.8L222.3,876.1L224.3,879.3L226.3,882.5L228.3,885.7L230.3,888.9L232.3,892.0L234.3,895.1L236.3,898.1L238.3,901.1L240.3,903.9L242.3,906.7L244.3,909.4L246.3,912.0L248.3,914.5L250.3,916.9L252.3,919.1L254.3,921.2L256.3,923.1L258.3,924.9L260.3,926.5L262.3,927.9L264.4,929.1L266.4,930.1L268.4,930.9L270.4,931.6L272.4,932.1L274.4,932.3L276.4,932.4L278.4,932.3L280.4,932.0L282.4,931.4L284.4,930.7L286.4,929.8L288.4,928.7L290.4,927.4L292.4,925.9L294.4,924.2L296.4,922.4L298.4,920.3L300.4,918.2L302.4,915.9L304.4,913.5L306.4,911.0L308.4,908.4L310.4,905.8L312.4,903.2L314.4,900.5L316.4,897.8L318.4,895.2L320.4,892.5L322.4,889.9L324.5,887.4L326.5,885.0L328.5,882.6L330.5,880.2L332.5,878.0L334.5,875.8L336.5,873.8L338.5,871.8L340.5,869.9L342.5,868.1L344.5,866.4L346.5,864.8L348.5,863.3L350.5,862.0L352.5,860.7L354.5,859.6L356.5,858.6L358.5,857.8L360.5,857.1L362.5,856.5L364.5,856.1L366.5,855.8L368.5,855.7L370.5,855.8L372.5,856.0L374.5,856.3L376.5,856.9L378.5,857.6L380.5,858.5L382.5,859.5L384.5,860.7L386.6,862.1L388.6,863.6L390.6,865.3L392.6,867.2L394.6,869.3L396.6,871.5L398.6,873.9L400.6,876.5L402.6,879.2L404.6,882.1L406.6,885.2L408.6,888.5L410.6,891.9L412.6,895.5L414.6,899.3L416.6,903.3L418.6,907.4L420.6,911.8L422.6,916.3L424.6,920.9L426.6,925.8L428.6,930.9L430.6,936.1L432.6,941.5L434.6,947.0L436.6,952.6L438.6,958.3L440.6,964.0L442.6,969.8L444.6,975.6L446.7,981.4L448.7,987.1L450.7,992.8L452.7,998.3L454.7,1003.8L456.7,1009.2L458.7,1014.4L460.7,1019.5L462.7,1024.5L464.7,1029.4L466.7,1034.2L468.7,1038.8L470.7,1043.3L472.7,1047.6L474.7,1051.7L476.7,1055.6L478.7,1059.3L480.7,1062.6L482.7,1065.7L484.7,1068.5L486.7,1070.9L488.7,1073.0L490.7,1074.6L492.7,1075.9L494.7,1076.8L496.7,1077.3L498.7,1077.4L500.7,1077.3L502.7,1076.8L504.7,1076.1L506.7,1075.1L508.8,1073.9L510.8,1072.6L512.8,1071.0L514.8,1069.3L516.8,1067.5L518.8,1065.5L520.8,1063.5L522.8,1061.3L524.8,1059.1L526.8,1056.8L528.8,1054.4L530.8,1052.0L532.8,1049.5L534.8,1046.9L536.8,1044.3L538.8,1041.7L540.8,1039.1L542.8,1036.5L544.8,1033.9L546.8,1031.3L548.8,1028.8L550.8,1026.2L552.8,1023.7L554.8,1021.3L556.8,1018.9L558.8,1016.6L560.8,1014.4L562.8,1012.3L564.8,1010.2L566.8,1008.2L568.9,1006.2L570.9,1004.3L572.9,1002.4L574.9,1000.6L576.9,998.7L578.9,996.9L580.9,995.1L582.9,993.3L584.9,991.5L586.9,989.7L588.9,987.9L590.9,986.0L592.9,984.1L594.9,982.1L596.9,980.1L598.9,978.1L600.9,975.9L602.9,973.7L604.9,971.4L606.9,969.0L608.9,966.6L610.9,964.0L612.9,961.3L614.9,958.4L616.9,955.5L618.9,952.4L620.9,949.2L622.9,945.8L624.9,942.2L626.9,938.5L628.9,934.7L631.0,930.7L633.0,926.6L635.0,922.5L637.0,918.3L639.0,914.0L641.0,909.8L643.0,905.6L645.0,901.4L647.0,897.3L649.0,893.3L651.0,889.4L653.0,885.5L655.0,881.8L657.0,878.0L659.0,874.3L661.0,870.7L663.0,867.0L665.0,863.3L667.0,859.6L669.0,855.9L671.0,852.2L673.0,848.6L675.0,845.1L677.0,841.6L679.0,838.2L681.0,834.9L683.0,831.8L685.0,828.9L687.0,826.1L689.0,823.7L691.1,821.4L693.1,819.4L695.1,817.7L697.1,816.2L699.1,814.9L701.1,813.9L703.1,813.1L705.1,812.5L707.1,812.1L709.1,811.9L711.1,812.0L713.1,812.2L715.1,812.6L717.1,813.3L719.1,814.1L721.1,815.0L723.1,816.2L725.1,817.5L727.1,819.0L729.1,820.7L731.1,822.5L733.1,824.4L735.1,826.5L737.1,828.7L739.1,831.0L741.1,833.4L743.1,835.9L745.1,838.5L747.1,841.2L749.1,843.9L751.1,846.7L753.2,849.6L755.2,852.5L757.2,855.5L759.2,858.4L761.2,861.4L763.2,864.3L765.2,867.1L767.2,869.8L769.2,872.4L771.2,874.9L773.2,877.1L775.2,879.1L777.2,880.9L779.2,882.6L781.2,884.1L783.2,885.4L785.2,886.5L787.2,887.5L789.2,888.3L791.2,889.0L793.2,889.6L795.2,890.0L797.2,890.4L799.2,890.6L801.2,890.7L803.2,890.7L805.2,890.6L807.2,890.4L809.2,890.1L811.2,889.8L813.3,889.4L815.3,889.0L817.3,888.5L819.3,888.0L821.3,887.4L823.3,886.8L825.3,886.2L827.3,885.6L829.3,885.0L831.3,884.4L833.3,883.7L835.3,883.1L837.3,882.6L839.3,882.0L841.3,881.5L843.3,881.0L845.3,880.6L847.3,880.3L849.3,880.0L851.3,879.7L853.3,879.6L855.3,879.6L857.3,879.6L859.3,879.7L861.3,880.0L863.3,880.4L865.3,880.8L867.3,881.5L869.3,882.2L871.3,883.1L873.3,884.2L875.4,885.4L877.4,886.8L879.4,888.3L881.4,890.0L883.4,891.8L885.4,893.7L887.4,895.8L889.4,898.0L891.4,900.3L893.4,902.7L895.4,905.2L897.4,907.9L899.4,910.6L901.4,913.4L903.4,916.2L905.4,919.2L907.4,922.2L909.4,925.3L911.4,928.4L913.4,931.6L915.4,934.8L917.4,938.0L919.4,941.3L921.4,944.6L923.4,947.9L925.4,951.3L927.4,954.6L929.4,957.9L931.4,961.3L933.4,964.6L935.5,967.8L937.5,971.1L939.5,974.2L941.5,977.2L943.5,980.1L945.5,982.8L947.5,985.3L949.5,987.6L951.5,989.7L953.5,991.5L955.5,992.9L957.5,994.1L959.5,994.9L961.5,995.3L963.5,995.4L965.5,994.9" fill="none" stroke="#BA5533" stroke-width="6.0" stroke-opacity="0.36" stroke-linejoin="round"/>
<g fill="none"><circle cx="141.1" cy="854.8" r="6.2" stroke="#00A6FB" stroke-width="2.4" stroke-opacity="1.00"/><circle cx="149.1" cy="866.1" r="6.2" stroke="#00A6FB" stroke-width="2.4" stroke-opacity="1.00"/><circle cx="183.0" cy="879.0" r="6.2" stroke="#00A6FB" stroke-width="2.4" stroke-opacity="1.00"/><circle cx="492.9" cy="886.9" r="6.2" stroke="#00A6FB" stroke-width="2.4" stroke-opacity="1.00"/><circle cx="540.4" cy="882.8" r="6.2" stroke="#00A6FB" stroke-width="2.4" stroke-opacity="1.00"/><circle cx="549.3" cy="887.7" r="6.2" stroke="#00A6FB" stroke-width="2.4" stroke-opacity="1.00"/><circle cx="574.3" cy="890.9" r="6.2" stroke="#00A6FB" stroke-width="2.4" stroke-opacity="1.00"/><circle cx="737.4" cy="895.5" r="6.2" stroke="#00A6FB" stroke-width="2.4" stroke-opacity="1.00"/><circle cx="827.2" cy="899.7" r="6.2" stroke="#00A6FB" stroke-width="2.4" stroke-opacity="1.00"/><circle cx="127.4" cy="859.6" r="6.2" stroke="#3A4FC0" stroke-width="2.4" stroke-opacity="1.00"/><circle cx="154.0" cy="862.8" r="6.2" stroke="#3A4FC0" stroke-width="2.4" stroke-opacity="1.00"/><circle cx="204.7" cy="864.5" r="6.2" stroke="#3A4FC0" stroke-width="2.4" stroke-opacity="1.00"/><circle cx="213.6" cy="855.6" r="6.2" stroke="#3A4FC0" stroke-width="2.4" stroke-opacity="1.00"/><circle cx="226.5" cy="851.6" r="6.2" stroke="#3A4FC0" stroke-width="2.4" stroke-opacity="1.00"/><circle cx="235.4" cy="842.7" r="6.2" stroke="#3A4FC0" stroke-width="2.4" stroke-opacity="1.00"/><circle cx="243.4" cy="834.6" r="6.2" stroke="#3A4FC0" stroke-width="2.4" stroke-opacity="1.00"/><circle cx="251.5" cy="830.6" r="6.2" stroke="#3A4FC0" stroke-width="2.4" stroke-opacity="1.00"/><circle cx="257.1" cy="824.2" r="6.2" stroke="#3A4FC0" stroke-width="2.4" stroke-opacity="1.00"/><circle cx="262.0" cy="819.0" r="6.2" stroke="#3A4FC0" stroke-width="2.4" stroke-opacity="1.00"/><circle cx="266.2" cy="816.0" r="6.2" stroke="#3A4FC0" stroke-width="2.4" stroke-opacity="1.00"/><circle cx="273.8" cy="811.0" r="6.2" stroke="#3A4FC0" stroke-width="2.4" stroke-opacity="1.00"/><circle cx="281.3" cy="808.5" r="6.2" stroke="#3A4FC0" stroke-width="2.4" stroke-opacity="1.00"/><circle cx="291.4" cy="807.2" r="6.2" stroke="#3A4FC0" stroke-width="2.4" stroke-opacity="1.00"/><circle cx="299.0" cy="807.2" r="6.2" stroke="#3A4FC0" stroke-width="2.4" stroke-opacity="1.00"/><circle cx="304.0" cy="808.0" r="6.2" stroke="#3A4FC0" stroke-width="2.4" stroke-opacity="1.00"/><circle cx="311.5" cy="809.0" r="6.2" stroke="#3A4FC0" stroke-width="2.4" stroke-opacity="1.00"/><circle cx="316.6" cy="809.7" r="6.2" stroke="#3A4FC0" stroke-width="2.4" stroke-opacity="1.00"/><circle cx="324.0" cy="811.0" r="6.2" stroke="#3A4FC0" stroke-width="2.4" stroke-opacity="1.00"/><circle cx="331.7" cy="813.5" r="6.2" stroke="#3A4FC0" stroke-width="2.4" stroke-opacity="1.00"/><circle cx="340.0" cy="816.0" r="6.2" stroke="#3A4FC0" stroke-width="2.4" stroke-opacity="1.00"/><circle cx="342.6" cy="818.5" r="6.2" stroke="#3A4FC0" stroke-width="2.4" stroke-opacity="1.00"/><circle cx="364.0" cy="822.3" r="6.2" stroke="#3A4FC0" stroke-width="2.4" stroke-opacity="1.00"/><circle cx="372.8" cy="828.6" r="6.2" stroke="#3A4FC0" stroke-width="2.4" stroke-opacity="1.00"/><circle cx="392.9" cy="833.6" r="6.2" stroke="#3A4FC0" stroke-width="2.4" stroke-opacity="1.00"/><circle cx="415.6" cy="838.7" r="6.2" stroke="#3A4FC0" stroke-width="2.4" stroke-opacity="1.00"/><circle cx="432.0" cy="845.0" r="6.2" stroke="#3A4FC0" stroke-width="2.4" stroke-opacity="1.00"/><circle cx="500.9" cy="850.6" r="6.2" stroke="#3A4FC0" stroke-width="2.4" stroke-opacity="1.00"/><circle cx="505.8" cy="865.9" r="6.2" stroke="#3A4FC0" stroke-width="2.4" stroke-opacity="1.00"/><circle cx="514.6" cy="881.2" r="6.2" stroke="#3A4FC0" stroke-width="2.4" stroke-opacity="1.00"/><circle cx="526.7" cy="893.3" r="6.2" stroke="#3A4FC0" stroke-width="2.4" stroke-opacity="1.00"/><circle cx="578.3" cy="905.4" r="6.2" stroke="#3A4FC0" stroke-width="2.4" stroke-opacity="1.00"/><circle cx="587.2" cy="902.2" r="6.2" stroke="#3A4FC0" stroke-width="2.4" stroke-opacity="1.00"/><circle cx="600.0" cy="893.3" r="6.2" stroke="#3A4FC0" stroke-width="2.4" stroke-opacity="1.00"/><circle cx="622.6" cy="882.8" r="6.2" stroke="#3A4FC0" stroke-width="2.4" stroke-opacity="1.00"/><circle cx="625.8" cy="867.5" r="6.2" stroke="#3A4FC0" stroke-width="2.4" stroke-opacity="1.00"/><circle cx="630.7" cy="853.8" r="6.2" stroke="#3A4FC0" stroke-width="2.4" stroke-opacity="1.00"/><circle cx="633.9" cy="842.6" r="6.2" stroke="#3A4FC0" stroke-width="2.4" stroke-opacity="1.00"/><circle cx="637.1" cy="831.3" r="6.2" stroke="#3A4FC0" stroke-width="2.4" stroke-opacity="1.00"/><circle cx="640.5" cy="825.0" r="6.2" stroke="#3A4FC0" stroke-width="2.4" stroke-opacity="1.00"/><circle cx="643.0" cy="822.3" r="6.2" stroke="#3A4FC0" stroke-width="2.4" stroke-opacity="1.00"/><circle cx="648.0" cy="816.0" r="6.2" stroke="#3A4FC0" stroke-width="2.4" stroke-opacity="1.00"/><circle cx="653.1" cy="811.0" r="6.2" stroke="#3A4FC0" stroke-width="2.4" stroke-opacity="1.00"/><circle cx="658.1" cy="809.7" r="6.2" stroke="#3A4FC0" stroke-width="2.4" stroke-opacity="1.00"/><circle cx="663.2" cy="811.0" r="6.2" stroke="#3A4FC0" stroke-width="2.4" stroke-opacity="1.00"/><circle cx="669.4" cy="814.8" r="6.2" stroke="#3A4FC0" stroke-width="2.4" stroke-opacity="1.00"/><circle cx="675.7" cy="822.3" r="6.2" stroke="#3A4FC0" stroke-width="2.4" stroke-opacity="1.00"/><circle cx="682.0" cy="829.9" r="6.2" stroke="#3A4FC0" stroke-width="2.4" stroke-opacity="1.00"/><circle cx="690.8" cy="837.4" r="6.2" stroke="#3A4FC0" stroke-width="2.4" stroke-opacity="1.00"/><circle cx="695.9" cy="848.7" r="6.2" stroke="#3A4FC0" stroke-width="2.4" stroke-opacity="1.00"/><circle cx="703.4" cy="860.0" r="6.2" stroke="#3A4FC0" stroke-width="2.4" stroke-opacity="1.00"/><circle cx="711.0" cy="872.7" r="6.2" stroke="#3A4FC0" stroke-width="2.4" stroke-opacity="1.00"/><circle cx="728.6" cy="885.8" r="6.2" stroke="#3A4FC0" stroke-width="2.4" stroke-opacity="1.00"/><circle cx="115.3" cy="851.6" r="6.2" stroke="#800080" stroke-width="2.4" stroke-opacity="1.00"/><circle cx="230.5" cy="869.3" r="6.2" stroke="#800080" stroke-width="2.4" stroke-opacity="1.00"/><circle cx="239.4" cy="860.4" r="6.2" stroke="#800080" stroke-width="2.4" stroke-opacity="1.00"/><circle cx="258.7" cy="854.8" r="6.2" stroke="#800080" stroke-width="2.4" stroke-opacity="1.00"/><circle cx="282.6" cy="848.7" r="6.2" stroke="#800080" stroke-width="2.4" stroke-opacity="1.00"/><circle cx="291.4" cy="840.0" r="6.2" stroke="#800080" stroke-width="2.4" stroke-opacity="1.00"/><circle cx="307.8" cy="832.4" r="6.2" stroke="#800080" stroke-width="2.4" stroke-opacity="1.00"/><circle cx="316.6" cy="824.8" r="6.2" stroke="#800080" stroke-width="2.4" stroke-opacity="1.00"/><circle cx="326.7" cy="821.0" r="6.2" stroke="#800080" stroke-width="2.4" stroke-opacity="1.00"/><circle cx="331.7" cy="814.8" r="6.2" stroke="#800080" stroke-width="2.4" stroke-opacity="1.00"/><circle cx="338.0" cy="811.0" r="6.2" stroke="#800080" stroke-width="2.4" stroke-opacity="1.00"/><circle cx="355.2" cy="808.5" r="6.2" stroke="#800080" stroke-width="2.4" stroke-opacity="1.00"/><circle cx="360.2" cy="807.2" r="6.2" stroke="#800080" stroke-width="2.4" stroke-opacity="1.00"/><circle cx="375.3" cy="804.7" r="6.2" stroke="#800080" stroke-width="2.4" stroke-opacity="1.00"/><circle cx="380.0" cy="802.0" r="6.2" stroke="#800080" stroke-width="2.4" stroke-opacity="1.00"/><circle cx="385.4" cy="798.4" r="6.2" stroke="#800080" stroke-width="2.4" stroke-opacity="1.00"/><circle cx="390.0" cy="794.0" r="6.2" stroke="#800080" stroke-width="2.4" stroke-opacity="1.00"/><circle cx="398.0" cy="790.3" r="6.2" stroke="#800080" stroke-width="2.4" stroke-opacity="1.00"/><circle cx="403.0" cy="787.0" r="6.2" stroke="#800080" stroke-width="2.4" stroke-opacity="1.00"/><circle cx="408.0" cy="783.3" r="6.2" stroke="#800080" stroke-width="2.4" stroke-opacity="1.00"/><circle cx="413.0" cy="779.0" r="6.2" stroke="#800080" stroke-width="2.4" stroke-opacity="1.00"/><circle cx="420.6" cy="775.7" r="6.2" stroke="#800080" stroke-width="2.4" stroke-opacity="1.00"/><circle cx="425.0" cy="772.0" r="6.2" stroke="#800080" stroke-width="2.4" stroke-opacity="1.00"/><circle cx="430.7" cy="768.2" r="6.2" stroke="#800080" stroke-width="2.4" stroke-opacity="1.00"/><circle cx="435.0" cy="766.5" r="6.2" stroke="#800080" stroke-width="2.4" stroke-opacity="1.00"/><circle cx="440.8" cy="765.7" r="6.2" stroke="#800080" stroke-width="2.4" stroke-opacity="1.00"/><circle cx="445.0" cy="765.5" r="6.2" stroke="#800080" stroke-width="2.4" stroke-opacity="1.00"/><circle cx="450.8" cy="766.9" r="6.2" stroke="#800080" stroke-width="2.4" stroke-opacity="1.00"/><circle cx="455.0" cy="770.0" r="6.2" stroke="#800080" stroke-width="2.4" stroke-opacity="1.00"/><circle cx="460.9" cy="775.7" r="6.2" stroke="#800080" stroke-width="2.4" stroke-opacity="1.00"/><circle cx="465.0" cy="781.0" r="6.2" stroke="#800080" stroke-width="2.4" stroke-opacity="1.00"/><circle cx="469.7" cy="787.1" r="6.2" stroke="#800080" stroke-width="2.4" stroke-opacity="1.00"/><circle cx="474.8" cy="794.6" r="6.2" stroke="#800080" stroke-width="2.4" stroke-opacity="1.00"/><circle cx="478.5" cy="803.4" r="6.2" stroke="#800080" stroke-width="2.4" stroke-opacity="1.00"/><circle cx="483.6" cy="812.2" r="6.2" stroke="#800080" stroke-width="2.4" stroke-opacity="1.00"/><circle cx="487.3" cy="822.4" r="6.2" stroke="#800080" stroke-width="2.4" stroke-opacity="1.00"/><circle cx="497.7" cy="828.9" r="6.2" stroke="#800080" stroke-width="2.4" stroke-opacity="1.00"/><circle cx="517.9" cy="840.1" r="6.2" stroke="#800080" stroke-width="2.4" stroke-opacity="1.00"/><circle cx="522.7" cy="854.6" r="6.2" stroke="#800080" stroke-width="2.4" stroke-opacity="1.00"/><circle cx="536.4" cy="871.6" r="6.2" stroke="#800080" stroke-width="2.4" stroke-opacity="1.00"/><circle cx="544.5" cy="887.7" r="6.2" stroke="#800080" stroke-width="2.4" stroke-opacity="1.00"/><circle cx="811.1" cy="901.8" r="6.2" stroke="#800080" stroke-width="2.4" stroke-opacity="1.00"/><circle cx="831.5" cy="900.8" r="6.2" stroke="#800080" stroke-width="2.4" stroke-opacity="1.00"/><circle cx="854.0" cy="896.9" r="6.2" stroke="#800080" stroke-width="2.4" stroke-opacity="1.00"/><circle cx="110.5" cy="859.6" r="6.2" stroke="#FFA500" stroke-width="2.4" stroke-opacity="1.00"/><circle cx="132.2" cy="848.3" r="6.2" stroke="#FFA500" stroke-width="2.4" stroke-opacity="1.00"/><circle cx="136.3" cy="842.7" r="6.2" stroke="#FFA500" stroke-width="2.4" stroke-opacity="1.00"/><circle cx="144.3" cy="839.5" r="6.2" stroke="#FFA500" stroke-width="2.4" stroke-opacity="1.00"/><circle cx="162.0" cy="837.9" r="6.2" stroke="#FFA500" stroke-width="2.4" stroke-opacity="1.00"/><circle cx="167.7" cy="840.3" r="6.2" stroke="#FFA500" stroke-width="2.4" stroke-opacity="1.00"/><circle cx="171.7" cy="842.7" r="6.2" stroke="#FFA500" stroke-width="2.4" stroke-opacity="1.00"/><circle cx="179.0" cy="843.5" r="6.2" stroke="#FFA500" stroke-width="2.4" stroke-opacity="1.00"/><circle cx="187.8" cy="847.5" r="6.2" stroke="#FFA500" stroke-width="2.4" stroke-opacity="1.00"/><circle cx="192.7" cy="848.3" r="6.2" stroke="#FFA500" stroke-width="2.4" stroke-opacity="1.00"/><circle cx="209.6" cy="850.8" r="6.2" stroke="#FFA500" stroke-width="2.4" stroke-opacity="1.00"/><circle cx="346.4" cy="848.7" r="6.2" stroke="#FFA500" stroke-width="2.4" stroke-opacity="1.00"/><circle cx="367.8" cy="858.8" r="6.2" stroke="#FFA500" stroke-width="2.4" stroke-opacity="1.00"/><circle cx="509.8" cy="871.6" r="6.2" stroke="#FFA500" stroke-width="2.4" stroke-opacity="1.00"/><circle cx="550.9" cy="880.4" r="6.2" stroke="#FFA500" stroke-width="2.4" stroke-opacity="1.00"/><circle cx="556.5" cy="878.8" r="6.2" stroke="#FFA500" stroke-width="2.4" stroke-opacity="1.00"/><circle cx="562.2" cy="879.6" r="6.2" stroke="#FFA500" stroke-width="2.4" stroke-opacity="1.00"/><circle cx="567.8" cy="877.2" r="6.2" stroke="#FFA500" stroke-width="2.4" stroke-opacity="1.00"/><circle cx="570.0" cy="876.4" r="6.2" stroke="#FFA500" stroke-width="2.4" stroke-opacity="1.00"/><circle cx="576.0" cy="876.5" r="6.2" stroke="#FFA500" stroke-width="2.4" stroke-opacity="1.00"/><circle cx="583.1" cy="877.2" r="6.2" stroke="#FFA500" stroke-width="2.4" stroke-opacity="1.00"/><circle cx="591.2" cy="875.6" r="6.2" stroke="#FFA500" stroke-width="2.4" stroke-opacity="1.00"/><circle cx="594.4" cy="875.6" r="6.2" stroke="#FFA500" stroke-width="2.4" stroke-opacity="1.00"/><circle cx="604.1" cy="874.8" r="6.2" stroke="#FFA500" stroke-width="2.4" stroke-opacity="1.00"/><circle cx="608.9" cy="874.8" r="6.2" stroke="#FFA500" stroke-width="2.4" stroke-opacity="1.00"/><circle cx="613.0" cy="875.0" r="6.2" stroke="#FFA500" stroke-width="2.4" stroke-opacity="1.00"/><circle cx="618.6" cy="875.6" r="6.2" stroke="#FFA500" stroke-width="2.4" stroke-opacity="1.00"/><circle cx="685.8" cy="875.2" r="6.2" stroke="#FFA500" stroke-width="2.4" stroke-opacity="1.00"/><circle cx="698.4" cy="875.2" r="6.2" stroke="#FFA500" stroke-width="2.4" stroke-opacity="1.00"/><circle cx="711.0" cy="873.9" r="6.2" stroke="#FFA500" stroke-width="2.4" stroke-opacity="1.00"/><circle cx="715.4" cy="868.5" r="6.2" stroke="#FFA500" stroke-width="2.4" stroke-opacity="1.00"/><circle cx="720.0" cy="865.6" r="6.2" stroke="#FFA500" stroke-width="2.4" stroke-opacity="1.00"/><circle cx="724.5" cy="863.3" r="6.2" stroke="#FFA500" stroke-width="2.4" stroke-opacity="1.00"/><circle cx="728.9" cy="861.0" r="6.2" stroke="#FFA500" stroke-width="2.4" stroke-opacity="1.00"/><circle cx="733.4" cy="857.8" r="6.2" stroke="#FFA500" stroke-width="2.4" stroke-opacity="1.00"/><circle cx="737.9" cy="853.1" r="6.2" stroke="#FFA500" stroke-width="2.4" stroke-opacity="1.00"/><circle cx="742.6" cy="849.4" r="6.2" stroke="#FFA500" stroke-width="2.4" stroke-opacity="1.00"/><circle cx="746.9" cy="846.9" r="6.2" stroke="#FFA500" stroke-width="2.4" stroke-opacity="1.00"/><circle cx="751.7" cy="845.3" r="6.2" stroke="#FFA500" stroke-width="2.4" stroke-opacity="1.00"/><circle cx="756.4" cy="843.6" r="6.2" stroke="#FFA500" stroke-width="2.4" stroke-opacity="1.00"/><circle cx="760.7" cy="840.3" r="6.2" stroke="#FFA500" stroke-width="2.4" stroke-opacity="1.00"/><circle cx="765.3" cy="836.4" r="6.2" stroke="#FFA500" stroke-width="2.4" stroke-opacity="1.00"/><circle cx="769.7" cy="834.2" r="6.2" stroke="#FFA500" stroke-width="2.4" stroke-opacity="1.00"/><circle cx="774.0" cy="832.9" r="6.2" stroke="#FFA500" stroke-width="2.4" stroke-opacity="1.00"/><circle cx="778.5" cy="832.4" r="6.2" stroke="#FFA500" stroke-width="2.4" stroke-opacity="1.00"/><circle cx="783.0" cy="832.7" r="6.2" stroke="#FFA500" stroke-width="2.4" stroke-opacity="1.00"/><circle cx="787.3" cy="833.9" r="6.2" stroke="#FFA500" stroke-width="2.4" stroke-opacity="1.00"/><circle cx="791.8" cy="836.2" r="6.2" stroke="#FFA500" stroke-width="2.4" stroke-opacity="1.00"/><circle cx="796.3" cy="839.3" r="6.2" stroke="#FFA500" stroke-width="2.4" stroke-opacity="1.00"/><circle cx="800.8" cy="842.5" r="6.2" stroke="#FFA500" stroke-width="2.4" stroke-opacity="1.00"/><circle cx="805.1" cy="845.0" r="6.2" stroke="#FFA500" stroke-width="2.4" stroke-opacity="1.00"/><circle cx="809.6" cy="847.1" r="6.2" stroke="#FFA500" stroke-width="2.4" stroke-opacity="1.00"/><circle cx="814.2" cy="849.2" r="6.2" stroke="#FFA500" stroke-width="2.4" stroke-opacity="1.00"/><circle cx="818.8" cy="852.2" r="6.2" stroke="#FFA500" stroke-width="2.4" stroke-opacity="1.00"/><circle cx="823.5" cy="855.0" r="6.2" stroke="#FFA500" stroke-width="2.4" stroke-opacity="1.00"/><circle cx="827.9" cy="855.8" r="6.2" stroke="#FFA500" stroke-width="2.4" stroke-opacity="1.00"/><circle cx="832.3" cy="856.6" r="6.2" stroke="#FFA500" stroke-width="2.4" stroke-opacity="1.00"/><circle cx="836.8" cy="857.0" r="6.2" stroke="#FFA500" stroke-width="2.4" stroke-opacity="1.00"/><circle cx="841.2" cy="856.5" r="6.2" stroke="#FFA500" stroke-width="2.4" stroke-opacity="1.00"/><circle cx="845.7" cy="855.7" r="6.2" stroke="#FFA500" stroke-width="2.4" stroke-opacity="1.00"/><circle cx="850.1" cy="855.0" r="6.2" stroke="#FFA500" stroke-width="2.4" stroke-opacity="1.00"/><circle cx="854.8" cy="853.2" r="6.2" stroke="#FFA500" stroke-width="2.4" stroke-opacity="1.00"/><circle cx="859.1" cy="849.8" r="6.2" stroke="#FFA500" stroke-width="2.4" stroke-opacity="1.00"/><circle cx="863.6" cy="843.2" r="6.2" stroke="#FFA500" stroke-width="2.4" stroke-opacity="1.00"/><circle cx="868.1" cy="837.2" r="6.2" stroke="#FFA500" stroke-width="2.4" stroke-opacity="1.00"/><circle cx="872.6" cy="830.0" r="6.2" stroke="#FFA500" stroke-width="2.4" stroke-opacity="1.00"/><circle cx="877.0" cy="820.5" r="6.2" stroke="#FFA500" stroke-width="2.4" stroke-opacity="1.00"/><circle cx="881.3" cy="812.6" r="6.2" stroke="#FFA500" stroke-width="2.4" stroke-opacity="1.00"/><circle cx="885.7" cy="805.3" r="6.2" stroke="#FFA500" stroke-width="2.4" stroke-opacity="1.00"/><circle cx="890.2" cy="798.1" r="6.2" stroke="#FFA500" stroke-width="2.4" stroke-opacity="1.00"/><circle cx="894.5" cy="789.7" r="6.2" stroke="#FFA500" stroke-width="2.4" stroke-opacity="1.00"/><circle cx="899.0" cy="782.4" r="6.2" stroke="#FFA500" stroke-width="2.4" stroke-opacity="1.00"/><circle cx="903.4" cy="775.8" r="6.2" stroke="#FFA500" stroke-width="2.4" stroke-opacity="1.00"/><circle cx="908.0" cy="770.5" r="6.2" stroke="#FFA500" stroke-width="2.4" stroke-opacity="1.00"/><circle cx="912.5" cy="767.3" r="6.2" stroke="#FFA500" stroke-width="2.4" stroke-opacity="1.00"/><circle cx="917.2" cy="764.5" r="6.2" stroke="#FFA500" stroke-width="2.4" stroke-opacity="1.00"/><circle cx="921.7" cy="761.4" r="6.2" stroke="#FFA500" stroke-width="2.4" stroke-opacity="1.00"/><circle cx="926.2" cy="759.1" r="6.2" stroke="#FFA500" stroke-width="2.4" stroke-opacity="1.00"/><circle cx="930.8" cy="757.3" r="6.2" stroke="#FFA500" stroke-width="2.4" stroke-opacity="1.00"/><circle cx="935.1" cy="756.0" r="6.2" stroke="#FFA500" stroke-width="2.4" stroke-opacity="1.00"/><circle cx="939.6" cy="755.3" r="6.2" stroke="#FFA500" stroke-width="2.4" stroke-opacity="1.00"/><circle cx="944.0" cy="754.9" r="6.2" stroke="#FFA500" stroke-width="2.4" stroke-opacity="1.00"/><circle cx="948.5" cy="755.4" r="6.2" stroke="#FFA500" stroke-width="2.4" stroke-opacity="1.00"/><circle cx="953.2" cy="757.1" r="6.2" stroke="#FFA500" stroke-width="2.4" stroke-opacity="1.00"/><circle cx="957.7" cy="759.2" r="6.2" stroke="#FFA500" stroke-width="2.4" stroke-opacity="1.00"/><circle cx="962.1" cy="761.7" r="6.2" stroke="#FFA500" stroke-width="2.4" stroke-opacity="1.00"/><circle cx="966.5" cy="765.7" r="6.2" stroke="#FFA500" stroke-width="2.4" stroke-opacity="1.00"/><circle cx="118.5" cy="859.6" r="6.2" stroke="#BA5533" stroke-width="2.4" stroke-opacity="1.00"/><circle cx="124.2" cy="850.0" r="6.2" stroke="#BA5533" stroke-width="2.4" stroke-opacity="1.00"/><circle cx="156.4" cy="842.7" r="6.2" stroke="#BA5533" stroke-width="2.4" stroke-opacity="1.00"/><circle cx="174.9" cy="837.9" r="6.2" stroke="#BA5533" stroke-width="2.4" stroke-opacity="1.00"/><circle cx="195.9" cy="837.1" r="6.2" stroke="#BA5533" stroke-width="2.4" stroke-opacity="1.00"/><circle cx="201.5" cy="837.9" r="6.2" stroke="#BA5533" stroke-width="2.4" stroke-opacity="1.00"/><circle cx="217.6" cy="838.7" r="6.2" stroke="#BA5533" stroke-width="2.4" stroke-opacity="1.00"/><circle cx="222.5" cy="842.7" r="6.2" stroke="#BA5533" stroke-width="2.4" stroke-opacity="1.00"/><circle cx="248.2" cy="845.9" r="6.2" stroke="#BA5533" stroke-width="2.4" stroke-opacity="1.00"/><circle cx="351.4" cy="851.3" r="6.2" stroke="#BA5533" stroke-width="2.4" stroke-opacity="1.00"/><circle cx="531.6" cy="858.7" r="6.2" stroke="#BA5533" stroke-width="2.4" stroke-opacity="1.00"/><circle cx="562.2" cy="883.6" r="6.2" stroke="#BA5533" stroke-width="2.4" stroke-opacity="1.00"/><circle cx="612.9" cy="895.7" r="6.2" stroke="#BA5533" stroke-width="2.4" stroke-opacity="1.00"/><circle cx="750.8" cy="900.6" r="6.2" stroke="#BA5533" stroke-width="2.4" stroke-opacity="1.00"/><circle cx="842.2" cy="895.4" r="6.2" stroke="#BA5533" stroke-width="2.4" stroke-opacity="1.00"/></g>
<g stroke="#000" stroke-width="2.6" fill="none" stroke-linecap="butt">
<path d="M74.4,88.3H91.8M91.8,79.8V537.5M74.4,267.4H91.8M74.4,446.6H91.8"/>
<path d="M108.2,569.3V552.9H967.6V569.3M538,552.9V569.3"/>
<path d="M73.1,677.9H90.7M90.7,669.3V1126.6M73.1,857.2H90.7M73.1,1036.5H90.7"/>
<path d="M106.75,1159.2V1142.6H966.2V1159.2M536.5,1142.6V1159.2"/>
</g>
<g font-family="Liberation Sans, sans-serif">
<text x="66.5" y="98.0" font-size="31.5" text-anchor="end" fill="#000" >2</text>
<text x="66.5" y="277.5" font-size="31.5" text-anchor="end" fill="#000" >0</text>
<text x="66.5" y="456.5" font-size="31.5" text-anchor="end" fill="#000" >−2</text>
<text x="108.2" y="597.3" font-size="31.5" text-anchor="middle" fill="#000" >0</text>
<text x="536.7" y="597.3" font-size="31.5" text-anchor="middle" fill="#000" letter-spacing="-1">100</text>
<text x="967.1" y="597.3" font-size="31.5" text-anchor="middle" fill="#000" letter-spacing="-0.5">200</text>
<text x="537.0" y="636.5" font-size="36.0" text-anchor="middle" fill="#000" >Trial</text>
<text x="0.0" y="0.0" font-size="36.0" text-anchor="middle" fill="#000" transform="translate(27.2,309.5) rotate(-90)">Valence</text>
<text x="65.2" y="687.8" font-size="31.5" text-anchor="end" fill="#000" >2</text>
<text x="65.2" y="867.3" font-size="31.5" text-anchor="end" fill="#000" >0</text>
<text x="65.2" y="1046.5" font-size="31.5" text-anchor="end" fill="#000" >−2</text>
<text x="106.8" y="1187.4" font-size="31.5" text-anchor="middle" fill="#000" >0</text>
<text x="536.0" y="1187.4" font-size="31.5" text-anchor="middle" fill="#000" letter-spacing="-1">100</text>
<text x="965.7" y="1187.4" font-size="31.5" text-anchor="middle" fill="#000" letter-spacing="-0.5">200</text>
<text x="536.0" y="1230.3" font-size="36.0" text-anchor="middle" fill="#000" >Trial</text>
<text x="0.0" y="0.0" font-size="36.0" text-anchor="middle" fill="#000" transform="translate(27.2,899) rotate(-90)">Valence</text>
<text x="249.0" y="27.4" font-size="36.4" text-anchor="start" fill="#63AEF9" >Reward (cue 1)</text>
<text x="249.0" y="65.0" font-size="36.4" text-anchor="start" fill="#FFD300" >Reward (cue 2)</text>
<text x="541.3" y="27.4" font-size="36.4" text-anchor="start" fill="#3355BB" >Prediction (cue 1)</text>
<text x="541.3" y="65.0" font-size="36.4" text-anchor="start" fill="#A6722A" >Prediction (cue 2)</text>
<text x="391.9" y="1122.2" font-size="31.5" text-anchor="start" fill="#000" >Reward</text>
<text x="589.7" y="1122.2" font-size="31.5" text-anchor="start" fill="#000" >Prediction</text>
</g>
<path d="M345.1,1113.2H383.4" stroke="#000" stroke-width="4"/>
<circle cx="573.2" cy="1113.1" r="9" fill="none" stroke="#000" stroke-width="2.2"/>
<g font-family="Liberation Sans, sans-serif" font-weight="bold">
<text x="0.0" y="0.0" font-size="62.0" text-anchor="start" fill="#000" transform="translate(0,34) scale(0.93,1)">a</text>
<text x="0.0" y="0.0" font-size="62.0" text-anchor="start" fill="#000" transform="translate(-1.5,679.5)">b</text>
</g></svg>
</body></html>
